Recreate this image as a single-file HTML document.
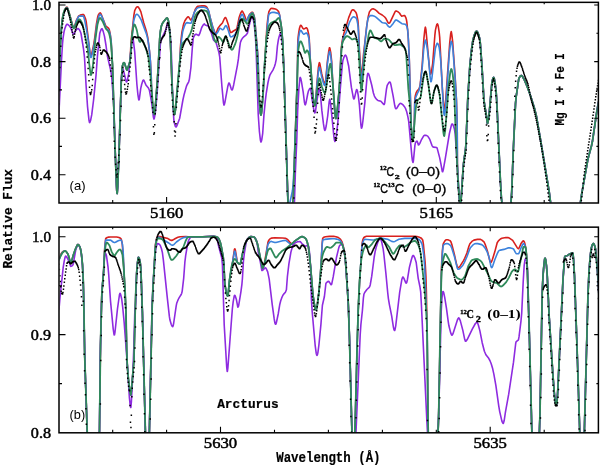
<!DOCTYPE html><html><head><meta charset="utf-8"><style>html,body{margin:0;padding:0;background:#fff}svg{display:block;will-change:transform}</style></head><body><svg width="600" height="465" viewBox="0 0 600 465"><defs><clipPath id="ca"><rect x="59.6" y="2.95" width="538.1999999999999" height="199.45000000000002"/></clipPath><clipPath id="cb"><rect x="59.6" y="227.75" width="538.1999999999999" height="204.45000000000002"/></clipPath></defs><rect width="600" height="465" fill="#fff"/><g clip-path="url(#ca)" fill="none" stroke-width="1.6" stroke-linejoin="round"><path d="M58.7 92.0 60.2 48.7 61.2 30.9 62.0 22.5 62.7 16.9 63.5 13.6 65.5 8.5 66.2 7.4 66.7 7.1 67.2 7.3 67.7 8.2 70.7 18.3 72.5 25.1 73.2 27.1 73.7 27.5 74.0 27.4 74.5 26.5 76.5 20.1 78.7 16.0 79.2 15.6 80.2 15.1 82.7 14.5 83.5 14.6 84.2 15.5 85.7 19.4 86.2 21.7 89.7 50.5 90.2 53.8 90.7 55.4 91.0 55.4 91.2 55.1 91.7 53.7 93.5 45.8 94.7 38.0 96.5 23.6 97.7 16.9 98.2 15.2 99.5 13.2 100.2 12.9 101.0 13.8 105.5 25.4 106.2 26.4 108.5 28.2 109.2 29.4 110.2 33.8 111.2 41.8 112.5 65.6 114.7 137.7 116.2 179.2 116.7 190.3 117.0 193.2 117.2 193.5 117.7 186.6 119.0 153.2 121.2 83.0 122.2 67.6 122.5 65.7 123.0 64.0 123.7 62.7 124.2 62.7 124.7 63.7 126.7 69.7 127.0 70.0 127.2 69.9 129.7 62.5 130.2 58.7 130.9 44.3 131.4 38.4 133.9 15.1 134.7 10.6 135.7 8.5 136.4 7.4 137.4 6.7 137.9 6.8 138.4 7.2 139.4 8.7 140.9 11.9 143.7 22.8 146.4 31.3 147.7 37.2 149.4 50.3 150.4 61.3 151.2 75.0 151.4 86.6 152.4 103.2 153.4 112.4 153.9 114.3 154.2 114.5 154.7 112.9 155.2 108.6 157.4 79.5 159.9 35.3 160.9 28.1 161.9 24.4 163.4 21.8 165.9 18.7 166.9 18.0 167.4 18.2 167.9 19.3 168.4 20.8 168.9 23.4 169.7 30.7 170.4 41.2 171.9 84.0 172.7 97.2 173.7 110.5 174.2 113.9 174.4 114.5 174.7 114.3 174.9 113.4 175.4 109.9 178.9 72.5 179.7 63.0 180.4 47.4 180.9 41.1 181.9 32.4 183.2 25.8 183.9 23.3 184.9 20.7 186.2 18.7 187.4 17.2 187.9 16.9 188.4 16.8 188.9 17.3 190.4 19.7 190.9 20.0 191.4 19.6 193.2 15.8 195.2 9.4 196.9 6.9 197.9 6.2 201.9 5.8 204.2 5.9 205.9 6.3 206.7 7.0 207.7 8.8 208.7 11.2 210.2 17.6 212.7 26.7 214.7 32.1 215.2 33.1 215.7 33.5 215.9 33.4 216.4 32.6 217.7 28.9 218.2 28.0 219.9 25.6 222.4 23.0 224.4 18.5 225.2 17.6 225.7 17.6 226.4 19.0 228.4 25.1 229.9 31.1 230.4 32.3 230.9 32.6 231.7 32.3 233.4 31.0 235.7 29.8 236.7 28.8 236.9 28.3 239.2 17.2 240.7 13.0 241.7 11.3 242.2 11.1 242.9 12.0 244.2 14.6 245.7 18.8 246.4 20.0 246.9 19.8 247.4 19.2 249.2 15.1 250.4 13.5 251.4 12.6 252.2 12.3 252.7 12.4 253.2 13.2 254.2 16.1 254.7 18.6 257.7 53.6 258.2 62.0 258.9 93.9 259.9 108.9 260.4 113.2 260.9 115.0 261.2 114.7 261.7 111.4 262.9 95.7 266.7 29.8 267.2 23.8 268.2 15.3 268.9 11.7 269.9 9.8 270.9 8.6 271.4 8.4 273.4 8.6 275.4 9.0 276.4 9.4 277.7 10.5 278.7 11.8 279.7 15.4 281.4 26.9 282.7 41.8 283.7 65.7 287.9 200.1 289.4 219.8 289.9 223.5 290.4 225.0 290.7 224.8 291.2 222.6 291.9 215.9 292.9 202.7 293.4 192.5 296.4 101.5 297.2 84.2 297.7 46.4 297.9 40.0 298.2 36.5 298.7 32.8 299.4 28.6 300.2 25.9 300.7 25.2 301.2 25.4 302.9 28.3 303.7 29.0 304.4 28.8 305.9 27.8 306.7 27.8 307.2 28.6 307.7 30.0 308.7 34.4 309.2 38.0 310.2 57.7 312.2 88.6 312.7 94.2 313.4 99.7 314.2 104.0 314.7 105.5 314.9 105.7 315.2 104.8 315.4 102.9 317.2 80.0 318.4 67.4 319.2 63.0 319.4 62.7 319.9 63.8 321.7 73.7 323.4 80.7 324.2 83.0 324.7 83.7 324.9 83.8 325.2 83.2 325.7 80.1 327.4 61.4 328.7 51.5 329.4 47.8 329.7 47.7 329.9 48.3 330.7 52.4 331.7 61.7 332.9 85.1 334.4 107.1 335.2 115.5 335.7 118.2 335.9 118.5 336.4 117.1 337.2 111.6 339.4 87.6 340.2 75.0 340.7 57.5 341.2 49.9 341.9 42.7 342.7 38.4 344.2 32.2 346.2 26.4 348.7 17.6 351.4 11.0 352.2 10.0 352.9 9.7 353.9 10.1 355.4 11.7 356.2 13.0 356.7 14.5 357.9 20.3 358.4 26.9 359.4 49.2 360.4 65.6 360.9 72.1 361.4 75.0 361.7 74.6 362.2 70.9 363.4 55.5 366.7 26.2 368.2 16.8 369.4 11.9 370.7 10.1 371.9 9.0 373.2 8.8 374.7 9.4 376.4 10.6 379.2 13.4 382.2 15.0 384.7 17.0 385.7 18.2 387.9 22.4 388.4 23.0 388.9 23.2 389.7 22.8 390.4 21.6 394.9 12.1 395.7 11.1 396.7 11.1 397.7 11.6 399.4 13.0 400.9 15.3 401.7 16.1 402.4 16.0 404.2 15.5 404.7 15.6 404.9 15.8 405.7 17.3 406.4 19.6 406.9 22.5 408.2 36.4 409.2 56.3 411.2 126.2 411.9 136.2 412.7 140.9 412.9 140.8 413.4 137.7 414.2 126.9 414.7 102.9 414.9 98.7 415.4 95.4 416.2 92.7 417.2 90.8 418.7 89.2 419.4 88.0 420.2 84.6 422.2 64.8 423.9 38.5 424.7 30.8 425.2 27.5 425.4 27.1 425.9 29.4 429.2 65.1 429.9 71.4 430.4 73.8 430.7 74.1 430.9 73.8 431.4 72.0 432.7 63.3 434.9 34.8 435.4 30.3 436.2 26.7 436.9 24.3 437.4 23.9 437.7 24.2 438.2 25.9 439.2 32.3 439.7 37.5 442.4 89.3 443.7 106.2 444.2 109.8 444.4 110.2 444.9 108.0 445.7 100.2 449.7 43.0 450.7 33.7 451.2 31.6 451.4 32.1 451.9 35.1 452.7 42.2 455.2 77.8 456.4 98.5 457.2 124.4 457.4 163.3 457.7 176.5 458.2 186.9 459.4 199.3 460.2 210.0 460.4 208.6 461.2 198.3 463.2 167.1 463.9 160.4 465.4 150.7 465.9 144.7 467.9 95.9 469.9 65.0 471.7 48.3 472.9 40.2 474.2 35.6 475.2 32.8 475.9 31.5 476.7 31.2 477.2 31.6 477.7 32.4 478.7 35.0 479.7 38.7 480.2 42.1 481.9 65.2 483.9 99.5 484.7 105.5 486.2 114.3 487.2 122.5 487.4 123.4 487.7 123.2 488.2 120.9 489.4 111.2 491.9 82.3 492.9 78.5 493.4 77.5 493.7 77.4 494.2 78.4 495.2 84.0 496.2 92.7 496.9 103.7 500.4 181.1 501.4 198.3 503.4 214.2 504.4 219.8 505.4 223.6 506.2 224.9 506.7 224.9 507.2 224.4 507.9 222.4 509.4 214.8 510.9 203.3 511.7 192.3 513.2 152.3 515.5 103.7 516.2 96.4 518.7 79.3 519.2 77.8 520.2 76.2 521.0 75.6 521.7 75.6 522.7 76.8 524.7 80.6 527.2 86.6 530.5 95.7 534.2 107.4 536.2 115.2 540.2 138.0 549.2 191.9 550.7 203.4 553.5 230.2 554.7 238.8 557.5 247.8 560.2 254.7 561.5 257.0 562.7 258.7 564.0 259.7 565.0 260.0 566.2 259.7 567.7 258.7 569.0 257.2 570.5 254.7 572.0 251.6 573.5 247.8 576.2 239.2 577.2 232.3 579.7 207.3 581.7 193.9 587.7 160.4 589.0 154.9 591.5 145.7 592.5 141.0 596.7 112.1 598.2 103.7 600.0 95.2" stroke="#d8201e" stroke-width="1.6"/><path d="M58.7 92.0 60.2 48.7 61.5 27.6 62.2 20.9 63.2 15.2 64.2 11.9 65.5 8.9 66.2 7.9 66.7 7.6 67.2 7.8 67.7 8.7 70.7 18.8 72.5 25.6 73.2 27.6 73.7 28.0 74.0 27.9 74.5 27.1 76.2 21.7 78.0 17.7 78.7 16.5 79.2 16.1 83.2 16.1 83.7 16.7 84.7 20.4 86.7 30.7 88.7 43.4 90.2 55.2 90.7 57.3 91.0 57.5 91.5 56.7 92.0 54.9 94.2 44.3 95.0 39.6 96.7 25.6 98.2 18.7 99.0 16.0 99.7 14.5 100.0 14.4 100.5 14.6 101.5 15.9 103.7 21.0 105.7 27.4 106.5 28.6 108.5 30.2 109.5 32.0 110.5 36.2 111.2 41.9 112.5 65.5 114.7 137.7 116.2 179.2 116.7 190.3 117.0 193.2 117.2 193.5 117.7 186.6 119.0 153.2 121.2 83.0 122.2 67.6 122.5 65.7 123.0 64.0 123.7 62.7 124.2 62.7 124.7 63.7 126.7 69.7 127.0 70.0 127.2 69.9 129.7 62.4 130.2 59.5 133.4 23.1 133.9 20.0 134.4 18.3 135.4 15.6 136.2 14.4 136.9 14.2 138.2 15.1 139.4 16.8 141.2 19.9 146.2 33.4 147.2 36.9 148.2 41.7 149.4 50.3 150.4 60.8 151.2 75.3 151.7 91.9 152.4 103.6 153.2 111.0 153.7 113.6 154.2 114.5 154.7 112.9 155.2 108.6 157.2 82.9 158.2 68.0 159.7 38.8 160.4 31.2 161.4 25.9 162.7 22.9 166.4 18.3 167.2 18.0 167.9 19.3 168.4 20.8 168.9 23.4 170.2 37.3 170.9 52.9 172.2 88.6 173.4 107.9 173.9 112.5 174.4 114.5 174.7 114.3 174.9 113.4 175.7 107.6 179.2 69.0 180.7 47.9 181.7 38.5 182.7 31.7 183.2 29.7 184.4 26.2 185.4 24.0 186.2 23.0 186.9 22.6 190.4 23.2 190.9 23.2 191.2 23.0 191.9 21.0 193.9 13.2 196.4 9.0 197.2 8.2 197.9 7.7 200.2 7.2 202.2 7.1 203.9 7.3 205.9 7.8 206.7 8.2 207.7 9.3 208.2 10.0 208.7 11.3 210.2 17.8 212.7 27.1 214.4 32.2 215.4 34.0 215.7 34.2 216.2 34.1 216.9 33.3 218.2 31.5 219.4 28.9 219.9 28.3 220.7 28.5 222.2 29.7 222.9 29.8 223.7 29.0 225.2 26.2 225.9 25.6 226.4 25.9 226.9 26.9 228.4 30.8 229.9 35.7 230.7 36.9 232.2 36.5 234.2 35.3 235.4 33.7 236.7 31.5 237.4 29.1 239.2 21.5 240.9 16.0 241.7 14.5 242.2 14.3 242.7 14.7 244.9 20.1 245.4 20.9 245.9 21.3 246.4 21.0 246.9 20.3 248.4 16.8 249.2 15.5 251.4 13.2 252.2 12.9 252.7 13.0 253.7 15.1 254.4 17.7 254.7 19.3 257.7 53.7 258.2 62.0 258.9 93.9 259.9 108.9 260.4 113.2 260.9 115.0 261.2 114.7 261.4 113.4 262.2 105.8 263.2 92.1 264.9 58.6 265.9 48.1 267.2 28.5 268.4 16.5 268.9 14.3 270.2 13.2 271.4 12.5 272.7 12.3 274.2 12.4 278.2 13.4 279.4 14.5 279.9 16.7 281.7 29.6 282.7 41.8 283.7 65.7 286.4 150.5 287.7 196.1 287.9 199.4 288.4 202.5 288.9 204.3 289.2 204.5 289.7 203.4 292.4 191.0 292.9 186.7 293.4 179.6 294.2 165.0 295.2 130.6 295.4 130.0 295.7 127.8 295.9 120.6 297.2 82.0 297.9 45.6 298.7 37.3 299.4 33.1 300.2 30.7 300.7 30.3 301.2 30.7 302.9 33.5 303.7 34.2 304.4 34.0 306.2 32.9 306.9 33.2 307.9 35.0 308.9 38.5 309.4 43.9 310.2 58.4 312.4 91.6 313.7 101.3 314.2 104.0 314.7 105.5 314.9 105.7 315.2 104.9 315.4 103.3 317.2 82.9 318.4 71.7 319.2 67.5 319.4 67.3 319.9 68.2 321.7 76.9 323.4 83.0 324.2 84.9 324.7 85.5 324.9 85.6 325.2 85.0 325.7 82.0 327.4 63.9 328.7 54.9 329.4 51.7 329.7 51.6 329.9 52.1 330.7 55.8 331.7 64.1 332.9 85.2 334.7 110.2 335.4 117.2 335.7 118.2 335.9 118.5 336.4 117.1 337.2 111.6 339.2 90.1 339.9 79.5 340.9 56.3 341.4 49.9 342.2 43.4 342.7 40.7 343.4 37.9 344.2 36.2 346.4 32.2 349.2 22.9 351.2 19.0 352.2 17.6 353.2 16.8 354.4 17.0 355.7 17.7 356.2 18.1 356.7 19.2 357.7 23.8 358.2 27.9 359.4 54.2 360.4 70.5 360.9 76.9 361.4 79.8 361.7 79.4 362.2 75.9 364.9 43.5 366.4 29.4 367.4 21.5 367.9 19.0 368.4 17.8 369.7 16.1 370.7 15.5 372.2 15.6 374.4 16.2 376.2 17.4 381.9 22.4 382.9 22.7 385.4 23.1 386.2 23.5 388.4 26.4 389.4 27.1 390.2 26.9 390.9 26.2 393.2 23.4 395.2 20.5 395.9 20.0 396.4 20.0 397.4 20.5 401.9 23.7 405.2 24.3 405.9 24.7 406.7 26.0 407.7 29.7 408.4 39.9 409.4 63.0 411.2 126.2 411.9 136.2 412.7 140.9 412.9 140.8 413.4 137.7 414.2 126.9 414.7 104.6 414.9 100.9 415.7 97.4 417.4 93.4 418.9 90.6 419.9 87.0 420.9 79.6 422.2 68.0 423.7 49.5 424.7 42.3 425.2 40.2 425.4 40.0 425.9 41.2 427.2 48.2 428.7 60.9 430.2 77.7 430.7 81.1 430.9 81.8 431.2 81.6 431.4 80.9 431.9 78.1 435.4 48.2 436.7 44.0 437.2 43.3 437.4 43.2 438.2 44.3 439.2 47.6 439.9 52.3 440.9 62.6 443.4 107.8 443.9 113.5 444.2 115.0 444.4 115.4 444.9 113.5 445.7 106.0 449.4 52.4 450.7 42.6 451.2 41.3 451.7 42.1 452.2 44.3 452.9 49.3 455.2 79.6 456.4 99.5 457.2 124.6 457.4 163.3 457.7 176.5 458.2 186.9 459.4 199.3 460.2 210.0 460.4 208.6 461.2 198.3 463.2 167.1 463.9 160.4 465.4 150.7 465.9 144.7 467.9 95.9 469.9 65.0 471.7 48.3 472.9 40.2 474.2 35.6 475.2 32.8 475.9 31.5 476.7 31.2 477.2 31.6 477.7 32.4 478.7 35.0 479.7 38.7 480.2 42.1 481.9 65.2 483.9 99.5 484.7 105.5 486.2 114.3 487.2 122.5 487.4 123.4 487.7 123.2 488.2 120.9 489.4 111.2 491.9 82.3 492.9 78.5 493.4 77.5 493.7 77.4 494.2 78.4 495.2 84.0 496.2 92.7 496.9 103.7 500.4 181.1 501.4 198.3 503.4 214.2 504.4 219.8 505.4 223.6 506.2 224.9 506.7 224.9 507.2 224.4 507.9 222.4 509.4 214.8 510.9 203.3 511.7 192.3 513.2 152.3 515.5 103.7 516.2 96.4 518.7 79.3 519.2 77.8 520.2 76.2 521.0 75.6 521.7 75.6 522.7 76.8 524.7 80.6 527.2 86.6 530.5 95.7 534.2 107.4 536.2 115.2 540.2 138.0 549.2 191.9 550.7 203.4 553.5 230.2 554.7 238.8 557.5 247.8 560.2 254.7 561.5 257.0 562.7 258.7 564.0 259.7 565.0 260.0 566.2 259.7 567.7 258.7 569.0 257.2 570.5 254.7 572.0 251.6 573.5 247.8 576.2 239.2 577.2 232.3 579.7 207.3 581.7 193.9 587.7 160.4 589.0 154.9 591.5 145.7 592.5 141.0 596.7 112.1 598.2 103.7 600.0 95.2" stroke="#3c82dc" stroke-width="1.6"/><path d="M58.7 118.0 61.5 60.0 62.5 44.0 63.0 38.4 64.0 31.9 64.7 29.1 66.0 25.5 66.7 24.4 67.2 24.3 68.2 24.8 69.5 26.0 70.7 27.7 72.7 33.3 73.5 34.2 74.0 33.8 75.2 31.3 76.2 30.0 77.2 28.9 78.0 28.6 78.7 28.9 79.5 29.9 80.5 32.0 81.0 33.4 83.5 48.8 84.5 57.5 86.0 84.2 87.5 106.3 89.0 120.3 89.5 122.5 89.7 122.6 90.5 120.8 91.7 114.9 93.7 99.0 96.0 75.6 97.5 55.3 99.7 33.8 100.0 32.5 101.0 29.7 101.7 28.7 102.2 28.8 103.2 31.4 104.5 36.4 106.0 45.5 107.5 56.6 110.7 70.2 111.7 76.8 113.7 103.9 116.2 179.2 116.7 190.3 117.0 193.2 117.2 193.5 117.7 186.6 119.0 153.2 121.2 82.4 122.0 71.1 122.5 68.0 122.7 68.1 123.5 70.4 126.0 81.1 126.5 82.0 126.7 81.9 127.2 80.9 128.7 73.8 131.4 44.8 132.2 39.5 132.7 37.5 132.9 37.7 133.2 39.0 134.7 51.8 136.9 84.5 137.9 94.6 138.7 99.5 138.9 100.0 139.2 99.7 139.4 98.6 140.7 88.6 141.7 84.3 142.9 80.6 143.4 80.0 143.9 80.2 145.9 84.9 148.4 88.0 149.4 90.3 150.9 98.3 152.2 106.4 153.4 117.1 153.9 119.0 154.2 118.8 154.4 117.9 155.2 113.8 156.4 101.6 157.4 89.0 160.4 43.6 161.4 39.3 165.7 29.8 166.4 27.8 167.4 23.6 167.7 23.2 167.9 23.5 168.9 27.1 169.7 31.1 170.9 42.6 171.4 53.8 172.4 88.7 173.7 117.9 173.9 120.7 174.7 124.3 175.4 126.5 175.9 127.0 176.4 126.7 176.9 125.7 179.7 118.2 182.9 100.0 184.2 94.2 186.4 86.4 187.2 84.5 188.7 81.8 189.4 79.1 190.9 67.5 192.4 46.8 193.2 38.8 193.4 37.5 194.7 35.1 195.4 34.4 195.9 34.2 196.7 34.4 198.2 35.4 198.7 35.5 198.9 35.3 199.7 33.7 201.7 27.5 203.4 24.6 204.4 23.9 205.2 25.1 207.9 26.0 208.4 26.3 208.9 27.0 211.2 32.5 213.4 39.8 213.9 40.5 215.4 41.8 216.2 43.1 218.9 52.4 219.7 56.8 221.9 86.2 223.4 102.3 223.9 105.0 224.2 104.9 224.4 104.3 224.9 102.3 227.9 85.9 228.7 83.3 228.9 83.0 229.2 83.1 229.7 84.0 231.2 88.8 231.7 89.8 231.9 90.0 232.2 89.9 232.7 88.9 233.7 84.7 237.4 65.3 238.4 58.9 239.7 47.4 240.4 42.5 241.4 39.9 242.4 38.3 243.4 37.2 246.2 34.9 247.4 33.2 250.7 19.1 251.7 16.8 252.2 16.2 252.4 16.1 252.9 17.4 254.2 24.3 255.4 35.7 256.2 52.4 258.2 114.0 259.4 131.5 260.4 140.1 260.9 142.0 261.2 141.8 261.7 140.1 262.7 133.3 263.9 115.6 265.2 101.8 266.2 93.6 267.9 83.0 268.9 78.4 269.9 75.1 270.7 73.6 272.9 70.1 274.4 66.7 275.4 63.4 276.2 59.6 277.4 46.1 278.4 39.7 279.2 36.4 279.9 34.3 280.4 33.6 280.7 33.5 280.9 34.0 281.4 36.1 282.7 46.2 283.7 64.4 287.9 200.1 289.4 219.8 289.9 223.5 290.4 225.0 290.7 224.6 291.2 220.6 292.7 202.9 292.9 202.0 293.2 202.2 294.2 204.9 294.4 203.9 295.4 171.3 296.7 142.1 297.7 110.1 298.9 88.5 299.9 78.0 300.2 77.4 300.7 78.1 301.4 81.4 303.2 92.2 304.4 102.0 304.9 104.4 305.2 104.8 305.4 104.6 305.9 103.3 307.7 94.0 308.4 91.1 309.7 88.7 310.2 88.3 310.4 88.4 310.9 90.5 312.2 100.1 313.7 109.1 314.2 111.5 314.7 112.9 314.9 113.0 315.4 111.7 317.2 99.1 318.4 91.6 318.9 89.2 319.2 88.5 319.4 88.3 319.7 88.9 320.2 92.0 321.9 110.9 323.4 123.4 324.2 128.5 324.7 130.2 324.9 130.4 325.4 129.5 326.2 126.0 327.7 116.0 329.2 101.7 329.7 99.4 329.9 99.5 330.7 104.1 333.9 136.6 334.4 140.0 334.9 141.4 335.2 141.2 335.4 140.7 336.2 136.7 337.9 121.6 340.2 89.8 342.4 64.0 342.9 60.5 343.7 57.9 344.7 55.6 345.4 55.0 345.9 55.5 346.7 57.4 348.7 66.3 351.4 87.4 353.4 98.1 353.9 99.0 354.4 98.3 356.4 89.9 356.7 89.5 356.9 89.6 357.4 90.9 358.2 95.2 359.4 104.9 360.9 125.0 361.4 128.2 361.7 128.0 362.2 126.3 362.9 121.0 364.9 102.2 366.9 78.9 367.4 75.0 367.9 73.3 368.2 73.4 368.7 74.1 369.4 76.2 371.7 85.0 373.4 93.0 374.4 96.1 375.7 98.3 376.9 99.7 377.9 100.4 380.9 101.3 383.7 104.4 384.2 104.5 384.7 102.9 386.4 89.5 387.2 85.4 388.7 82.8 389.4 82.1 389.9 82.0 390.4 82.8 390.9 84.6 393.2 96.4 394.7 105.3 395.2 107.5 395.7 108.7 396.2 108.7 396.7 108.3 398.7 105.0 399.7 103.8 400.2 103.4 400.9 103.5 401.7 103.8 402.7 104.6 404.7 107.0 405.7 108.9 406.7 111.8 407.9 116.9 408.7 121.4 411.9 156.6 412.4 160.6 412.9 162.4 413.2 162.0 413.4 160.8 414.9 145.4 415.4 142.9 416.2 141.6 416.9 141.0 417.4 141.8 418.4 144.9 418.9 144.8 419.7 143.6 421.2 140.2 423.7 135.9 424.7 135.2 426.2 135.4 427.7 136.1 428.9 137.9 429.9 139.7 431.9 145.3 432.7 146.7 433.4 147.1 436.7 147.5 437.2 148.4 439.7 157.9 440.9 163.8 442.2 171.0 442.4 171.7 442.7 171.8 443.4 169.2 445.4 157.8 449.4 133.5 451.4 125.1 451.9 124.1 452.2 124.0 452.7 124.3 453.4 125.7 454.4 129.0 455.2 134.1 460.2 210.0 460.4 208.6 461.2 198.3 463.2 167.1 463.9 160.4 465.4 150.7 465.9 144.7 467.9 95.9 469.9 65.0 471.7 48.3 472.9 40.2 474.2 35.6 475.2 32.8 475.9 31.5 476.7 31.2 477.2 31.6 477.7 32.4 478.7 35.0 479.7 38.7 480.2 42.1 481.9 65.2 483.9 99.5 484.7 105.5 486.2 114.3 487.2 122.5 487.4 123.4 487.7 123.2 488.2 120.9 489.4 111.2 491.9 82.3 492.9 78.5 493.4 77.5 493.7 77.4 494.2 78.4 495.2 84.0 496.2 92.7 496.9 103.7 500.4 181.1 501.4 198.3 503.4 214.2 504.4 219.8 505.4 223.6 506.2 224.9 506.7 224.9 507.2 224.4 507.9 222.4 509.4 214.8 510.9 203.3 511.7 192.3 513.2 152.3 515.5 103.7 516.2 96.4 518.7 79.3 519.2 77.8 520.2 76.2 521.0 75.6 521.7 75.6 522.7 76.8 524.7 80.6 527.2 86.6 530.5 95.7 534.2 107.4 536.2 115.2 540.2 138.0 549.2 191.9 550.7 203.4 553.5 230.2 554.7 238.8 557.5 247.8 560.2 254.7 561.5 257.0 562.7 258.7 564.0 259.7 565.2 260.0 566.5 259.6 567.7 258.7 569.0 257.2 570.5 254.7 572.0 251.6 573.5 247.8 576.2 239.2 577.2 232.3 579.7 207.3 581.7 193.9 587.7 160.4 589.0 154.9 591.5 145.7 592.5 141.0 596.7 112.1 598.2 103.7 600.0 95.2" stroke="#8e2be0" stroke-width="1.6"/><path d="M58.7 92.0 60.2 48.7 61.2 30.8 62.0 22.6 62.7 16.9 63.7 12.3 64.7 9.6 65.7 8.5 66.7 8.0 67.2 8.2 67.7 9.1 69.0 12.4 71.7 23.5 73.0 27.3 73.5 28.3 73.7 28.4 74.2 27.9 76.5 23.0 78.2 20.2 79.0 19.5 79.7 19.5 80.5 20.2 82.2 23.3 83.0 26.1 87.2 45.9 88.0 50.9 89.2 63.5 90.2 71.5 90.7 74.4 91.0 75.0 91.2 74.8 91.7 72.9 93.0 64.8 95.5 38.3 97.5 24.4 98.5 20.7 99.2 18.8 99.7 18.1 100.0 18.0 100.5 18.2 101.7 19.9 103.0 22.1 105.5 28.0 106.2 29.1 108.0 31.0 109.0 33.1 109.7 35.8 110.5 39.6 111.2 45.8 112.5 64.9 115.2 152.2 116.5 185.4 117.0 193.2 117.2 193.5 117.7 186.6 119.0 153.2 121.2 83.0 122.2 67.6 122.5 65.7 123.0 64.0 123.7 62.7 124.2 62.7 124.7 63.7 126.7 69.7 127.0 70.0 127.2 69.9 129.4 63.3 129.9 61.3 130.4 57.0 132.2 33.5 133.2 27.8 133.7 25.8 134.2 24.7 134.4 24.5 134.9 24.8 135.9 27.3 136.9 30.6 138.4 38.2 139.4 41.4 139.7 41.9 140.2 41.9 141.4 40.3 141.9 40.0 142.4 40.3 142.9 41.1 146.4 50.0 148.2 56.3 148.9 60.8 150.2 72.0 153.2 108.8 153.7 112.9 154.2 114.5 154.7 112.9 155.2 108.6 157.2 82.9 158.2 68.0 159.7 38.8 160.4 31.2 161.4 25.9 162.7 22.9 166.4 18.3 167.2 18.0 167.7 18.7 168.4 20.8 168.9 23.4 170.2 37.3 170.9 52.9 172.2 88.6 173.4 107.9 173.9 112.5 174.4 114.5 174.7 114.3 174.9 113.4 175.4 109.9 179.4 64.9 180.9 51.1 181.7 46.1 182.2 44.5 183.2 42.7 188.2 37.5 189.9 34.5 190.9 32.2 191.9 29.0 194.9 16.7 195.7 14.9 196.9 13.1 198.4 11.7 200.2 10.8 201.7 10.4 204.2 10.4 206.7 11.2 207.7 13.0 209.2 17.5 213.9 37.8 214.4 39.5 215.4 41.5 215.9 42.1 216.4 42.2 216.9 41.1 217.9 37.5 218.4 36.9 219.2 37.2 220.4 38.3 221.4 39.5 222.7 41.8 223.2 42.3 223.4 42.2 223.9 40.9 224.9 37.0 225.4 36.3 226.2 37.3 229.9 46.9 231.2 49.2 231.9 49.8 232.7 49.2 233.4 48.0 234.9 44.7 235.9 41.8 237.4 36.3 239.7 23.9 241.4 19.2 241.9 18.6 242.2 18.6 243.2 19.1 244.9 20.9 246.7 23.6 247.2 23.9 247.4 23.9 248.2 22.6 249.4 18.8 251.2 14.9 251.9 13.7 252.4 13.5 252.7 13.7 253.7 16.1 254.2 19.1 255.7 35.9 257.2 58.6 258.9 94.3 260.2 110.5 260.7 114.3 260.9 115.0 261.2 114.7 261.4 113.4 262.2 105.8 263.2 92.1 264.7 62.9 265.7 47.6 266.4 38.0 267.2 32.4 268.4 27.1 268.9 25.7 269.7 24.4 270.7 23.3 271.7 22.6 275.9 20.6 277.9 18.3 278.7 18.0 279.2 18.5 279.7 19.4 280.9 23.6 281.7 29.5 282.7 41.8 283.7 65.7 287.9 200.1 289.4 219.8 289.9 223.5 290.4 225.0 290.7 224.8 290.9 224.0 291.7 218.5 293.2 198.5 297.9 58.9 298.4 49.4 299.2 44.7 299.9 42.1 300.4 41.3 300.7 41.3 301.2 41.7 301.7 42.6 303.4 47.3 304.4 51.5 304.9 52.8 305.2 52.9 305.4 52.7 306.7 50.5 307.2 50.4 307.7 50.9 308.2 51.9 309.2 54.9 309.9 59.4 310.7 66.0 312.7 94.0 313.9 102.8 314.7 105.5 314.9 105.7 315.2 105.2 315.7 102.8 317.4 88.3 318.7 80.4 319.2 78.5 319.4 78.3 319.7 78.5 320.2 79.7 321.9 86.7 323.4 90.8 324.2 92.4 324.9 93.0 325.4 91.9 325.9 89.4 329.4 66.5 330.2 63.8 330.4 63.7 330.7 64.2 331.4 69.2 333.2 88.4 335.2 114.9 335.7 118.2 335.9 118.5 336.4 117.1 336.9 113.8 338.9 92.4 341.7 46.7 342.2 43.9 342.9 41.5 343.7 39.9 345.4 37.3 346.2 36.5 346.9 36.1 347.7 36.2 348.7 36.8 351.9 39.4 352.7 39.3 354.4 38.7 355.4 38.9 356.4 39.8 357.4 41.4 357.9 44.1 358.7 51.1 360.9 87.5 361.4 91.6 361.7 91.0 361.9 89.1 364.7 55.7 365.4 51.5 366.9 45.4 368.7 34.7 369.7 31.2 370.2 30.3 370.4 30.3 371.2 31.4 373.9 37.3 374.9 37.9 377.7 38.9 380.4 41.1 381.2 41.3 381.7 41.1 383.7 39.1 384.4 38.7 386.2 38.9 388.2 39.4 389.2 40.0 391.4 42.6 394.4 45.0 395.7 45.2 399.4 44.5 400.4 44.7 401.4 45.2 404.2 47.4 405.4 49.6 405.9 51.7 406.2 54.1 408.4 89.4 409.9 104.4 411.2 126.7 412.2 138.1 412.7 140.9 412.9 140.7 413.2 139.0 415.2 114.3 415.9 107.3 416.9 102.7 417.7 100.5 418.4 99.5 420.2 98.1 420.7 96.8 423.9 74.9 424.4 72.7 424.9 71.9 425.4 71.5 425.7 71.6 426.2 72.8 426.9 76.3 428.4 84.7 430.4 99.8 430.9 102.3 431.4 103.4 431.7 103.2 432.2 101.7 433.9 91.8 435.7 86.5 436.4 85.4 436.9 85.4 437.4 86.2 437.9 87.5 439.7 95.3 443.4 132.6 443.9 135.6 444.2 136.0 444.4 135.6 445.2 130.3 446.7 112.6 448.7 84.4 450.4 71.3 451.2 69.0 451.4 69.1 451.7 69.5 452.7 74.1 453.9 85.0 454.4 95.3 455.4 126.2 456.9 159.7 457.9 177.5 460.2 210.0 460.4 208.6 461.2 198.3 463.2 167.1 463.9 160.4 465.4 150.7 465.9 144.7 467.9 95.9 469.9 65.0 471.7 48.3 472.9 40.2 474.2 35.6 475.2 32.8 475.9 31.5 476.7 31.2 477.2 31.6 477.7 32.4 478.7 35.0 479.7 38.7 480.2 42.1 481.9 65.2 483.9 99.5 484.7 105.5 486.2 114.3 487.2 122.5 487.4 123.4 487.7 123.2 488.2 120.9 489.4 111.2 491.9 82.3 492.9 78.5 493.4 77.5 493.7 77.4 494.2 78.4 495.2 84.0 496.2 92.7 496.9 103.7 500.4 181.1 501.4 198.3 503.4 214.2 504.4 219.8 505.4 223.6 506.2 224.9 506.7 224.9 507.2 224.4 507.9 222.4 509.4 214.8 510.9 203.3 511.7 192.3 513.2 152.3 515.5 103.7 516.2 96.4 518.7 79.3 519.2 77.8 520.2 76.2 521.0 75.6 521.7 75.6 522.7 76.8 524.7 80.6 527.2 86.6 530.5 95.7 534.2 107.4 536.2 115.2 540.2 138.0 549.2 191.9 550.7 203.4 553.5 230.2 554.7 238.8 557.5 247.8 560.2 254.7 561.5 257.0 562.7 258.7 564.0 259.7 565.0 260.0 566.2 259.7 567.7 258.7 569.0 257.2 570.5 254.7 572.0 251.6 573.5 247.8 576.2 239.2 577.2 232.3 579.7 207.3 581.7 193.9 587.7 160.4 589.0 154.9 591.5 145.7 592.5 141.0 596.7 112.1 598.2 103.7 600.0 95.2" stroke="#2f8a5a" stroke-width="1.8"/><path d="M58.1 103.2h1.5v1.5h-1.5zM58.6 88.7h1.5v1.5h-1.5zM59.1 66.8h1.5v1.5h-1.5zM59.5 55.0h1.5v1.5h-1.5zM60.0 45.4h1.5v1.5h-1.5zM60.4 37.7h1.5v1.5h-1.5zM60.9 31.5h1.5v1.5h-1.5zM61.3 26.9h1.5v1.5h-1.5zM61.8 23.3h1.5v1.5h-1.5zM62.2 20.2h1.5v1.5h-1.5zM62.7 17.4h1.5v1.5h-1.5zM63.1 14.5h1.5v1.5h-1.5zM63.6 12.0h1.5v1.5h-1.5zM64.0 10.4h1.5v1.5h-1.5zM64.5 9.4h1.5v1.5h-1.5zM64.9 8.6h1.5v1.5h-1.5zM65.4 8.0h1.5v1.5h-1.5zM65.8 7.7h1.5v1.5h-1.5zM66.3 7.8h1.5v1.5h-1.5zM66.7 8.6h1.5v1.5h-1.5zM67.2 10.1h1.5v1.5h-1.5zM67.6 11.7h1.5v1.5h-1.5zM68.1 13.3h1.5v1.5h-1.5zM68.5 15.1h1.5v1.5h-1.5zM69.0 17.0h1.5v1.5h-1.5zM69.4 19.1h1.5v1.5h-1.5zM69.9 21.4h1.5v1.5h-1.5zM70.3 23.9h1.5v1.5h-1.5zM70.8 26.5h1.5v1.5h-1.5zM71.2 29.0h1.5v1.5h-1.5zM71.7 31.6h1.5v1.5h-1.5zM72.1 34.3h1.5v1.5h-1.5zM72.6 36.5h1.5v1.5h-1.5zM73.0 37.2h1.5v1.5h-1.5zM73.5 35.9h1.5v1.5h-1.5zM73.9 33.3h1.5v1.5h-1.5zM74.4 30.7h1.5v1.5h-1.5zM74.8 28.9h1.5v1.5h-1.5zM75.3 27.2h1.5v1.5h-1.5zM75.7 25.7h1.5v1.5h-1.5zM76.2 24.6h1.5v1.5h-1.5zM76.6 23.5h1.5v1.5h-1.5zM77.1 22.4h1.5v1.5h-1.5zM77.5 21.6h1.5v1.5h-1.5zM78.0 20.9h1.5v1.5h-1.5zM78.4 20.6h1.5v1.5h-1.5zM78.9 20.6h1.5v1.5h-1.5zM79.3 20.9h1.5v1.5h-1.5zM79.8 21.4h1.5v1.5h-1.5zM80.2 22.0h1.5v1.5h-1.5zM80.7 22.8h1.5v1.5h-1.5zM81.1 23.7h1.5v1.5h-1.5zM81.6 24.6h1.5v1.5h-1.5zM82.0 25.7h1.5v1.5h-1.5zM82.5 27.1h1.5v1.5h-1.5zM82.9 28.8h1.5v1.5h-1.5zM83.4 30.9h1.5v1.5h-1.5zM83.8 33.3h1.5v1.5h-1.5zM84.3 36.0h1.5v1.5h-1.5zM84.7 38.9h1.5v1.5h-1.5zM85.2 42.0h1.5v1.5h-1.5zM85.6 46.2h1.5v1.5h-1.5zM86.1 51.0h1.5v1.5h-1.5zM86.5 56.3h1.5v1.5h-1.5zM87.0 61.7h1.5v1.5h-1.5zM87.4 67.8h1.5v1.5h-1.5zM87.9 74.0h1.5v1.5h-1.5zM88.3 79.9h1.5v1.5h-1.5zM88.8 86.4h1.5v1.5h-1.5zM89.2 92.1h1.5v1.5h-1.5zM89.7 93.8h1.5v1.5h-1.5zM90.1 92.9h1.5v1.5h-1.5zM90.6 91.2h1.5v1.5h-1.5zM91.0 89.0h1.5v1.5h-1.5zM91.5 84.8h1.5v1.5h-1.5zM91.9 78.7h1.5v1.5h-1.5zM92.4 72.1h1.5v1.5h-1.5zM92.8 66.7h1.5v1.5h-1.5zM93.3 62.2h1.5v1.5h-1.5zM93.7 57.9h1.5v1.5h-1.5zM94.2 54.1h1.5v1.5h-1.5zM94.6 51.1h1.5v1.5h-1.5zM95.1 48.8h1.5v1.5h-1.5zM95.5 46.6h1.5v1.5h-1.5zM96.0 44.6h1.5v1.5h-1.5zM96.4 43.1h1.5v1.5h-1.5zM96.9 42.3h1.5v1.5h-1.5zM97.3 42.3h1.5v1.5h-1.5zM97.8 42.9h1.5v1.5h-1.5zM98.2 43.9h1.5v1.5h-1.5zM98.7 45.0h1.5v1.5h-1.5zM99.1 46.7h1.5v1.5h-1.5zM99.6 49.6h1.5v1.5h-1.5zM100.0 52.3h1.5v1.5h-1.5zM100.5 53.5h1.5v1.5h-1.5zM100.9 53.0h1.5v1.5h-1.5zM101.4 52.0h1.5v1.5h-1.5zM101.8 50.8h1.5v1.5h-1.5zM102.3 49.8h1.5v1.5h-1.5zM102.7 49.3h1.5v1.5h-1.5zM103.2 49.3h1.5v1.5h-1.5zM103.6 49.6h1.5v1.5h-1.5zM104.1 50.0h1.5v1.5h-1.5zM104.5 50.4h1.5v1.5h-1.5zM105.0 50.8h1.5v1.5h-1.5zM105.4 51.3h1.5v1.5h-1.5zM105.9 51.8h1.5v1.5h-1.5zM106.3 52.4h1.5v1.5h-1.5zM106.8 53.1h1.5v1.5h-1.5zM107.2 53.9h1.5v1.5h-1.5zM107.7 54.8h1.5v1.5h-1.5zM108.1 56.0h1.5v1.5h-1.5zM108.6 57.5h1.5v1.5h-1.5zM109.0 59.5h1.5v1.5h-1.5zM109.5 64.2h1.5v1.5h-1.5zM109.9 70.3h1.5v1.5h-1.5zM110.4 75.4h1.5v1.5h-1.5zM110.8 57.6h1.5v1.5h-1.5zM111.3 67.5h1.5v1.5h-1.5zM111.7 82.6h1.5v1.5h-1.5zM112.2 98.3h1.5v1.5h-1.5zM112.6 112.4h1.5v1.5h-1.5zM113.1 126.7h1.5v1.5h-1.5zM113.5 140.6h1.5v1.5h-1.5zM114.0 147.6h1.5v1.5h-1.5zM114.4 156.6h1.5v1.5h-1.5zM114.9 163.5h1.5v1.5h-1.5zM115.3 169.1h1.5v1.5h-1.5zM115.8 174.2h1.5v1.5h-1.5zM116.2 176.2h1.5v1.5h-1.5zM116.7 173.2h1.5v1.5h-1.5zM117.1 167.8h1.5v1.5h-1.5zM117.6 162.0h1.5v1.5h-1.5zM118.0 154.5h1.5v1.5h-1.5zM118.5 161.1h1.5v1.5h-1.5zM118.9 148.5h1.5v1.5h-1.5zM119.4 134.0h1.5v1.5h-1.5zM119.8 119.8h1.5v1.5h-1.5zM120.3 105.6h1.5v1.5h-1.5zM120.7 91.2h1.5v1.5h-1.5zM121.2 79.4h1.5v1.5h-1.5zM121.6 72.1h1.5v1.5h-1.5zM122.1 66.7h1.5v1.5h-1.5zM122.5 70.7h1.5v1.5h-1.5zM123.0 75.5h1.5v1.5h-1.5zM123.4 79.5h1.5v1.5h-1.5zM123.9 83.8h1.5v1.5h-1.5zM124.3 88.2h1.5v1.5h-1.5zM124.8 91.6h1.5v1.5h-1.5zM125.2 93.2h1.5v1.5h-1.5zM125.7 92.7h1.5v1.5h-1.5zM126.1 91.0h1.5v1.5h-1.5zM126.6 88.6h1.5v1.5h-1.5zM127.0 85.8h1.5v1.5h-1.5zM127.5 82.9h1.5v1.5h-1.5zM127.9 79.4h1.5v1.5h-1.5zM128.4 75.2h1.5v1.5h-1.5zM128.8 70.7h1.5v1.5h-1.5zM129.3 66.2h1.5v1.5h-1.5zM129.7 61.9h1.5v1.5h-1.5zM130.2 57.3h1.5v1.5h-1.5zM130.6 52.6h1.5v1.5h-1.5zM131.1 46.9h1.5v1.5h-1.5zM131.5 41.7h1.5v1.5h-1.5zM132.0 38.8h1.5v1.5h-1.5zM132.4 37.3h1.5v1.5h-1.5zM132.9 36.7h1.5v1.5h-1.5zM133.3 36.3h1.5v1.5h-1.5zM133.8 36.1h1.5v1.5h-1.5zM134.2 36.1h1.5v1.5h-1.5zM134.7 36.2h1.5v1.5h-1.5zM135.1 36.6h1.5v1.5h-1.5zM135.6 37.0h1.5v1.5h-1.5zM136.0 37.0h1.5v1.5h-1.5zM136.5 36.8h1.5v1.5h-1.5zM136.9 36.5h1.5v1.5h-1.5zM137.4 36.5h1.5v1.5h-1.5zM137.8 36.5h1.5v1.5h-1.5zM138.3 36.6h1.5v1.5h-1.5zM138.7 36.7h1.5v1.5h-1.5zM139.2 36.9h1.5v1.5h-1.5zM139.6 37.3h1.5v1.5h-1.5zM140.1 38.0h1.5v1.5h-1.5zM140.5 38.6h1.5v1.5h-1.5zM141.0 39.2h1.5v1.5h-1.5zM141.4 39.8h1.5v1.5h-1.5zM141.9 40.6h1.5v1.5h-1.5zM142.3 41.3h1.5v1.5h-1.5zM142.8 42.1h1.5v1.5h-1.5zM143.2 43.0h1.5v1.5h-1.5zM143.7 43.9h1.5v1.5h-1.5zM144.1 44.9h1.5v1.5h-1.5zM144.6 46.0h1.5v1.5h-1.5zM145.0 47.1h1.5v1.5h-1.5zM145.5 48.2h1.5v1.5h-1.5zM145.9 49.5h1.5v1.5h-1.5zM146.4 51.0h1.5v1.5h-1.5zM146.8 52.8h1.5v1.5h-1.5zM147.3 55.6h1.5v1.5h-1.5zM147.7 60.6h1.5v1.5h-1.5zM148.2 65.8h1.5v1.5h-1.5zM148.6 69.0h1.5v1.5h-1.5zM149.1 73.6h1.5v1.5h-1.5zM149.5 79.2h1.5v1.5h-1.5zM150.0 85.0h1.5v1.5h-1.5zM150.4 90.1h1.5v1.5h-1.5zM150.9 95.8h1.5v1.5h-1.5zM151.3 101.7h1.5v1.5h-1.5zM151.8 107.1h1.5v1.5h-1.5zM152.2 111.4h1.5v1.5h-1.5zM152.7 125.9h1.5v1.5h-1.5zM153.1 133.6h1.5v1.5h-1.5zM153.6 132.0h1.5v1.5h-1.5zM154.0 123.9h1.5v1.5h-1.5zM154.5 113.0h1.5v1.5h-1.5zM154.9 109.5h1.5v1.5h-1.5zM155.4 104.4h1.5v1.5h-1.5zM155.8 98.5h1.5v1.5h-1.5zM156.3 92.3h1.5v1.5h-1.5zM156.7 86.6h1.5v1.5h-1.5zM157.2 80.7h1.5v1.5h-1.5zM157.6 74.2h1.5v1.5h-1.5zM158.1 67.0h1.5v1.5h-1.5zM158.5 58.6h1.5v1.5h-1.5zM159.0 56.9h1.5v1.5h-1.5zM159.4 49.1h1.5v1.5h-1.5zM159.9 41.8h1.5v1.5h-1.5zM160.3 40.0h1.5v1.5h-1.5zM160.8 38.7h1.5v1.5h-1.5zM161.2 37.8h1.5v1.5h-1.5zM161.7 37.0h1.5v1.5h-1.5zM162.1 36.2h1.5v1.5h-1.5zM162.6 35.7h1.5v1.5h-1.5zM163.0 35.2h1.5v1.5h-1.5zM163.5 34.6h1.5v1.5h-1.5zM163.9 33.7h1.5v1.5h-1.5zM164.4 32.3h1.5v1.5h-1.5zM164.8 30.4h1.5v1.5h-1.5zM165.3 28.4h1.5v1.5h-1.5zM165.7 26.5h1.5v1.5h-1.5zM166.2 24.5h1.5v1.5h-1.5zM166.6 22.5h1.5v1.5h-1.5zM167.1 21.9h1.5v1.5h-1.5zM167.5 23.0h1.5v1.5h-1.5zM168.0 24.8h1.5v1.5h-1.5zM168.4 26.8h1.5v1.5h-1.5zM168.9 29.0h1.5v1.5h-1.5zM169.3 31.9h1.5v1.5h-1.5zM169.8 35.8h1.5v1.5h-1.5zM170.2 41.2h1.5v1.5h-1.5zM170.7 83.9h1.5v1.5h-1.5zM171.1 92.0h1.5v1.5h-1.5zM171.6 99.4h1.5v1.5h-1.5zM172.0 105.9h1.5v1.5h-1.5zM172.5 110.8h1.5v1.5h-1.5zM172.9 113.7h1.5v1.5h-1.5zM173.4 121.0h1.5v1.5h-1.5zM173.8 130.3h1.5v1.5h-1.5zM174.3 135.2h1.5v1.5h-1.5zM174.7 131.2h1.5v1.5h-1.5zM175.2 123.1h1.5v1.5h-1.5zM175.6 106.4h1.5v1.5h-1.5zM176.1 101.2h1.5v1.5h-1.5zM176.5 95.8h1.5v1.5h-1.5zM177.0 90.5h1.5v1.5h-1.5zM177.4 85.8h1.5v1.5h-1.5zM177.9 80.7h1.5v1.5h-1.5zM178.3 75.4h1.5v1.5h-1.5zM178.8 70.2h1.5v1.5h-1.5zM179.2 65.2h1.5v1.5h-1.5zM179.7 60.9h1.5v1.5h-1.5zM180.1 57.6h1.5v1.5h-1.5zM180.6 54.8h1.5v1.5h-1.5zM181.0 51.6h1.5v1.5h-1.5zM181.5 48.7h1.5v1.5h-1.5zM181.9 46.7h1.5v1.5h-1.5zM182.4 45.2h1.5v1.5h-1.5zM182.8 44.0h1.5v1.5h-1.5zM183.3 42.9h1.5v1.5h-1.5zM183.7 42.0h1.5v1.5h-1.5zM184.2 41.0h1.5v1.5h-1.5zM184.6 40.1h1.5v1.5h-1.5zM185.1 39.2h1.5v1.5h-1.5zM185.5 38.5h1.5v1.5h-1.5zM186.0 38.0h1.5v1.5h-1.5zM186.4 38.0h1.5v1.5h-1.5zM186.9 38.3h1.5v1.5h-1.5zM187.3 39.0h1.5v1.5h-1.5zM187.8 39.8h1.5v1.5h-1.5zM188.2 40.5h1.5v1.5h-1.5zM188.7 41.5h1.5v1.5h-1.5zM189.1 42.6h1.5v1.5h-1.5zM189.6 43.6h1.5v1.5h-1.5zM190.0 44.2h1.5v1.5h-1.5zM190.5 43.8h1.5v1.5h-1.5zM190.9 41.7h1.5v1.5h-1.5zM191.4 38.7h1.5v1.5h-1.5zM191.8 35.6h1.5v1.5h-1.5zM192.3 32.9h1.5v1.5h-1.5zM192.7 30.3h1.5v1.5h-1.5zM193.2 27.5h1.5v1.5h-1.5zM193.6 24.8h1.5v1.5h-1.5zM194.1 22.4h1.5v1.5h-1.5zM194.5 20.4h1.5v1.5h-1.5zM195.0 18.9h1.5v1.5h-1.5zM195.4 17.5h1.5v1.5h-1.5zM195.9 16.2h1.5v1.5h-1.5zM196.3 15.1h1.5v1.5h-1.5zM196.8 14.1h1.5v1.5h-1.5zM197.2 13.2h1.5v1.5h-1.5zM197.7 12.4h1.5v1.5h-1.5zM198.1 11.8h1.5v1.5h-1.5zM198.6 11.2h1.5v1.5h-1.5zM199.0 10.6h1.5v1.5h-1.5zM199.5 10.1h1.5v1.5h-1.5zM199.9 9.7h1.5v1.5h-1.5zM200.4 9.6h1.5v1.5h-1.5zM200.8 9.6h1.5v1.5h-1.5zM201.3 9.9h1.5v1.5h-1.5zM201.7 10.3h1.5v1.5h-1.5zM202.2 10.9h1.5v1.5h-1.5zM202.6 11.5h1.5v1.5h-1.5zM203.1 12.2h1.5v1.5h-1.5zM203.5 12.9h1.5v1.5h-1.5zM204.0 13.9h1.5v1.5h-1.5zM204.4 15.0h1.5v1.5h-1.5zM204.9 16.3h1.5v1.5h-1.5zM205.3 17.7h1.5v1.5h-1.5zM205.8 19.0h1.5v1.5h-1.5zM206.2 20.3h1.5v1.5h-1.5zM206.7 21.6h1.5v1.5h-1.5zM207.1 23.0h1.5v1.5h-1.5zM207.6 24.5h1.5v1.5h-1.5zM208.0 26.0h1.5v1.5h-1.5zM208.5 27.3h1.5v1.5h-1.5zM208.9 28.4h1.5v1.5h-1.5zM209.4 29.1h1.5v1.5h-1.5zM209.8 29.8h1.5v1.5h-1.5zM210.3 30.3h1.5v1.5h-1.5zM210.7 30.8h1.5v1.5h-1.5zM211.2 31.3h1.5v1.5h-1.5zM211.6 31.7h1.5v1.5h-1.5zM212.1 32.1h1.5v1.5h-1.5zM212.5 32.4h1.5v1.5h-1.5zM213.0 32.7h1.5v1.5h-1.5zM213.4 33.0h1.5v1.5h-1.5zM213.9 33.4h1.5v1.5h-1.5zM214.3 33.8h1.5v1.5h-1.5zM214.8 34.3h1.5v1.5h-1.5zM215.2 35.0h1.5v1.5h-1.5zM215.7 35.9h1.5v1.5h-1.5zM216.1 36.9h1.5v1.5h-1.5zM216.6 38.0h1.5v1.5h-1.5zM217.0 39.4h1.5v1.5h-1.5zM217.5 41.2h1.5v1.5h-1.5zM217.9 43.2h1.5v1.5h-1.5zM218.4 45.2h1.5v1.5h-1.5zM218.8 47.8h1.5v1.5h-1.5zM219.3 50.5h1.5v1.5h-1.5zM219.7 52.1h1.5v1.5h-1.5zM220.2 51.7h1.5v1.5h-1.5zM220.6 49.5h1.5v1.5h-1.5zM221.1 46.7h1.5v1.5h-1.5zM221.5 44.6h1.5v1.5h-1.5zM222.0 43.0h1.5v1.5h-1.5zM222.4 41.5h1.5v1.5h-1.5zM222.9 40.2h1.5v1.5h-1.5zM223.3 39.0h1.5v1.5h-1.5zM223.8 38.0h1.5v1.5h-1.5zM224.2 37.0h1.5v1.5h-1.5zM224.7 36.1h1.5v1.5h-1.5zM225.1 35.6h1.5v1.5h-1.5zM225.6 35.8h1.5v1.5h-1.5zM226.0 37.1h1.5v1.5h-1.5zM226.5 38.9h1.5v1.5h-1.5zM226.9 40.6h1.5v1.5h-1.5zM227.4 42.8h1.5v1.5h-1.5zM227.8 45.1h1.5v1.5h-1.5zM228.3 46.7h1.5v1.5h-1.5zM228.7 46.8h1.5v1.5h-1.5zM229.2 46.8h1.5v1.5h-1.5zM229.6 46.8h1.5v1.5h-1.5zM230.1 46.5h1.5v1.5h-1.5zM230.5 45.4h1.5v1.5h-1.5zM231.0 43.8h1.5v1.5h-1.5zM231.4 42.3h1.5v1.5h-1.5zM231.9 41.0h1.5v1.5h-1.5zM232.3 39.9h1.5v1.5h-1.5zM232.8 38.9h1.5v1.5h-1.5zM233.2 37.8h1.5v1.5h-1.5zM233.7 36.8h1.5v1.5h-1.5zM234.1 35.7h1.5v1.5h-1.5zM234.6 34.5h1.5v1.5h-1.5zM235.0 33.4h1.5v1.5h-1.5zM235.5 32.1h1.5v1.5h-1.5zM235.9 30.9h1.5v1.5h-1.5zM236.4 29.6h1.5v1.5h-1.5zM236.8 28.3h1.5v1.5h-1.5zM237.3 26.9h1.5v1.5h-1.5zM237.7 25.1h1.5v1.5h-1.5zM238.2 23.3h1.5v1.5h-1.5zM238.6 21.6h1.5v1.5h-1.5zM239.1 20.4h1.5v1.5h-1.5zM239.5 19.8h1.5v1.5h-1.5zM240.0 19.3h1.5v1.5h-1.5zM240.4 19.0h1.5v1.5h-1.5zM240.9 18.8h1.5v1.5h-1.5zM241.3 18.9h1.5v1.5h-1.5zM241.8 19.9h1.5v1.5h-1.5zM242.2 21.4h1.5v1.5h-1.5zM242.7 23.1h1.5v1.5h-1.5zM243.1 24.7h1.5v1.5h-1.5zM243.6 25.8h1.5v1.5h-1.5zM244.0 27.0h1.5v1.5h-1.5zM244.5 28.2h1.5v1.5h-1.5zM244.9 29.2h1.5v1.5h-1.5zM245.4 29.9h1.5v1.5h-1.5zM245.8 30.2h1.5v1.5h-1.5zM246.3 29.9h1.5v1.5h-1.5zM246.7 28.6h1.5v1.5h-1.5zM247.2 26.9h1.5v1.5h-1.5zM247.6 25.0h1.5v1.5h-1.5zM248.1 23.1h1.5v1.5h-1.5zM248.5 21.7h1.5v1.5h-1.5zM249.0 20.4h1.5v1.5h-1.5zM249.4 19.1h1.5v1.5h-1.5zM249.9 17.8h1.5v1.5h-1.5zM250.3 16.8h1.5v1.5h-1.5zM250.8 16.2h1.5v1.5h-1.5zM251.2 16.1h1.5v1.5h-1.5zM251.7 16.4h1.5v1.5h-1.5zM252.1 16.9h1.5v1.5h-1.5zM252.6 17.8h1.5v1.5h-1.5zM253.0 18.8h1.5v1.5h-1.5zM253.5 21.2h1.5v1.5h-1.5zM253.9 25.2h1.5v1.5h-1.5zM254.4 30.0h1.5v1.5h-1.5zM254.8 34.8h1.5v1.5h-1.5zM255.3 39.5h1.5v1.5h-1.5zM255.7 44.3h1.5v1.5h-1.5zM256.2 49.6h1.5v1.5h-1.5zM256.6 55.6h1.5v1.5h-1.5zM257.1 62.7h1.5v1.5h-1.5zM257.5 72.5h1.5v1.5h-1.5zM258.0 82.3h1.5v1.5h-1.5zM258.4 89.2h1.5v1.5h-1.5zM258.9 95.2h1.5v1.5h-1.5zM259.3 100.6h1.5v1.5h-1.5zM259.8 104.5h1.5v1.5h-1.5zM260.2 106.2h1.5v1.5h-1.5zM260.7 105.0h1.5v1.5h-1.5zM261.1 101.2h1.5v1.5h-1.5zM261.6 95.9h1.5v1.5h-1.5zM262.0 90.2h1.5v1.5h-1.5zM262.5 84.8h1.5v1.5h-1.5zM262.9 78.4h1.5v1.5h-1.5zM263.4 71.9h1.5v1.5h-1.5zM263.8 66.8h1.5v1.5h-1.5zM264.3 63.5h1.5v1.5h-1.5zM264.7 60.6h1.5v1.5h-1.5zM265.2 56.7h1.5v1.5h-1.5zM265.6 51.1h1.5v1.5h-1.5zM266.1 45.4h1.5v1.5h-1.5zM266.5 40.8h1.5v1.5h-1.5zM267.0 37.4h1.5v1.5h-1.5zM267.4 34.4h1.5v1.5h-1.5zM267.9 31.9h1.5v1.5h-1.5zM268.3 30.1h1.5v1.5h-1.5zM268.8 28.7h1.5v1.5h-1.5zM269.2 27.4h1.5v1.5h-1.5zM269.7 26.4h1.5v1.5h-1.5zM270.1 25.5h1.5v1.5h-1.5zM270.6 24.7h1.5v1.5h-1.5zM271.0 24.1h1.5v1.5h-1.5zM271.5 23.5h1.5v1.5h-1.5zM271.9 22.9h1.5v1.5h-1.5zM272.4 22.3h1.5v1.5h-1.5zM272.8 21.9h1.5v1.5h-1.5zM273.3 21.5h1.5v1.5h-1.5zM273.7 21.3h1.5v1.5h-1.5zM274.2 21.3h1.5v1.5h-1.5zM274.6 21.3h1.5v1.5h-1.5zM275.1 21.5h1.5v1.5h-1.5zM275.5 21.7h1.5v1.5h-1.5zM276.0 21.9h1.5v1.5h-1.5zM276.4 22.3h1.5v1.5h-1.5zM276.9 22.7h1.5v1.5h-1.5zM277.3 23.4h1.5v1.5h-1.5zM277.8 24.5h1.5v1.5h-1.5zM278.2 26.0h1.5v1.5h-1.5zM278.7 27.7h1.5v1.5h-1.5zM279.1 29.6h1.5v1.5h-1.5zM279.6 31.8h1.5v1.5h-1.5zM280.0 34.9h1.5v1.5h-1.5zM280.5 38.7h1.5v1.5h-1.5zM280.9 43.3h1.5v1.5h-1.5zM281.4 48.4h1.5v1.5h-1.5zM281.8 54.1h1.5v1.5h-1.5zM282.3 61.8h1.5v1.5h-1.5zM282.7 71.1h1.5v1.5h-1.5zM283.2 91.6h1.5v1.5h-1.5zM283.6 105.9h1.5v1.5h-1.5zM284.1 119.0h1.5v1.5h-1.5zM284.5 131.6h1.5v1.5h-1.5zM285.0 144.4h1.5v1.5h-1.5zM285.4 158.3h1.5v1.5h-1.5zM285.9 174.8h1.5v1.5h-1.5zM286.3 190.6h1.5v1.5h-1.5zM286.8 201.9h1.5v1.5h-1.5zM287.2 208.4h1.5v1.5h-1.5zM287.7 214.3h1.5v1.5h-1.5zM288.1 219.2h1.5v1.5h-1.5zM288.6 222.8h1.5v1.5h-1.5zM289.0 224.6h1.5v1.5h-1.5zM289.5 224.5h1.5v1.5h-1.5zM289.9 224.0h1.5v1.5h-1.5zM290.4 224.8h1.5v1.5h-1.5zM290.8 223.6h1.5v1.5h-1.5zM291.3 220.6h1.5v1.5h-1.5zM291.7 216.3h1.5v1.5h-1.5zM292.2 210.9h1.5v1.5h-1.5zM292.6 204.7h1.5v1.5h-1.5zM293.1 197.2h1.5v1.5h-1.5zM293.5 185.1h1.5v1.5h-1.5zM294.0 170.7h1.5v1.5h-1.5zM294.4 156.9h1.5v1.5h-1.5zM294.9 143.5h1.5v1.5h-1.5zM295.3 129.8h1.5v1.5h-1.5zM295.8 116.3h1.5v1.5h-1.5zM296.2 102.8h1.5v1.5h-1.5zM296.7 88.9h1.5v1.5h-1.5zM297.1 55.1h1.5v1.5h-1.5zM297.6 51.4h1.5v1.5h-1.5zM298.0 50.9h1.5v1.5h-1.5zM298.5 51.2h1.5v1.5h-1.5zM298.9 51.7h1.5v1.5h-1.5zM299.4 52.3h1.5v1.5h-1.5zM299.8 53.2h1.5v1.5h-1.5zM300.3 54.3h1.5v1.5h-1.5zM300.7 55.7h1.5v1.5h-1.5zM301.2 57.0h1.5v1.5h-1.5zM301.6 58.3h1.5v1.5h-1.5zM302.1 59.9h1.5v1.5h-1.5zM302.5 61.4h1.5v1.5h-1.5zM303.0 62.6h1.5v1.5h-1.5zM303.4 63.3h1.5v1.5h-1.5zM303.9 63.8h1.5v1.5h-1.5zM304.3 64.2h1.5v1.5h-1.5zM304.8 64.6h1.5v1.5h-1.5zM305.2 64.9h1.5v1.5h-1.5zM305.7 65.2h1.5v1.5h-1.5zM306.1 65.4h1.5v1.5h-1.5zM306.6 65.6h1.5v1.5h-1.5zM307.0 65.9h1.5v1.5h-1.5zM307.5 66.2h1.5v1.5h-1.5zM307.9 66.8h1.5v1.5h-1.5zM308.4 68.7h1.5v1.5h-1.5zM308.8 71.7h1.5v1.5h-1.5zM309.3 75.2h1.5v1.5h-1.5zM309.7 78.8h1.5v1.5h-1.5zM310.2 83.0h1.5v1.5h-1.5zM310.6 87.8h1.5v1.5h-1.5zM311.1 92.7h1.5v1.5h-1.5zM311.5 97.3h1.5v1.5h-1.5zM312.0 101.5h1.5v1.5h-1.5zM312.4 105.6h1.5v1.5h-1.5zM312.9 110.3h1.5v1.5h-1.5zM313.3 116.6h1.5v1.5h-1.5zM313.8 127.1h1.5v1.5h-1.5zM314.2 132.2h1.5v1.5h-1.5zM314.7 130.8h1.5v1.5h-1.5zM315.1 127.6h1.5v1.5h-1.5zM315.6 123.3h1.5v1.5h-1.5zM316.0 118.7h1.5v1.5h-1.5zM316.5 111.7h1.5v1.5h-1.5zM316.9 102.5h1.5v1.5h-1.5zM317.4 93.8h1.5v1.5h-1.5zM317.8 88.1h1.5v1.5h-1.5zM318.3 84.5h1.5v1.5h-1.5zM318.7 83.1h1.5v1.5h-1.5zM319.2 84.2h1.5v1.5h-1.5zM319.6 86.6h1.5v1.5h-1.5zM320.1 89.5h1.5v1.5h-1.5zM320.5 92.0h1.5v1.5h-1.5zM321.0 94.2h1.5v1.5h-1.5zM321.4 96.6h1.5v1.5h-1.5zM321.9 98.5h1.5v1.5h-1.5zM322.3 99.4h1.5v1.5h-1.5zM322.8 99.0h1.5v1.5h-1.5zM323.2 97.7h1.5v1.5h-1.5zM323.7 95.8h1.5v1.5h-1.5zM324.1 93.5h1.5v1.5h-1.5zM324.6 91.0h1.5v1.5h-1.5zM325.0 88.8h1.5v1.5h-1.5zM325.5 86.4h1.5v1.5h-1.5zM325.9 83.4h1.5v1.5h-1.5zM326.4 80.3h1.5v1.5h-1.5zM326.8 77.4h1.5v1.5h-1.5zM327.3 75.1h1.5v1.5h-1.5zM327.7 73.9h1.5v1.5h-1.5zM328.2 74.5h1.5v1.5h-1.5zM328.6 77.2h1.5v1.5h-1.5zM329.1 81.1h1.5v1.5h-1.5zM329.5 85.4h1.5v1.5h-1.5zM330.0 89.3h1.5v1.5h-1.5zM330.4 93.6h1.5v1.5h-1.5zM330.9 98.3h1.5v1.5h-1.5zM331.3 103.1h1.5v1.5h-1.5zM331.8 108.0h1.5v1.5h-1.5zM332.2 112.6h1.5v1.5h-1.5zM332.7 117.2h1.5v1.5h-1.5zM333.1 122.4h1.5v1.5h-1.5zM333.6 127.9h1.5v1.5h-1.5zM334.0 132.9h1.5v1.5h-1.5zM334.5 136.9h1.5v1.5h-1.5zM334.9 139.3h1.5v1.5h-1.5zM335.4 139.4h1.5v1.5h-1.5zM335.8 137.5h1.5v1.5h-1.5zM336.3 133.9h1.5v1.5h-1.5zM336.7 129.0h1.5v1.5h-1.5zM337.2 123.4h1.5v1.5h-1.5zM337.6 117.4h1.5v1.5h-1.5zM338.1 111.0h1.5v1.5h-1.5zM338.5 102.1h1.5v1.5h-1.5zM339.0 91.8h1.5v1.5h-1.5zM339.4 82.0h1.5v1.5h-1.5zM339.9 74.6h1.5v1.5h-1.5zM340.3 68.8h1.5v1.5h-1.5zM340.8 62.8h1.5v1.5h-1.5zM341.2 55.1h1.5v1.5h-1.5zM341.7 46.2h1.5v1.5h-1.5zM342.1 36.1h1.5v1.5h-1.5zM342.6 29.6h1.5v1.5h-1.5zM343.0 27.1h1.5v1.5h-1.5zM343.5 25.3h1.5v1.5h-1.5zM343.9 24.1h1.5v1.5h-1.5zM344.4 23.8h1.5v1.5h-1.5zM344.8 24.1h1.5v1.5h-1.5zM345.3 24.8h1.5v1.5h-1.5zM345.7 25.8h1.5v1.5h-1.5zM346.2 26.8h1.5v1.5h-1.5zM346.6 27.6h1.5v1.5h-1.5zM347.1 28.5h1.5v1.5h-1.5zM347.5 29.5h1.5v1.5h-1.5zM348.0 30.3h1.5v1.5h-1.5zM348.4 31.1h1.5v1.5h-1.5zM348.9 31.9h1.5v1.5h-1.5zM349.3 32.7h1.5v1.5h-1.5zM349.8 33.3h1.5v1.5h-1.5zM350.2 33.4h1.5v1.5h-1.5zM350.7 33.1h1.5v1.5h-1.5zM351.1 32.5h1.5v1.5h-1.5zM351.6 31.7h1.5v1.5h-1.5zM352.0 30.9h1.5v1.5h-1.5zM352.5 30.4h1.5v1.5h-1.5zM352.9 30.3h1.5v1.5h-1.5zM353.4 30.8h1.5v1.5h-1.5zM353.8 31.8h1.5v1.5h-1.5zM354.3 33.0h1.5v1.5h-1.5zM354.7 34.2h1.5v1.5h-1.5zM355.2 35.4h1.5v1.5h-1.5zM355.6 36.9h1.5v1.5h-1.5zM356.1 38.7h1.5v1.5h-1.5zM356.5 41.0h1.5v1.5h-1.5zM357.0 44.5h1.5v1.5h-1.5zM357.4 50.6h1.5v1.5h-1.5zM357.9 58.4h1.5v1.5h-1.5zM358.3 66.7h1.5v1.5h-1.5zM358.8 74.3h1.5v1.5h-1.5zM359.2 82.1h1.5v1.5h-1.5zM359.7 90.9h1.5v1.5h-1.5zM360.1 98.6h1.5v1.5h-1.5zM360.6 103.2h1.5v1.5h-1.5zM361.0 102.8h1.5v1.5h-1.5zM361.5 97.2h1.5v1.5h-1.5zM361.9 88.9h1.5v1.5h-1.5zM362.4 80.2h1.5v1.5h-1.5zM362.8 73.7h1.5v1.5h-1.5zM363.3 68.8h1.5v1.5h-1.5zM363.7 64.4h1.5v1.5h-1.5zM364.2 60.3h1.5v1.5h-1.5zM364.6 56.7h1.5v1.5h-1.5zM365.1 53.6h1.5v1.5h-1.5zM365.5 50.6h1.5v1.5h-1.5zM366.0 47.8h1.5v1.5h-1.5zM366.4 45.3h1.5v1.5h-1.5zM366.9 43.1h1.5v1.5h-1.5zM367.3 41.3h1.5v1.5h-1.5zM367.8 40.0h1.5v1.5h-1.5zM368.2 38.8h1.5v1.5h-1.5zM368.7 37.7h1.5v1.5h-1.5zM369.1 36.9h1.5v1.5h-1.5zM369.6 36.6h1.5v1.5h-1.5zM370.0 36.6h1.5v1.5h-1.5zM370.5 36.6h1.5v1.5h-1.5zM370.9 36.6h1.5v1.5h-1.5zM371.4 36.6h1.5v1.5h-1.5zM371.8 36.6h1.5v1.5h-1.5zM372.3 36.6h1.5v1.5h-1.5zM372.7 36.6h1.5v1.5h-1.5zM373.2 36.7h1.5v1.5h-1.5zM373.6 36.7h1.5v1.5h-1.5zM374.1 36.8h1.5v1.5h-1.5zM374.5 36.9h1.5v1.5h-1.5zM375.0 37.0h1.5v1.5h-1.5zM375.4 37.1h1.5v1.5h-1.5zM375.9 37.2h1.5v1.5h-1.5zM376.3 37.3h1.5v1.5h-1.5zM376.8 37.4h1.5v1.5h-1.5zM377.2 37.6h1.5v1.5h-1.5zM377.7 37.7h1.5v1.5h-1.5zM378.1 37.8h1.5v1.5h-1.5zM378.6 37.9h1.5v1.5h-1.5zM379.0 37.9h1.5v1.5h-1.5zM379.5 37.9h1.5v1.5h-1.5zM379.9 37.7h1.5v1.5h-1.5zM380.4 37.4h1.5v1.5h-1.5zM380.8 37.0h1.5v1.5h-1.5zM381.3 36.5h1.5v1.5h-1.5zM381.7 36.1h1.5v1.5h-1.5zM382.2 35.6h1.5v1.5h-1.5zM382.6 35.0h1.5v1.5h-1.5zM383.1 34.5h1.5v1.5h-1.5zM383.5 34.1h1.5v1.5h-1.5zM384.0 34.2h1.5v1.5h-1.5zM384.4 35.4h1.5v1.5h-1.5zM384.9 37.4h1.5v1.5h-1.5zM385.3 39.4h1.5v1.5h-1.5zM385.8 40.8h1.5v1.5h-1.5zM386.2 42.0h1.5v1.5h-1.5zM386.7 43.3h1.5v1.5h-1.5zM387.1 44.4h1.5v1.5h-1.5zM387.6 45.4h1.5v1.5h-1.5zM388.0 46.3h1.5v1.5h-1.5zM388.5 46.8h1.5v1.5h-1.5zM388.9 46.9h1.5v1.5h-1.5zM389.4 46.7h1.5v1.5h-1.5zM389.8 46.3h1.5v1.5h-1.5zM390.3 45.6h1.5v1.5h-1.5zM390.7 44.9h1.5v1.5h-1.5zM391.2 44.2h1.5v1.5h-1.5zM391.6 43.6h1.5v1.5h-1.5zM392.1 43.1h1.5v1.5h-1.5zM392.5 42.9h1.5v1.5h-1.5zM393.0 42.7h1.5v1.5h-1.5zM393.4 42.6h1.5v1.5h-1.5zM393.9 42.5h1.5v1.5h-1.5zM394.3 42.3h1.5v1.5h-1.5zM394.8 42.1h1.5v1.5h-1.5zM395.2 41.9h1.5v1.5h-1.5zM395.7 41.6h1.5v1.5h-1.5zM396.1 41.1h1.5v1.5h-1.5zM396.6 40.4h1.5v1.5h-1.5zM397.0 39.7h1.5v1.5h-1.5zM397.5 39.2h1.5v1.5h-1.5zM397.9 38.8h1.5v1.5h-1.5zM398.4 38.7h1.5v1.5h-1.5zM398.8 38.9h1.5v1.5h-1.5zM399.3 39.5h1.5v1.5h-1.5zM399.7 40.4h1.5v1.5h-1.5zM400.2 41.3h1.5v1.5h-1.5zM400.6 42.2h1.5v1.5h-1.5zM401.1 43.0h1.5v1.5h-1.5zM401.5 43.6h1.5v1.5h-1.5zM402.0 44.2h1.5v1.5h-1.5zM402.4 44.8h1.5v1.5h-1.5zM402.9 45.4h1.5v1.5h-1.5zM403.3 46.1h1.5v1.5h-1.5zM403.8 47.0h1.5v1.5h-1.5zM404.2 48.1h1.5v1.5h-1.5zM404.7 49.6h1.5v1.5h-1.5zM405.1 51.3h1.5v1.5h-1.5zM405.6 53.1h1.5v1.5h-1.5zM406.0 54.7h1.5v1.5h-1.5zM406.5 56.4h1.5v1.5h-1.5zM406.9 58.9h1.5v1.5h-1.5zM407.4 64.6h1.5v1.5h-1.5zM407.8 74.3h1.5v1.5h-1.5zM408.3 100.0h1.5v1.5h-1.5zM408.7 104.9h1.5v1.5h-1.5zM409.2 112.5h1.5v1.5h-1.5zM409.6 121.5h1.5v1.5h-1.5zM410.1 128.4h1.5v1.5h-1.5zM410.5 133.8h1.5v1.5h-1.5zM411.0 138.4h1.5v1.5h-1.5zM411.4 140.8h1.5v1.5h-1.5zM411.9 139.3h1.5v1.5h-1.5zM412.3 140.1h1.5v1.5h-1.5zM412.8 140.5h1.5v1.5h-1.5zM413.2 136.7h1.5v1.5h-1.5zM413.7 130.6h1.5v1.5h-1.5zM414.1 101.7h1.5v1.5h-1.5zM414.6 100.7h1.5v1.5h-1.5zM415.0 100.0h1.5v1.5h-1.5zM415.5 99.5h1.5v1.5h-1.5zM415.9 99.3h1.5v1.5h-1.5zM416.4 99.6h1.5v1.5h-1.5zM416.8 102.6h1.5v1.5h-1.5zM417.3 106.5h1.5v1.5h-1.5zM417.7 109.2h1.5v1.5h-1.5zM418.2 108.8h1.5v1.5h-1.5zM418.6 105.8h1.5v1.5h-1.5zM419.1 101.7h1.5v1.5h-1.5zM419.5 97.8h1.5v1.5h-1.5zM420.0 94.4h1.5v1.5h-1.5zM420.4 90.7h1.5v1.5h-1.5zM420.9 87.1h1.5v1.5h-1.5zM421.3 83.6h1.5v1.5h-1.5zM421.8 80.6h1.5v1.5h-1.5zM422.2 78.3h1.5v1.5h-1.5zM422.7 76.4h1.5v1.5h-1.5zM423.1 74.6h1.5v1.5h-1.5zM423.6 72.9h1.5v1.5h-1.5zM424.0 71.7h1.5v1.5h-1.5zM424.5 70.9h1.5v1.5h-1.5zM424.9 70.8h1.5v1.5h-1.5zM425.4 71.7h1.5v1.5h-1.5zM425.8 73.5h1.5v1.5h-1.5zM426.3 75.8h1.5v1.5h-1.5zM426.7 78.4h1.5v1.5h-1.5zM427.2 80.9h1.5v1.5h-1.5zM427.6 83.3h1.5v1.5h-1.5zM428.1 86.4h1.5v1.5h-1.5zM428.5 90.0h1.5v1.5h-1.5zM429.0 93.6h1.5v1.5h-1.5zM429.4 97.1h1.5v1.5h-1.5zM429.9 99.9h1.5v1.5h-1.5zM430.3 101.9h1.5v1.5h-1.5zM430.8 102.7h1.5v1.5h-1.5zM431.2 101.9h1.5v1.5h-1.5zM431.7 99.9h1.5v1.5h-1.5zM432.1 97.3h1.5v1.5h-1.5zM432.6 94.5h1.5v1.5h-1.5zM433.0 92.0h1.5v1.5h-1.5zM433.5 90.2h1.5v1.5h-1.5zM433.9 88.8h1.5v1.5h-1.5zM434.4 87.4h1.5v1.5h-1.5zM434.8 86.2h1.5v1.5h-1.5zM435.3 85.2h1.5v1.5h-1.5zM435.7 84.6h1.5v1.5h-1.5zM436.2 84.6h1.5v1.5h-1.5zM436.6 85.2h1.5v1.5h-1.5zM437.1 86.3h1.5v1.5h-1.5zM437.5 87.8h1.5v1.5h-1.5zM438.0 89.6h1.5v1.5h-1.5zM438.4 91.6h1.5v1.5h-1.5zM438.9 93.9h1.5v1.5h-1.5zM439.3 97.6h1.5v1.5h-1.5zM439.8 102.0h1.5v1.5h-1.5zM440.2 106.8h1.5v1.5h-1.5zM440.7 111.3h1.5v1.5h-1.5zM441.1 115.0h1.5v1.5h-1.5zM441.6 118.6h1.5v1.5h-1.5zM442.0 122.4h1.5v1.5h-1.5zM442.5 125.8h1.5v1.5h-1.5zM442.9 128.6h1.5v1.5h-1.5zM443.4 130.1h1.5v1.5h-1.5zM443.8 129.9h1.5v1.5h-1.5zM444.3 128.1h1.5v1.5h-1.5zM444.7 124.8h1.5v1.5h-1.5zM445.2 120.7h1.5v1.5h-1.5zM445.6 116.1h1.5v1.5h-1.5zM446.1 111.4h1.5v1.5h-1.5zM446.5 106.7h1.5v1.5h-1.5zM447.0 100.4h1.5v1.5h-1.5zM447.4 94.1h1.5v1.5h-1.5zM447.9 89.5h1.5v1.5h-1.5zM448.3 87.0h1.5v1.5h-1.5zM448.8 84.8h1.5v1.5h-1.5zM449.2 83.0h1.5v1.5h-1.5zM449.7 81.5h1.5v1.5h-1.5zM450.1 80.6h1.5v1.5h-1.5zM450.6 80.2h1.5v1.5h-1.5zM451.0 81.0h1.5v1.5h-1.5zM451.5 82.9h1.5v1.5h-1.5zM451.9 85.9h1.5v1.5h-1.5zM452.4 89.7h1.5v1.5h-1.5zM452.8 93.9h1.5v1.5h-1.5zM453.3 98.6h1.5v1.5h-1.5zM453.7 105.4h1.5v1.5h-1.5zM454.2 114.4h1.5v1.5h-1.5zM454.6 124.1h1.5v1.5h-1.5zM455.1 147.0h1.5v1.5h-1.5zM455.5 156.5h1.5v1.5h-1.5zM456.0 165.3h1.5v1.5h-1.5zM456.4 173.3h1.5v1.5h-1.5zM456.9 180.4h1.5v1.5h-1.5zM457.3 187.0h1.5v1.5h-1.5zM457.8 193.4h1.5v1.5h-1.5zM458.2 199.9h1.5v1.5h-1.5zM458.7 207.8h1.5v1.5h-1.5zM459.1 208.9h1.5v1.5h-1.5zM459.6 204.3h1.5v1.5h-1.5zM460.0 209.8h1.5v1.5h-1.5zM460.5 205.9h1.5v1.5h-1.5zM460.9 199.5h1.5v1.5h-1.5zM461.4 192.8h1.5v1.5h-1.5zM461.8 185.2h1.5v1.5h-1.5zM462.3 177.6h1.5v1.5h-1.5zM462.7 170.7h1.5v1.5h-1.5zM463.2 165.4h1.5v1.5h-1.5zM463.6 161.4h1.5v1.5h-1.5zM464.1 158.1h1.5v1.5h-1.5zM464.5 155.1h1.5v1.5h-1.5zM465.0 152.5h1.5v1.5h-1.5zM465.4 149.2h1.5v1.5h-1.5zM465.9 142.7h1.5v1.5h-1.5zM466.3 132.6h1.5v1.5h-1.5zM466.8 120.6h1.5v1.5h-1.5zM467.2 108.4h1.5v1.5h-1.5zM467.7 97.8h1.5v1.5h-1.5zM468.1 89.5h1.5v1.5h-1.5zM468.6 81.8h1.5v1.5h-1.5zM469.0 74.7h1.5v1.5h-1.5zM469.5 68.4h1.5v1.5h-1.5zM469.9 63.3h1.5v1.5h-1.5zM470.4 58.7h1.5v1.5h-1.5zM470.8 54.3h1.5v1.5h-1.5zM471.3 50.2h1.5v1.5h-1.5zM471.7 46.6h1.5v1.5h-1.5zM472.2 43.4h1.5v1.5h-1.5zM472.6 40.8h1.5v1.5h-1.5zM473.1 38.7h1.5v1.5h-1.5zM473.5 37.1h1.5v1.5h-1.5zM474.0 35.6h1.5v1.5h-1.5zM474.4 34.2h1.5v1.5h-1.5zM474.9 33.0h1.5v1.5h-1.5zM475.3 32.0h1.5v1.5h-1.5zM475.8 31.4h1.5v1.5h-1.5zM476.2 31.9h1.5v1.5h-1.5zM476.7 32.8h1.5v1.5h-1.5zM477.1 34.0h1.5v1.5h-1.5zM477.6 35.4h1.5v1.5h-1.5zM478.0 37.0h1.5v1.5h-1.5zM478.5 38.8h1.5v1.5h-1.5zM478.9 41.9h1.5v1.5h-1.5zM479.4 46.8h1.5v1.5h-1.5zM479.8 52.9h1.5v1.5h-1.5zM480.3 59.4h1.5v1.5h-1.5zM480.7 65.8h1.5v1.5h-1.5zM481.2 73.5h1.5v1.5h-1.5zM481.6 82.3h1.5v1.5h-1.5zM482.1 90.7h1.5v1.5h-1.5zM482.5 97.6h1.5v1.5h-1.5zM483.0 102.1h1.5v1.5h-1.5zM483.4 105.4h1.5v1.5h-1.5zM483.9 108.1h1.5v1.5h-1.5zM484.3 110.6h1.5v1.5h-1.5zM484.8 113.2h1.5v1.5h-1.5zM485.2 116.4h1.5v1.5h-1.5zM485.7 124.3h1.5v1.5h-1.5zM486.1 135.1h1.5v1.5h-1.5zM486.6 139.8h1.5v1.5h-1.5zM487.0 139.3h1.5v1.5h-1.5zM487.5 133.8h1.5v1.5h-1.5zM487.9 125.3h1.5v1.5h-1.5zM488.4 118.2h1.5v1.5h-1.5zM488.8 114.8h1.5v1.5h-1.5zM489.3 111.1h1.5v1.5h-1.5zM489.7 106.5h1.5v1.5h-1.5zM490.2 101.5h1.5v1.5h-1.5zM490.6 96.1h1.5v1.5h-1.5zM491.1 89.6h1.5v1.5h-1.5zM491.5 84.1h1.5v1.5h-1.5zM492.0 81.2h1.5v1.5h-1.5zM492.4 79.4h1.5v1.5h-1.5zM492.9 78.1h1.5v1.5h-1.5zM493.3 80.2h1.5v1.5h-1.5zM493.8 82.9h1.5v1.5h-1.5zM494.2 85.9h1.5v1.5h-1.5zM494.7 89.9h1.5v1.5h-1.5zM495.1 94.9h1.5v1.5h-1.5zM495.6 101.7h1.5v1.5h-1.5zM496.0 110.7h1.5v1.5h-1.5zM496.5 121.1h1.5v1.5h-1.5zM496.9 131.9h1.5v1.5h-1.5zM497.4 142.4h1.5v1.5h-1.5zM497.8 151.9h1.5v1.5h-1.5zM498.3 161.4h1.5v1.5h-1.5zM498.7 171.3h1.5v1.5h-1.5zM499.2 181.0h1.5v1.5h-1.5zM499.6 189.7h1.5v1.5h-1.5zM500.1 196.9h1.5v1.5h-1.5zM500.5 201.9h1.5v1.5h-1.5zM501.0 205.4h1.5v1.5h-1.5zM501.4 208.9h1.5v1.5h-1.5zM501.9 212.0h1.5v1.5h-1.5zM502.3 215.0h1.5v1.5h-1.5zM502.8 217.6h1.5v1.5h-1.5zM503.2 219.9h1.5v1.5h-1.5zM503.7 221.8h1.5v1.5h-1.5zM504.1 223.3h1.5v1.5h-1.5zM504.6 224.3h1.5v1.5h-1.5zM505.0 224.8h1.5v1.5h-1.5zM505.5 224.8h1.5v1.5h-1.5zM505.9 224.6h1.5v1.5h-1.5zM506.4 224.8h1.5v1.5h-1.5zM506.8 224.5h1.5v1.5h-1.5zM507.3 223.7h1.5v1.5h-1.5zM507.7 222.4h1.5v1.5h-1.5zM508.2 220.7h1.5v1.5h-1.5zM508.6 218.5h1.5v1.5h-1.5zM509.1 215.9h1.5v1.5h-1.5zM509.5 213.0h1.5v1.5h-1.5zM510.0 209.7h1.5v1.5h-1.5zM510.4 206.2h1.5v1.5h-1.5zM510.9 202.3h1.5v1.5h-1.5zM511.3 196.2h1.5v1.5h-1.5zM511.8 186.1h1.5v1.5h-1.5zM512.2 173.8h1.5v1.5h-1.5zM512.7 161.1h1.5v1.5h-1.5zM513.1 149.8h1.5v1.5h-1.5zM513.6 108.9h1.5v1.5h-1.5zM514.0 95.5h1.5v1.5h-1.5zM514.5 87.0h1.5v1.5h-1.5zM514.9 80.4h1.5v1.5h-1.5zM515.4 74.9h1.5v1.5h-1.5zM515.8 70.5h1.5v1.5h-1.5zM516.3 67.5h1.5v1.5h-1.5zM516.7 65.6h1.5v1.5h-1.5zM517.2 64.0h1.5v1.5h-1.5zM517.6 62.7h1.5v1.5h-1.5zM518.1 61.7h1.5v1.5h-1.5zM518.5 61.3h1.5v1.5h-1.5zM519.0 61.4h1.5v1.5h-1.5zM519.4 62.1h1.5v1.5h-1.5zM519.9 63.1h1.5v1.5h-1.5zM520.3 64.3h1.5v1.5h-1.5zM520.8 65.5h1.5v1.5h-1.5zM521.2 66.6h1.5v1.5h-1.5zM521.7 67.9h1.5v1.5h-1.5zM522.1 69.4h1.5v1.5h-1.5zM522.6 70.8h1.5v1.5h-1.5zM523.0 72.3h1.5v1.5h-1.5zM523.5 73.8h1.5v1.5h-1.5zM523.9 75.1h1.5v1.5h-1.5zM524.4 76.3h1.5v1.5h-1.5zM524.8 77.4h1.5v1.5h-1.5zM525.3 78.4h1.5v1.5h-1.5zM525.7 79.5h1.5v1.5h-1.5zM526.2 80.6h1.5v1.5h-1.5zM526.6 81.7h1.5v1.5h-1.5zM527.1 83.1h1.5v1.5h-1.5zM527.5 84.7h1.5v1.5h-1.5zM528.0 86.8h1.5v1.5h-1.5zM528.4 89.1h1.5v1.5h-1.5zM528.9 91.6h1.5v1.5h-1.5zM529.3 94.0h1.5v1.5h-1.5zM529.8 96.2h1.5v1.5h-1.5zM530.2 98.1h1.5v1.5h-1.5zM530.7 99.8h1.5v1.5h-1.5zM531.1 101.4h1.5v1.5h-1.5zM531.6 102.9h1.5v1.5h-1.5zM532.0 104.5h1.5v1.5h-1.5zM532.5 106.1h1.5v1.5h-1.5zM532.9 107.8h1.5v1.5h-1.5zM533.4 109.7h1.5v1.5h-1.5zM533.8 111.5h1.5v1.5h-1.5zM534.3 113.5h1.5v1.5h-1.5zM534.7 115.4h1.5v1.5h-1.5zM535.2 117.4h1.5v1.5h-1.5zM535.6 119.5h1.5v1.5h-1.5zM536.1 121.7h1.5v1.5h-1.5zM536.5 123.9h1.5v1.5h-1.5zM537.0 126.2h1.5v1.5h-1.5zM537.4 128.7h1.5v1.5h-1.5zM537.9 131.1h1.5v1.5h-1.5zM538.3 133.5h1.5v1.5h-1.5zM538.8 135.9h1.5v1.5h-1.5zM539.2 138.2h1.5v1.5h-1.5zM539.7 140.5h1.5v1.5h-1.5zM540.1 142.9h1.5v1.5h-1.5zM540.6 145.4h1.5v1.5h-1.5zM541.0 148.0h1.5v1.5h-1.5zM541.5 150.7h1.5v1.5h-1.5zM541.9 153.5h1.5v1.5h-1.5zM542.4 156.4h1.5v1.5h-1.5zM542.8 159.3h1.5v1.5h-1.5zM543.3 162.3h1.5v1.5h-1.5zM543.7 165.4h1.5v1.5h-1.5zM544.2 168.5h1.5v1.5h-1.5zM544.6 171.7h1.5v1.5h-1.5zM545.1 174.9h1.5v1.5h-1.5zM545.5 178.1h1.5v1.5h-1.5zM546.0 181.5h1.5v1.5h-1.5zM546.4 185.0h1.5v1.5h-1.5zM546.9 188.6h1.5v1.5h-1.5zM547.3 192.2h1.5v1.5h-1.5zM547.8 195.9h1.5v1.5h-1.5zM548.2 199.5h1.5v1.5h-1.5zM548.7 203.0h1.5v1.5h-1.5zM549.1 206.6h1.5v1.5h-1.5zM549.6 210.3h1.5v1.5h-1.5zM550.0 213.8h1.5v1.5h-1.5zM550.5 217.2h1.5v1.5h-1.5zM550.9 218.2h1.5v1.5h-1.5zM551.4 222.7h1.5v1.5h-1.5zM551.8 227.0h1.5v1.5h-1.5zM552.3 230.9h1.5v1.5h-1.5zM552.7 234.4h1.5v1.5h-1.5zM553.2 237.3h1.5v1.5h-1.5zM553.6 239.5h1.5v1.5h-1.5zM554.1 241.0h1.5v1.5h-1.5zM554.5 242.6h1.5v1.5h-1.5zM555.0 244.0h1.5v1.5h-1.5zM555.4 245.4h1.5v1.5h-1.5zM555.9 246.8h1.5v1.5h-1.5zM556.3 248.1h1.5v1.5h-1.5zM556.8 249.4h1.5v1.5h-1.5zM557.2 250.6h1.5v1.5h-1.5zM557.7 251.7h1.5v1.5h-1.5zM558.1 252.8h1.5v1.5h-1.5zM558.6 253.9h1.5v1.5h-1.5zM559.0 254.8h1.5v1.5h-1.5zM559.5 255.7h1.5v1.5h-1.5zM559.9 256.5h1.5v1.5h-1.5zM560.4 257.2h1.5v1.5h-1.5zM560.8 257.8h1.5v1.5h-1.5zM561.3 258.4h1.5v1.5h-1.5zM561.7 258.9h1.5v1.5h-1.5zM562.2 259.3h1.5v1.5h-1.5zM562.6 259.5h1.5v1.5h-1.5zM563.1 259.7h1.5v1.5h-1.5zM563.5 259.8h1.5v1.5h-1.5zM564.0 259.8h1.5v1.5h-1.5zM564.4 259.8h1.5v1.5h-1.5zM564.9 259.8h1.5v1.5h-1.5zM565.3 259.8h1.5v1.5h-1.5zM565.8 259.7h1.5v1.5h-1.5zM566.2 259.5h1.5v1.5h-1.5zM566.7 259.2h1.5v1.5h-1.5zM567.1 258.9h1.5v1.5h-1.5zM567.6 258.5h1.5v1.5h-1.5zM568.0 258.0h1.5v1.5h-1.5zM568.5 257.4h1.5v1.5h-1.5zM568.9 256.8h1.5v1.5h-1.5zM569.4 256.1h1.5v1.5h-1.5zM569.8 255.4h1.5v1.5h-1.5zM570.3 254.6h1.5v1.5h-1.5zM570.7 253.7h1.5v1.5h-1.5zM571.2 252.7h1.5v1.5h-1.5zM571.6 251.8h1.5v1.5h-1.5zM572.1 250.7h1.5v1.5h-1.5zM572.5 249.6h1.5v1.5h-1.5zM573.0 248.4h1.5v1.5h-1.5zM573.4 247.2h1.5v1.5h-1.5zM573.9 245.9h1.5v1.5h-1.5zM574.3 244.6h1.5v1.5h-1.5zM574.8 243.2h1.5v1.5h-1.5zM575.2 241.8h1.5v1.5h-1.5zM575.7 240.4h1.5v1.5h-1.5zM576.1 238.6h1.5v1.5h-1.5zM576.6 235.8h1.5v1.5h-1.5zM577.0 232.1h1.5v1.5h-1.5zM577.5 227.9h1.5v1.5h-1.5zM577.9 223.2h1.5v1.5h-1.5zM578.4 218.4h1.5v1.5h-1.5zM578.8 213.7h1.5v1.5h-1.5zM579.3 209.4h1.5v1.5h-1.5zM579.7 204.0h1.5v1.5h-1.5zM580.2 202.5h1.5v1.5h-1.5zM580.6 199.7h1.5v1.5h-1.5zM581.1 196.1h1.5v1.5h-1.5zM581.5 191.8h1.5v1.5h-1.5zM582.0 187.3h1.5v1.5h-1.5zM582.4 182.6h1.5v1.5h-1.5zM582.9 178.2h1.5v1.5h-1.5zM583.3 174.4h1.5v1.5h-1.5zM583.8 171.1h1.5v1.5h-1.5zM584.2 168.0h1.5v1.5h-1.5zM584.7 164.9h1.5v1.5h-1.5zM585.1 161.9h1.5v1.5h-1.5zM585.6 158.9h1.5v1.5h-1.5zM586.0 156.0h1.5v1.5h-1.5zM586.5 153.0h1.5v1.5h-1.5zM586.9 150.1h1.5v1.5h-1.5zM587.4 147.1h1.5v1.5h-1.5zM587.8 144.1h1.5v1.5h-1.5zM588.3 141.2h1.5v1.5h-1.5zM588.7 138.2h1.5v1.5h-1.5zM589.2 135.3h1.5v1.5h-1.5zM589.6 132.4h1.5v1.5h-1.5zM590.1 129.4h1.5v1.5h-1.5zM590.5 126.5h1.5v1.5h-1.5zM591.0 123.5h1.5v1.5h-1.5zM591.4 120.5h1.5v1.5h-1.5zM591.9 117.5h1.5v1.5h-1.5zM592.3 114.5h1.5v1.5h-1.5zM592.8 111.4h1.5v1.5h-1.5zM593.2 108.3h1.5v1.5h-1.5zM593.7 105.2h1.5v1.5h-1.5zM594.1 102.1h1.5v1.5h-1.5zM594.6 99.1h1.5v1.5h-1.5zM595.0 96.1h1.5v1.5h-1.5zM595.5 93.3h1.5v1.5h-1.5zM595.9 90.5h1.5v1.5h-1.5zM596.4 87.8h1.5v1.5h-1.5zM596.8 85.1h1.5v1.5h-1.5zM597.3 82.4h1.5v1.5h-1.5zM597.7 79.8h1.5v1.5h-1.5zM598.2 77.3h1.5v1.5h-1.5zM598.6 74.8h1.5v1.5h-1.5zM599.1 72.3h1.5v1.5h-1.5z" fill="#000" stroke="none"/></g><g clip-path="url(#cb)" fill="none" stroke-width="1.6" stroke-linejoin="round"><path d="M58.7 258.5 59.5 257.5 61.0 253.9 62.2 252.1 63.2 251.3 65.2 250.9 66.2 251.6 67.7 253.7 68.5 255.7 70.0 261.2 70.5 262.3 71.0 262.4 71.7 260.9 73.2 255.4 75.5 249.0 77.2 245.1 78.0 244.5 78.5 244.7 79.0 245.3 80.2 247.8 81.0 251.3 81.7 256.6 82.5 264.8 83.2 279.2 83.7 298.0 84.7 355.9 87.2 432.0 90.2 498.0 91.5 514.9 92.0 518.6 92.5 520.0 93.0 519.6 93.7 517.0 95.0 508.2 96.5 491.8 98.2 466.7 99.0 448.9 99.5 429.5 100.5 345.2 101.7 297.1 102.5 284.7 103.7 270.3 104.5 250.8 105.0 244.2 105.7 238.5 107.2 237.5 108.7 237.1 110.2 237.0 116.7 237.0 119.0 237.5 120.5 238.3 121.2 239.0 122.2 243.5 123.2 256.3 125.7 305.3 126.7 350.1 127.2 363.7 128.4 379.0 129.9 391.7 130.7 394.9 130.9 394.7 131.4 390.8 133.9 360.9 135.2 311.4 135.9 288.7 136.7 272.4 137.4 263.5 138.2 257.9 138.4 257.3 138.9 257.7 139.4 259.1 140.2 262.4 140.7 267.9 141.2 278.0 142.4 312.4 146.7 484.1 147.2 497.5 147.4 499.9 147.7 498.6 148.2 484.8 152.2 305.2 155.2 247.1 155.4 244.3 156.4 239.1 157.2 236.8 157.7 236.3 159.9 236.6 166.9 238.2 167.9 238.6 170.2 240.0 171.4 240.4 172.7 240.1 175.4 238.5 177.9 237.3 180.2 236.8 185.9 236.6 188.2 236.9 202.2 236.8 213.4 236.3 215.9 236.7 217.9 237.5 219.2 239.5 220.4 242.7 221.4 247.2 223.2 256.9 223.9 264.5 224.7 282.0 224.9 284.3 226.4 293.4 227.2 295.6 227.7 296.0 228.2 293.9 229.7 278.9 232.7 261.4 234.4 249.3 234.7 248.8 234.9 248.8 235.4 250.3 237.4 262.5 238.2 263.3 238.9 263.9 239.7 264.1 240.2 264.0 240.9 261.6 242.4 254.0 245.4 243.2 246.7 240.6 248.2 238.5 249.4 237.2 250.2 236.7 250.9 236.6 252.7 236.8 254.2 237.2 255.2 238.4 256.2 240.4 257.2 243.0 257.9 245.7 262.2 267.3 262.4 268.1 262.7 268.3 263.4 267.0 264.4 263.6 267.9 242.6 268.4 241.0 269.4 239.5 270.2 238.7 271.4 238.1 274.9 237.7 282.4 238.0 285.4 238.2 286.7 238.9 288.4 240.4 290.4 243.0 291.4 243.7 292.2 244.0 292.7 243.7 293.7 242.1 294.9 240.9 300.2 237.3 301.7 236.6 303.4 236.9 305.4 238.3 306.2 239.3 307.4 242.7 308.4 247.0 309.2 252.8 310.7 268.0 312.9 294.6 314.7 306.3 315.4 309.3 315.9 310.0 316.4 309.4 317.2 306.0 319.4 287.7 320.2 278.2 322.2 242.9 322.7 238.3 323.9 237.2 325.4 236.7 329.4 236.4 333.7 236.3 335.9 236.7 338.4 237.6 339.4 238.3 340.7 239.6 341.9 241.6 342.9 244.7 343.9 249.2 344.9 256.0 345.9 267.2 348.2 301.8 349.4 335.7 352.7 461.6 353.2 476.9 353.4 479.9 353.7 478.4 353.9 472.5 357.2 343.4 358.2 310.6 359.7 279.6 360.9 262.7 361.9 245.4 362.2 242.6 362.7 240.3 363.2 238.8 363.9 237.5 365.2 236.7 366.4 236.3 415.2 236.3 416.9 236.5 418.7 237.0 420.4 237.7 421.4 238.3 422.7 240.0 423.4 244.2 425.2 263.1 425.9 276.1 426.4 292.2 427.2 337.5 428.2 432.0 429.4 465.7 430.4 484.4 431.4 495.9 431.9 498.9 432.4 500.0 432.9 499.5 433.7 496.2 434.4 490.4 435.2 482.1 436.7 459.3 438.2 430.0 438.9 403.2 441.4 270.0 441.7 262.4 442.4 250.6 442.9 245.7 443.4 243.4 444.9 240.9 445.7 240.1 446.4 239.8 447.4 239.7 448.7 240.1 450.2 240.8 450.7 241.4 451.7 244.0 454.2 253.6 456.7 264.8 457.4 266.9 457.9 267.6 458.2 267.6 459.2 267.1 460.2 265.9 463.2 261.1 464.7 258.3 466.9 253.1 468.9 246.3 469.9 243.7 471.9 241.4 473.9 240.1 477.4 239.4 480.2 239.3 481.9 240.1 484.2 242.2 485.4 244.9 487.4 250.9 489.7 260.3 490.2 261.7 490.7 262.4 490.9 262.4 491.4 261.9 492.4 259.5 494.7 252.1 497.2 242.8 498.4 240.9 500.4 239.0 501.9 238.3 505.9 237.5 507.9 237.6 509.7 238.3 512.7 240.4 517.2 247.7 518.0 248.5 518.5 248.7 519.2 247.8 521.0 243.6 522.7 241.3 523.2 241.0 523.7 240.9 524.2 241.6 524.7 243.0 525.7 247.4 526.5 254.5 527.2 265.9 529.2 330.3 533.2 483.8 534.2 511.6 534.7 518.7 535.0 520.0 535.2 519.7 535.7 516.9 536.5 507.5 538.0 474.7 540.0 413.3 542.2 293.3 543.0 275.7 544.0 264.1 544.7 258.9 545.0 258.2 545.2 258.2 545.7 259.9 546.5 266.2 547.2 275.0 549.2 317.0 553.0 376.4 554.7 397.7 555.5 403.0 556.0 404.9 556.2 405.3 556.5 405.1 557.0 402.1 557.7 391.7 563.0 279.2 564.5 258.5 564.7 256.9 565.2 256.2 567.5 255.5 569.7 254.0 571.7 253.2 572.7 253.0 573.0 253.7 573.5 258.8 574.5 276.1 576.7 337.4 579.7 430.0 581.2 486.1 581.7 497.8 582.0 499.9 582.2 499.1 582.5 495.8 583.2 474.8 588.0 294.3 589.0 271.7 590.2 256.4 591.0 250.1 591.5 247.4 592.2 245.1 593.0 243.7 593.5 243.5 594.2 244.6 595.0 246.7 595.5 249.2 596.7 261.3 597.7 274.6 599.0 296.9 600.0 319.8" stroke="#d8201e" stroke-width="1.6"/><path d="M58.7 260.0 59.5 258.9 61.0 254.8 62.0 253.2 62.7 252.2 63.7 251.4 64.5 251.0 65.2 250.9 66.2 251.6 67.7 253.7 68.5 255.7 70.0 261.2 70.5 262.3 71.0 262.4 71.7 260.9 73.2 255.4 75.2 249.6 77.0 245.6 77.7 244.6 78.2 244.6 78.7 245.0 80.0 247.1 80.7 249.9 81.5 254.7 82.5 264.8 83.2 279.2 83.7 298.0 84.7 355.9 87.2 432.0 90.2 498.0 91.5 514.9 92.0 518.6 92.5 520.0 93.0 519.6 93.7 517.0 94.5 512.3 95.2 505.9 97.0 485.2 98.5 461.9 99.5 429.5 100.2 360.0 101.5 304.0 102.5 284.2 103.7 271.7 104.5 252.8 105.2 243.3 105.7 240.1 106.0 240.0 110.5 240.1 111.2 240.5 113.5 242.3 114.5 242.6 115.5 242.3 117.7 241.0 119.7 240.2 121.0 240.0 121.2 240.1 121.7 241.2 122.5 244.7 123.2 251.7 124.0 272.1 125.7 305.3 126.7 350.1 127.2 363.7 128.4 379.0 129.9 391.7 130.7 394.9 130.9 394.7 131.4 390.8 133.9 360.9 135.2 311.4 135.9 288.7 136.7 272.4 137.4 263.5 138.2 257.9 138.4 257.3 138.9 257.7 139.4 259.1 140.2 262.4 140.7 267.9 141.2 278.0 142.4 312.4 146.7 484.1 147.2 497.5 147.4 499.9 147.7 498.6 148.2 484.8 152.2 305.2 152.9 288.7 155.2 248.7 155.7 243.9 156.4 240.0 157.2 237.5 157.7 237.0 158.9 237.2 160.2 237.8 168.2 242.7 170.9 244.7 172.4 245.2 173.7 244.7 176.4 242.0 180.4 239.1 183.2 237.7 185.9 237.1 187.9 236.9 202.9 236.8 213.4 236.3 215.9 236.7 217.9 237.5 219.2 239.5 220.4 242.7 221.4 247.2 223.2 256.9 223.9 264.5 224.7 282.0 224.9 284.3 226.4 293.4 227.2 295.6 227.7 296.0 228.2 293.9 229.4 280.8 230.2 275.5 234.4 251.8 234.7 251.2 234.9 251.3 235.2 251.8 236.7 259.6 237.4 262.5 238.9 263.8 239.7 264.1 240.2 264.0 240.9 261.6 242.4 254.0 245.4 243.2 246.7 240.6 248.2 238.5 249.4 237.2 250.2 236.7 250.9 236.6 252.7 236.8 254.2 237.2 255.2 238.4 256.2 240.4 257.2 243.0 257.9 245.7 262.2 267.3 262.4 268.1 262.7 268.3 263.4 266.9 265.2 261.7 265.7 259.7 266.2 256.7 266.9 249.6 267.7 245.6 268.4 243.6 269.9 241.9 270.7 241.5 271.4 241.4 274.7 242.4 275.9 242.5 282.7 240.7 285.4 240.4 286.4 240.9 290.2 244.0 292.2 244.5 292.7 244.1 293.7 242.1 294.7 241.1 299.9 237.4 301.7 236.6 303.4 236.9 305.4 238.3 306.2 239.3 307.4 242.7 308.4 247.0 309.2 252.8 310.7 268.0 312.9 294.6 314.7 306.3 315.4 309.3 315.9 310.0 316.4 309.4 317.2 306.0 319.4 287.6 320.2 278.2 322.2 244.3 322.7 240.0 324.7 239.4 329.4 238.9 332.2 238.7 334.4 238.8 336.7 239.1 338.7 239.7 339.7 240.3 340.9 241.6 342.2 243.7 343.4 247.8 344.4 252.7 345.2 258.2 346.2 270.6 348.2 301.8 349.4 335.7 352.7 461.6 353.2 476.9 353.4 479.9 353.7 478.4 353.9 472.5 357.2 343.4 358.2 310.6 359.7 279.6 361.9 246.9 362.4 243.5 363.7 240.3 364.4 239.4 364.9 239.2 372.2 240.0 374.2 239.7 379.2 238.4 382.4 238.4 387.7 239.3 391.7 241.4 393.4 241.8 394.9 241.4 398.9 239.3 404.7 238.4 414.7 238.4 418.2 239.1 419.4 239.8 420.4 241.0 421.4 242.8 421.9 243.9 422.4 245.8 423.7 254.9 424.7 267.3 426.9 324.0 427.2 335.6 427.9 415.8 428.4 439.6 429.4 465.7 430.4 484.4 431.4 495.9 431.9 498.9 432.4 500.0 432.9 499.5 433.7 496.2 434.4 490.4 435.2 482.1 436.7 459.3 438.2 430.0 438.9 402.9 441.4 273.3 442.2 256.8 442.7 249.8 443.2 245.7 443.4 245.1 444.7 244.1 445.7 243.7 446.9 243.5 448.7 244.1 450.7 245.7 451.9 248.5 454.7 257.6 457.2 267.9 457.7 269.0 458.2 269.3 459.2 269.0 460.2 268.3 462.9 265.2 464.4 262.4 466.9 256.7 469.4 249.9 470.4 247.7 472.7 245.2 474.9 243.7 475.9 243.5 477.7 243.6 481.7 244.6 483.4 245.9 485.4 248.5 486.9 251.3 488.7 256.1 489.4 258.7 490.9 266.3 491.4 267.5 491.7 267.6 492.2 267.1 492.7 266.1 494.7 260.0 497.4 253.3 498.4 251.3 499.2 250.5 500.4 250.1 503.9 249.4 507.9 247.9 510.4 247.9 512.5 248.5 513.5 248.9 515.5 252.6 516.2 253.6 516.7 253.8 518.5 253.8 519.2 252.8 520.7 248.7 522.7 244.3 523.5 243.5 524.0 243.7 525.0 245.8 525.7 248.8 526.5 255.1 527.2 265.7 529.2 330.3 533.2 483.8 534.2 511.6 534.7 518.7 535.0 520.0 535.2 519.7 535.7 516.9 536.5 507.5 538.0 474.7 540.0 413.3 542.2 293.3 543.0 275.7 544.0 264.1 544.7 258.9 545.0 258.2 545.2 258.2 545.7 259.9 546.5 266.2 547.2 275.0 549.2 317.0 553.0 376.4 554.7 397.7 555.5 403.0 556.0 404.9 556.2 405.3 556.5 405.1 557.0 402.1 557.7 391.7 563.0 279.2 564.5 258.5 564.7 256.9 565.2 256.2 567.5 255.5 569.7 254.0 571.7 253.2 572.7 253.0 573.0 253.7 573.5 258.8 574.5 276.1 576.7 337.4 579.7 430.0 581.2 486.1 581.7 497.8 582.0 499.9 582.2 499.1 582.5 495.8 583.2 474.8 588.0 294.3 589.0 271.7 590.2 256.4 591.0 250.1 591.5 247.4 592.2 245.1 593.0 243.7 593.5 243.5 594.2 244.6 595.0 246.7 595.5 249.2 596.7 261.3 597.7 274.6 599.0 296.9 600.0 319.8" stroke="#3c82dc" stroke-width="1.6"/><path d="M58.7 310.0 59.0 309.1 60.0 297.5 63.2 267.3 64.2 261.1 65.2 256.8 65.5 256.3 65.7 256.1 66.0 256.2 67.2 257.8 69.0 261.3 70.5 266.1 70.7 266.4 71.2 266.3 72.0 265.9 72.7 265.2 73.2 264.1 75.7 250.2 76.2 248.5 77.7 244.6 78.2 244.6 78.7 245.0 80.0 247.1 81.0 251.3 82.2 261.5 83.2 279.2 85.0 365.4 87.2 432.0 88.5 461.6 89.7 488.7 90.7 506.0 91.7 517.0 92.2 519.6 92.5 520.0 93.0 519.6 93.7 517.0 94.5 512.3 95.2 505.9 97.0 485.2 98.5 461.9 99.5 429.5 100.2 360.0 101.5 304.0 102.2 288.3 103.5 272.9 104.5 256.8 105.0 253.0 105.5 253.3 106.0 254.1 106.5 255.9 108.0 266.8 108.7 274.5 110.5 300.8 113.2 329.0 114.0 334.3 114.2 334.9 114.5 334.8 115.0 332.0 117.5 308.6 119.5 294.5 120.0 293.3 120.5 293.9 121.7 299.0 122.7 307.1 124.2 323.0 127.2 362.6 129.4 397.7 130.2 405.4 130.7 407.5 130.9 407.2 131.4 401.5 132.9 371.5 133.9 345.3 134.7 315.2 134.9 309.1 135.4 307.1 135.7 302.5 136.7 272.5 137.4 263.5 138.2 257.9 138.4 257.3 138.9 257.7 139.4 259.1 140.2 262.4 140.7 267.9 141.2 278.0 142.4 312.4 146.7 484.1 147.2 497.5 147.4 499.9 147.7 498.6 148.2 484.8 151.9 313.0 152.4 298.8 153.4 279.4 155.2 254.1 155.7 250.0 156.4 246.4 157.2 244.0 157.7 243.5 158.4 243.7 159.2 244.2 160.2 245.3 161.4 248.5 162.4 252.6 163.4 260.4 167.2 296.8 169.4 316.7 169.9 319.8 171.2 324.2 171.9 326.0 172.7 326.7 173.2 325.6 173.7 323.0 176.2 305.8 176.7 303.3 178.2 299.5 179.2 297.6 181.2 294.5 181.7 293.3 182.2 291.1 183.7 278.1 184.9 261.8 185.7 255.3 187.7 243.4 188.2 241.6 188.9 239.8 189.7 238.5 190.4 237.6 191.4 237.1 192.4 236.9 202.9 236.8 213.4 236.3 215.4 236.6 217.2 237.6 218.4 245.4 221.7 257.8 222.4 264.4 224.2 324.7 226.7 367.0 227.2 371.5 227.4 371.4 227.9 367.6 231.2 323.7 232.4 308.3 233.2 301.7 234.2 296.2 234.4 295.6 234.7 295.3 234.9 295.4 235.4 296.4 236.4 299.6 237.7 306.6 237.9 307.1 238.2 306.9 238.7 305.4 240.9 291.8 241.9 284.3 242.4 278.8 243.4 261.5 244.4 252.9 246.4 241.0 247.4 239.2 248.4 237.9 249.9 236.8 251.7 236.6 254.2 237.2 254.9 237.8 255.4 238.5 256.4 240.7 257.2 243.0 258.2 251.8 260.4 262.3 261.7 269.9 261.9 270.5 262.4 270.4 263.7 269.3 264.9 267.9 265.4 267.8 265.9 268.2 266.4 269.0 267.7 271.8 269.2 279.2 272.2 304.3 274.2 318.9 274.9 323.0 275.4 324.2 275.7 324.3 276.2 323.4 276.9 320.3 278.2 314.0 279.7 304.8 280.7 300.8 281.7 297.9 282.9 295.2 283.7 294.1 285.4 292.2 286.4 289.8 287.4 276.5 288.9 263.9 290.9 252.1 291.7 249.2 292.9 245.6 293.7 244.2 295.7 242.5 297.7 241.8 299.9 241.5 300.4 241.7 301.9 243.5 304.7 245.9 305.7 246.1 307.9 245.2 308.2 245.2 308.4 245.7 308.9 247.9 309.4 251.8 310.7 268.0 311.4 298.7 312.2 311.9 315.2 345.7 316.2 353.2 316.7 355.1 316.9 355.4 317.2 355.3 317.4 354.7 317.9 352.6 318.9 345.0 320.9 324.6 322.4 305.3 324.4 296.5 325.9 283.5 326.2 283.0 327.2 282.0 327.9 281.5 328.7 281.4 329.4 282.1 330.9 284.6 331.4 284.7 331.7 284.2 333.2 276.9 336.4 257.8 338.7 248.1 339.4 245.9 339.9 245.2 341.4 244.4 342.2 244.8 342.9 246.1 343.7 248.9 344.7 254.6 345.4 260.5 347.4 289.2 348.4 306.9 349.7 344.8 352.9 470.4 353.4 479.9 353.7 479.4 353.9 477.3 354.4 469.1 360.2 334.8 360.9 324.5 362.4 310.5 363.4 297.9 363.9 294.3 364.7 292.5 366.9 289.5 369.2 287.3 369.7 286.5 370.2 285.0 371.7 276.4 374.2 257.0 375.2 251.4 376.2 247.2 378.2 241.1 378.9 239.9 379.9 239.3 380.7 239.3 381.2 240.2 381.9 242.9 383.2 249.2 383.9 254.5 385.9 273.5 387.7 292.5 388.4 298.6 389.4 304.6 391.7 316.1 393.4 327.1 393.9 329.3 394.4 330.4 394.7 330.5 394.9 330.0 395.7 326.1 399.7 292.2 401.9 279.2 402.7 277.1 403.2 277.1 403.9 278.4 405.7 282.6 406.2 283.1 406.4 283.0 406.7 282.6 407.4 279.7 409.4 267.4 411.2 260.2 412.4 256.3 412.9 255.6 413.2 255.5 413.7 255.8 414.9 258.2 416.2 262.5 418.2 278.3 419.9 286.5 420.7 292.0 421.4 304.7 426.9 421.6 429.4 467.3 431.2 492.9 431.9 498.6 432.4 500.0 432.9 499.4 433.7 496.1 434.9 484.6 436.2 467.1 437.7 440.1 438.7 415.2 441.2 311.7 441.9 298.9 442.4 293.8 442.9 291.5 443.2 291.6 443.7 292.7 444.7 297.3 446.4 307.8 448.2 321.3 448.9 325.8 450.7 332.9 451.7 335.1 452.2 335.1 452.9 333.9 457.4 319.9 458.2 318.3 458.7 317.9 458.9 317.9 459.4 318.5 460.4 321.1 462.9 330.6 464.7 339.3 465.4 341.1 466.2 340.9 467.2 339.6 472.4 328.8 475.4 323.5 476.2 322.7 476.7 322.4 477.2 322.5 477.7 323.3 478.4 325.3 479.9 330.9 482.2 342.7 484.4 351.3 485.9 354.7 488.7 358.3 489.9 360.5 491.2 363.7 492.7 368.8 493.9 374.4 495.9 385.6 498.7 405.6 499.7 411.6 501.9 421.1 502.7 423.0 503.2 423.5 503.4 423.4 504.2 420.5 505.4 412.3 508.7 394.2 513.5 362.2 515.7 343.5 516.0 342.1 516.2 341.7 518.2 340.2 518.5 339.6 519.0 336.9 521.0 320.8 521.7 313.3 523.2 281.8 524.2 265.3 525.0 259.8 525.2 259.1 525.7 259.2 526.5 260.4 527.0 261.8 527.5 271.0 529.5 339.4 533.2 483.8 534.2 511.6 534.7 518.7 535.0 520.0 535.2 519.7 535.7 516.9 536.5 507.5 538.0 474.7 540.0 413.3 542.2 293.3 543.0 275.7 544.0 264.1 544.7 258.9 545.0 258.2 545.2 258.2 545.7 259.9 546.5 266.2 547.2 275.0 549.2 317.0 553.0 376.4 554.7 397.7 555.5 403.0 556.0 404.9 556.2 405.3 556.5 405.1 557.0 402.1 557.7 391.7 563.0 279.2 564.5 258.5 564.7 256.9 565.2 256.2 567.5 255.5 569.7 254.0 571.7 253.2 572.7 253.0 573.0 253.7 573.5 258.8 574.5 276.1 576.7 337.4 579.7 430.0 581.2 486.1 581.7 497.8 582.0 499.9 582.2 499.1 582.5 495.8 583.2 474.8 588.0 294.3 589.0 271.7 590.2 256.4 591.0 250.1 591.5 247.4 592.2 245.1 593.0 243.7 593.5 243.5 594.2 244.6 595.0 246.7 595.5 249.2 596.7 261.3 597.7 274.6 599.0 296.9 600.0 319.8" stroke="#8e2be0" stroke-width="1.6"/><path d="M58.7 260.3 60.5 256.2 62.2 253.2 64.0 251.4 64.7 250.9 65.2 250.9 66.2 251.6 67.7 253.7 68.5 255.7 70.0 261.2 70.5 262.3 71.0 262.4 71.7 260.9 73.2 255.4 75.2 249.6 77.0 245.6 77.7 244.6 78.2 244.6 78.7 245.0 80.0 247.1 80.7 249.9 81.5 254.7 82.5 264.8 83.2 279.2 83.7 298.0 84.7 355.9 87.2 432.0 90.2 498.0 91.5 514.9 92.0 518.6 92.5 520.0 93.0 519.6 93.7 517.0 94.5 512.3 95.2 505.9 97.0 485.2 98.5 461.9 99.5 429.5 100.5 345.2 101.7 297.1 102.2 288.4 103.5 272.7 104.7 251.8 105.7 245.2 106.2 243.3 106.7 242.6 107.2 242.7 108.0 243.4 109.5 245.5 111.7 251.9 113.2 254.5 114.0 255.3 114.5 255.5 115.0 255.2 116.7 252.5 118.2 250.7 119.2 249.7 120.0 249.5 120.5 249.8 121.2 251.0 122.5 255.0 124.0 271.7 125.2 293.2 126.0 313.1 126.7 350.1 127.2 363.7 128.4 379.0 129.9 391.7 130.7 394.9 130.9 394.7 131.4 390.8 133.9 360.9 135.2 311.4 135.9 288.7 136.7 272.4 137.4 263.5 138.2 257.9 138.4 257.3 138.9 257.7 139.4 259.1 140.2 262.4 140.7 267.9 141.2 278.0 142.4 312.4 146.7 484.1 147.2 497.5 147.4 499.9 147.7 498.6 148.2 484.8 152.2 305.2 152.9 288.6 155.2 250.2 155.7 245.2 156.2 242.5 156.9 239.5 157.4 238.4 157.7 238.3 159.7 238.5 161.9 239.2 162.4 239.5 163.2 240.4 164.4 242.7 166.9 248.2 170.2 257.9 171.2 259.7 171.9 260.0 172.9 259.6 173.9 258.6 176.2 256.0 178.7 252.3 181.2 250.3 182.2 249.1 183.7 246.3 185.7 240.7 187.2 237.9 187.9 237.0 191.2 236.8 202.9 236.8 213.4 236.3 215.9 236.7 217.9 237.5 219.2 239.5 220.4 242.7 221.4 247.2 223.2 256.9 223.9 264.5 224.7 282.0 224.9 284.3 226.4 293.4 227.2 295.6 227.7 296.0 228.2 293.9 229.4 280.8 230.9 270.2 231.9 265.0 232.9 262.0 233.9 259.7 234.4 259.1 234.9 259.0 235.7 259.8 237.4 262.4 239.2 263.9 239.9 264.1 240.2 264.0 240.9 261.6 242.4 254.0 245.4 243.2 246.7 240.6 248.2 238.5 249.4 237.2 250.2 236.7 250.9 236.6 252.7 236.8 254.2 237.2 255.2 238.4 256.2 240.4 257.2 243.0 257.9 245.7 262.2 267.3 262.4 268.1 262.7 268.3 263.2 267.5 264.4 263.8 265.9 257.3 267.7 251.1 268.2 249.9 268.9 249.1 270.2 248.4 270.9 248.6 274.9 256.6 275.7 257.5 276.2 257.6 277.2 256.7 279.2 253.8 281.7 251.3 286.9 247.7 296.4 239.9 300.9 236.8 302.2 236.6 303.4 236.9 305.4 238.3 306.2 239.3 307.4 242.7 308.4 247.0 309.2 252.8 310.7 268.0 312.9 294.6 314.7 306.3 315.4 309.3 315.9 310.0 316.4 309.4 317.2 306.0 318.9 292.4 321.7 259.6 322.4 255.9 323.4 252.5 325.4 248.4 326.2 247.4 326.7 247.0 327.7 247.0 329.9 247.8 330.9 247.7 332.2 246.8 334.2 244.9 335.7 243.0 336.4 242.6 340.2 242.6 341.4 243.7 342.7 245.6 343.4 247.9 344.2 251.6 345.2 258.1 345.9 266.8 348.2 301.8 349.4 335.7 352.7 461.6 353.2 476.9 353.4 479.9 353.7 478.4 353.9 472.5 357.2 343.4 358.4 304.3 359.4 283.6 360.7 265.5 361.4 258.7 362.7 252.5 363.9 248.8 365.2 246.5 365.9 245.5 366.7 245.2 367.9 247.5 368.7 247.3 371.4 244.7 373.9 241.3 374.9 240.2 377.2 239.1 379.2 238.4 380.7 238.3 381.7 238.7 385.7 242.7 389.2 247.0 392.2 252.8 392.9 253.6 393.4 253.8 393.9 253.5 394.4 252.9 396.7 248.8 398.7 246.2 399.7 245.4 400.7 245.3 402.9 246.7 403.4 246.9 404.2 246.8 405.2 246.5 407.4 245.0 410.2 242.6 411.4 241.8 414.4 240.9 415.2 241.0 415.9 241.5 417.7 243.8 418.7 245.9 419.9 249.8 420.7 253.6 424.2 284.8 426.2 309.6 426.7 319.0 427.2 334.8 427.9 415.3 428.4 439.6 429.4 465.7 430.4 484.4 431.4 495.9 431.9 498.9 432.4 500.0 432.9 499.5 433.7 496.2 434.9 485.1 436.2 467.7 437.7 440.4 438.7 413.8 440.4 319.3 441.4 276.6 441.7 271.0 442.4 263.9 443.2 259.8 444.4 255.0 444.9 253.9 445.2 253.8 445.7 254.0 446.4 255.0 448.9 259.5 450.4 262.8 452.9 270.7 453.9 273.1 456.2 276.9 456.9 277.7 458.4 278.7 459.9 279.3 461.4 279.6 462.2 279.4 463.2 278.6 464.7 276.6 465.4 275.3 468.2 266.3 470.9 261.4 471.9 260.2 472.7 259.8 475.2 259.2 477.4 259.0 478.4 259.4 479.7 260.2 481.4 261.7 482.2 262.8 488.2 274.5 490.2 279.2 491.2 281.0 492.7 281.9 496.9 283.2 499.9 286.0 500.7 286.4 501.2 286.5 501.9 286.3 502.9 285.6 506.2 282.1 508.9 277.6 511.7 271.8 513.2 270.2 514.2 269.5 515.0 269.3 515.5 269.6 517.2 271.9 517.7 271.9 518.0 271.6 518.5 270.4 519.2 267.5 523.2 247.5 523.5 247.0 523.7 246.9 525.2 246.9 525.5 247.1 526.0 249.7 526.7 257.9 527.5 272.4 529.5 339.4 533.2 483.8 534.2 511.6 534.7 518.7 535.0 520.0 535.2 519.7 535.7 516.9 536.5 507.5 538.0 474.7 540.0 413.3 542.2 293.3 543.0 275.7 544.0 264.1 544.7 258.9 545.0 258.2 545.2 258.2 545.7 259.9 546.5 266.2 547.2 275.0 549.2 317.0 553.0 376.4 554.7 397.7 555.5 403.0 556.0 404.9 556.2 405.3 556.5 405.1 557.0 402.1 557.7 391.7 563.0 279.2 564.5 258.5 564.7 256.9 565.2 256.2 567.5 255.5 569.7 254.0 571.7 253.2 572.7 253.0 573.0 253.7 573.5 258.8 574.5 276.1 576.7 337.4 579.7 430.0 581.2 486.1 581.7 497.8 582.0 499.9 582.2 499.1 582.5 495.8 583.2 474.8 588.0 294.3 589.0 271.7 590.2 256.4 591.0 250.1 591.5 247.4 592.2 245.1 593.0 243.7 593.5 243.5 594.2 244.6 595.0 246.7 595.5 249.2 596.7 261.3 597.7 274.6 599.0 296.9 600.0 319.8" stroke="#2f8a5a" stroke-width="1.8"/><path d="M58.1 263.6h1.5v1.5h-1.5zM58.6 268.8h1.5v1.5h-1.5zM59.1 275.0h1.5v1.5h-1.5zM59.5 280.7h1.5v1.5h-1.5zM60.0 285.9h1.5v1.5h-1.5zM60.4 290.5h1.5v1.5h-1.5zM60.9 292.4h1.5v1.5h-1.5zM61.3 293.0h1.5v1.5h-1.5zM61.8 293.2h1.5v1.5h-1.5zM62.2 291.7h1.5v1.5h-1.5zM62.7 288.5h1.5v1.5h-1.5zM63.1 285.2h1.5v1.5h-1.5zM63.6 281.6h1.5v1.5h-1.5zM64.0 277.9h1.5v1.5h-1.5zM64.5 274.5h1.5v1.5h-1.5zM64.9 271.3h1.5v1.5h-1.5zM65.4 268.3h1.5v1.5h-1.5zM65.8 265.0h1.5v1.5h-1.5zM66.3 262.4h1.5v1.5h-1.5zM66.7 261.9h1.5v1.5h-1.5zM67.2 261.5h1.5v1.5h-1.5zM67.6 261.3h1.5v1.5h-1.5zM68.1 261.2h1.5v1.5h-1.5zM68.5 261.3h1.5v1.5h-1.5zM69.0 261.9h1.5v1.5h-1.5zM69.4 262.5h1.5v1.5h-1.5zM69.9 263.0h1.5v1.5h-1.5zM70.3 263.0h1.5v1.5h-1.5zM70.8 262.6h1.5v1.5h-1.5zM71.2 262.0h1.5v1.5h-1.5zM71.7 261.5h1.5v1.5h-1.5zM72.1 261.1h1.5v1.5h-1.5zM72.6 260.9h1.5v1.5h-1.5zM73.0 260.7h1.5v1.5h-1.5zM73.5 260.5h1.5v1.5h-1.5zM73.9 260.5h1.5v1.5h-1.5zM74.4 260.6h1.5v1.5h-1.5zM74.8 261.2h1.5v1.5h-1.5zM75.3 261.9h1.5v1.5h-1.5zM75.7 262.8h1.5v1.5h-1.5zM76.2 263.6h1.5v1.5h-1.5zM76.6 264.5h1.5v1.5h-1.5zM77.1 265.6h1.5v1.5h-1.5zM77.5 267.0h1.5v1.5h-1.5zM78.0 268.7h1.5v1.5h-1.5zM78.4 271.6h1.5v1.5h-1.5zM78.9 275.5h1.5v1.5h-1.5zM79.3 279.6h1.5v1.5h-1.5zM79.8 284.3h1.5v1.5h-1.5zM80.2 289.6h1.5v1.5h-1.5zM80.7 295.9h1.5v1.5h-1.5zM81.1 304.6h1.5v1.5h-1.5zM81.6 271.4h1.5v1.5h-1.5zM82.0 282.0h1.5v1.5h-1.5zM82.5 300.4h1.5v1.5h-1.5zM82.9 329.9h1.5v1.5h-1.5zM83.4 353.6h1.5v1.5h-1.5zM83.8 370.0h1.5v1.5h-1.5zM84.3 382.4h1.5v1.5h-1.5zM84.7 394.1h1.5v1.5h-1.5zM85.2 408.0h1.5v1.5h-1.5zM85.6 423.4h1.5v1.5h-1.5zM86.1 435.4h1.5v1.5h-1.5zM86.5 446.1h1.5v1.5h-1.5zM87.0 456.8h1.5v1.5h-1.5zM87.4 467.2h1.5v1.5h-1.5zM87.9 477.2h1.5v1.5h-1.5zM88.3 486.6h1.5v1.5h-1.5zM88.8 495.2h1.5v1.5h-1.5zM89.2 502.8h1.5v1.5h-1.5zM89.7 509.2h1.5v1.5h-1.5zM90.1 514.3h1.5v1.5h-1.5zM90.6 517.9h1.5v1.5h-1.5zM91.0 519.7h1.5v1.5h-1.5zM91.5 519.7h1.5v1.5h-1.5zM91.9 519.1h1.5v1.5h-1.5zM92.4 519.8h1.5v1.5h-1.5zM92.8 519.3h1.5v1.5h-1.5zM93.3 517.9h1.5v1.5h-1.5zM93.7 515.8h1.5v1.5h-1.5zM94.2 512.9h1.5v1.5h-1.5zM94.6 509.4h1.5v1.5h-1.5zM95.1 505.2h1.5v1.5h-1.5zM95.5 500.5h1.5v1.5h-1.5zM96.0 495.3h1.5v1.5h-1.5zM96.4 489.7h1.5v1.5h-1.5zM96.9 483.6h1.5v1.5h-1.5zM97.3 477.3h1.5v1.5h-1.5zM97.8 470.6h1.5v1.5h-1.5zM98.2 462.8h1.5v1.5h-1.5zM98.7 451.7h1.5v1.5h-1.5zM99.1 436.1h1.5v1.5h-1.5zM99.6 403.2h1.5v1.5h-1.5zM100.0 359.8h1.5v1.5h-1.5zM100.5 334.8h1.5v1.5h-1.5zM100.9 316.0h1.5v1.5h-1.5zM101.4 300.9h1.5v1.5h-1.5zM101.8 291.3h1.5v1.5h-1.5zM102.3 285.0h1.5v1.5h-1.5zM102.7 279.9h1.5v1.5h-1.5zM103.2 274.1h1.5v1.5h-1.5zM103.6 266.5h1.5v1.5h-1.5zM104.1 250.7h1.5v1.5h-1.5zM104.5 250.1h1.5v1.5h-1.5zM105.0 249.7h1.5v1.5h-1.5zM105.4 249.4h1.5v1.5h-1.5zM105.9 249.1h1.5v1.5h-1.5zM106.3 248.8h1.5v1.5h-1.5zM106.8 248.8h1.5v1.5h-1.5zM107.2 249.1h1.5v1.5h-1.5zM107.7 250.0h1.5v1.5h-1.5zM108.1 251.2h1.5v1.5h-1.5zM108.6 252.4h1.5v1.5h-1.5zM109.0 253.4h1.5v1.5h-1.5zM109.5 254.0h1.5v1.5h-1.5zM109.9 254.4h1.5v1.5h-1.5zM110.4 254.8h1.5v1.5h-1.5zM110.8 255.1h1.5v1.5h-1.5zM111.3 255.3h1.5v1.5h-1.5zM111.7 255.5h1.5v1.5h-1.5zM112.2 255.7h1.5v1.5h-1.5zM112.6 255.9h1.5v1.5h-1.5zM113.1 256.0h1.5v1.5h-1.5zM113.5 256.1h1.5v1.5h-1.5zM114.0 256.3h1.5v1.5h-1.5zM114.4 256.5h1.5v1.5h-1.5zM114.9 256.9h1.5v1.5h-1.5zM115.3 257.7h1.5v1.5h-1.5zM115.8 258.9h1.5v1.5h-1.5zM116.2 260.3h1.5v1.5h-1.5zM116.7 261.8h1.5v1.5h-1.5zM117.1 263.2h1.5v1.5h-1.5zM117.6 264.5h1.5v1.5h-1.5zM118.0 265.7h1.5v1.5h-1.5zM118.5 266.9h1.5v1.5h-1.5zM118.9 268.2h1.5v1.5h-1.5zM119.4 269.6h1.5v1.5h-1.5zM119.8 271.0h1.5v1.5h-1.5zM120.3 272.6h1.5v1.5h-1.5zM120.7 274.3h1.5v1.5h-1.5zM121.2 276.2h1.5v1.5h-1.5zM121.6 278.2h1.5v1.5h-1.5zM122.1 280.5h1.5v1.5h-1.5zM122.5 283.1h1.5v1.5h-1.5zM123.0 286.0h1.5v1.5h-1.5zM123.4 290.0h1.5v1.5h-1.5zM123.9 296.6h1.5v1.5h-1.5zM124.3 303.3h1.5v1.5h-1.5zM124.8 307.1h1.5v1.5h-1.5zM125.2 340.3h1.5v1.5h-1.5zM125.7 358.7h1.5v1.5h-1.5zM126.1 366.8h1.5v1.5h-1.5zM126.6 372.8h1.5v1.5h-1.5zM127.0 377.5h1.5v1.5h-1.5zM127.5 381.4h1.5v1.5h-1.5zM127.9 385.4h1.5v1.5h-1.5zM128.4 389.3h1.5v1.5h-1.5zM128.8 390.1h1.5v1.5h-1.5zM129.3 404.8h1.5v1.5h-1.5zM129.7 421.6h1.5v1.5h-1.5zM130.2 426.7h1.5v1.5h-1.5zM130.6 414.5h1.5v1.5h-1.5zM131.1 396.0h1.5v1.5h-1.5zM131.5 387.5h1.5v1.5h-1.5zM132.0 381.2h1.5v1.5h-1.5zM132.4 375.8h1.5v1.5h-1.5zM132.9 371.5h1.5v1.5h-1.5zM133.3 367.0h1.5v1.5h-1.5zM133.8 360.7h1.5v1.5h-1.5zM134.2 347.3h1.5v1.5h-1.5zM134.7 326.3h1.5v1.5h-1.5zM135.1 307.8h1.5v1.5h-1.5zM135.6 294.3h1.5v1.5h-1.5zM136.0 282.1h1.5v1.5h-1.5zM136.5 273.0h1.5v1.5h-1.5zM136.9 267.2h1.5v1.5h-1.5zM137.4 262.3h1.5v1.5h-1.5zM137.8 258.7h1.5v1.5h-1.5zM138.3 259.3h1.5v1.5h-1.5zM138.7 261.3h1.5v1.5h-1.5zM139.2 264.3h1.5v1.5h-1.5zM139.6 271.3h1.5v1.5h-1.5zM140.1 281.6h1.5v1.5h-1.5zM140.5 293.7h1.5v1.5h-1.5zM141.0 306.5h1.5v1.5h-1.5zM141.4 320.7h1.5v1.5h-1.5zM141.9 337.8h1.5v1.5h-1.5zM142.3 355.9h1.5v1.5h-1.5zM142.8 374.1h1.5v1.5h-1.5zM143.2 393.6h1.5v1.5h-1.5zM143.7 413.0h1.5v1.5h-1.5zM144.1 431.1h1.5v1.5h-1.5zM144.6 448.8h1.5v1.5h-1.5zM145.0 468.3h1.5v1.5h-1.5zM145.5 485.7h1.5v1.5h-1.5zM145.9 497.3h1.5v1.5h-1.5zM146.4 499.0h1.5v1.5h-1.5zM146.8 493.1h1.5v1.5h-1.5zM147.3 499.8h1.5v1.5h-1.5zM147.7 494.4h1.5v1.5h-1.5zM148.2 478.5h1.5v1.5h-1.5zM148.6 457.5h1.5v1.5h-1.5zM149.1 436.9h1.5v1.5h-1.5zM149.5 418.3h1.5v1.5h-1.5zM150.0 398.6h1.5v1.5h-1.5zM150.4 378.2h1.5v1.5h-1.5zM150.9 357.5h1.5v1.5h-1.5zM151.3 334.1h1.5v1.5h-1.5zM151.8 312.9h1.5v1.5h-1.5zM152.2 300.0h1.5v1.5h-1.5zM152.7 290.3h1.5v1.5h-1.5zM153.1 282.3h1.5v1.5h-1.5zM153.6 275.0h1.5v1.5h-1.5zM154.0 267.3h1.5v1.5h-1.5zM154.5 259.1h1.5v1.5h-1.5zM154.9 251.5h1.5v1.5h-1.5zM155.4 246.1h1.5v1.5h-1.5zM155.8 239.0h1.5v1.5h-1.5zM156.3 237.1h1.5v1.5h-1.5zM156.7 235.4h1.5v1.5h-1.5zM157.2 234.1h1.5v1.5h-1.5zM157.6 233.2h1.5v1.5h-1.5zM158.1 232.4h1.5v1.5h-1.5zM158.5 231.8h1.5v1.5h-1.5zM159.0 231.2h1.5v1.5h-1.5zM159.4 230.8h1.5v1.5h-1.5zM159.9 230.7h1.5v1.5h-1.5zM160.3 230.9h1.5v1.5h-1.5zM160.8 231.7h1.5v1.5h-1.5zM161.2 232.8h1.5v1.5h-1.5zM161.7 234.0h1.5v1.5h-1.5zM162.1 235.2h1.5v1.5h-1.5zM162.6 236.7h1.5v1.5h-1.5zM163.0 238.2h1.5v1.5h-1.5zM163.5 239.8h1.5v1.5h-1.5zM163.9 241.2h1.5v1.5h-1.5zM164.4 242.6h1.5v1.5h-1.5zM164.8 244.0h1.5v1.5h-1.5zM165.3 245.4h1.5v1.5h-1.5zM165.7 246.6h1.5v1.5h-1.5zM166.2 247.5h1.5v1.5h-1.5zM166.6 248.1h1.5v1.5h-1.5zM167.1 248.6h1.5v1.5h-1.5zM167.5 248.9h1.5v1.5h-1.5zM168.0 249.3h1.5v1.5h-1.5zM168.4 249.5h1.5v1.5h-1.5zM168.9 249.6h1.5v1.5h-1.5zM169.3 249.6h1.5v1.5h-1.5zM169.8 249.3h1.5v1.5h-1.5zM170.2 248.9h1.5v1.5h-1.5zM170.7 248.5h1.5v1.5h-1.5zM171.1 248.1h1.5v1.5h-1.5zM171.6 248.0h1.5v1.5h-1.5zM172.0 248.0h1.5v1.5h-1.5zM172.5 248.0h1.5v1.5h-1.5zM172.9 248.1h1.5v1.5h-1.5zM173.4 248.2h1.5v1.5h-1.5zM173.8 248.3h1.5v1.5h-1.5zM174.3 248.5h1.5v1.5h-1.5zM174.7 248.6h1.5v1.5h-1.5zM175.2 248.8h1.5v1.5h-1.5zM175.6 249.1h1.5v1.5h-1.5zM176.1 249.6h1.5v1.5h-1.5zM176.5 250.1h1.5v1.5h-1.5zM177.0 250.6h1.5v1.5h-1.5zM177.4 250.8h1.5v1.5h-1.5zM177.9 251.0h1.5v1.5h-1.5zM178.3 251.2h1.5v1.5h-1.5zM178.8 251.4h1.5v1.5h-1.5zM179.2 251.4h1.5v1.5h-1.5zM179.7 251.2h1.5v1.5h-1.5zM180.1 250.6h1.5v1.5h-1.5zM180.6 249.8h1.5v1.5h-1.5zM181.0 249.0h1.5v1.5h-1.5zM181.5 248.3h1.5v1.5h-1.5zM181.9 248.0h1.5v1.5h-1.5zM182.4 247.8h1.5v1.5h-1.5zM182.8 247.7h1.5v1.5h-1.5zM183.3 247.6h1.5v1.5h-1.5zM183.7 247.5h1.5v1.5h-1.5zM184.2 247.3h1.5v1.5h-1.5zM184.6 247.0h1.5v1.5h-1.5zM185.1 246.7h1.5v1.5h-1.5zM185.5 246.2h1.5v1.5h-1.5zM186.0 245.7h1.5v1.5h-1.5zM186.4 245.2h1.5v1.5h-1.5zM186.9 244.6h1.5v1.5h-1.5zM187.3 244.0h1.5v1.5h-1.5zM187.8 243.3h1.5v1.5h-1.5zM188.2 242.6h1.5v1.5h-1.5zM188.7 242.0h1.5v1.5h-1.5zM189.1 241.5h1.5v1.5h-1.5zM189.6 241.3h1.5v1.5h-1.5zM190.0 241.0h1.5v1.5h-1.5zM190.5 240.8h1.5v1.5h-1.5zM190.9 240.7h1.5v1.5h-1.5zM191.4 240.6h1.5v1.5h-1.5zM191.8 240.6h1.5v1.5h-1.5zM192.3 240.8h1.5v1.5h-1.5zM192.7 241.5h1.5v1.5h-1.5zM193.2 242.4h1.5v1.5h-1.5zM193.6 243.4h1.5v1.5h-1.5zM194.1 244.4h1.5v1.5h-1.5zM194.5 245.6h1.5v1.5h-1.5zM195.0 247.0h1.5v1.5h-1.5zM195.4 248.3h1.5v1.5h-1.5zM195.9 249.5h1.5v1.5h-1.5zM196.3 250.5h1.5v1.5h-1.5zM196.8 251.5h1.5v1.5h-1.5zM197.2 252.3h1.5v1.5h-1.5zM197.7 252.9h1.5v1.5h-1.5zM198.1 253.0h1.5v1.5h-1.5zM198.6 252.9h1.5v1.5h-1.5zM199.0 252.5h1.5v1.5h-1.5zM199.5 252.1h1.5v1.5h-1.5zM199.9 251.6h1.5v1.5h-1.5zM200.4 251.1h1.5v1.5h-1.5zM200.8 250.6h1.5v1.5h-1.5zM201.3 250.1h1.5v1.5h-1.5zM201.7 249.5h1.5v1.5h-1.5zM202.2 248.9h1.5v1.5h-1.5zM202.6 248.4h1.5v1.5h-1.5zM203.1 247.9h1.5v1.5h-1.5zM203.5 247.4h1.5v1.5h-1.5zM204.0 246.8h1.5v1.5h-1.5zM204.4 246.3h1.5v1.5h-1.5zM204.9 245.7h1.5v1.5h-1.5zM205.3 245.1h1.5v1.5h-1.5zM205.8 244.5h1.5v1.5h-1.5zM206.2 243.8h1.5v1.5h-1.5zM206.7 243.2h1.5v1.5h-1.5zM207.1 242.5h1.5v1.5h-1.5zM207.6 241.8h1.5v1.5h-1.5zM208.0 241.1h1.5v1.5h-1.5zM208.5 240.4h1.5v1.5h-1.5zM208.9 239.7h1.5v1.5h-1.5zM209.4 238.9h1.5v1.5h-1.5zM209.8 238.1h1.5v1.5h-1.5zM210.3 237.5h1.5v1.5h-1.5zM210.7 237.1h1.5v1.5h-1.5zM211.2 236.9h1.5v1.5h-1.5zM211.6 236.7h1.5v1.5h-1.5zM212.1 236.5h1.5v1.5h-1.5zM212.5 236.5h1.5v1.5h-1.5zM213.0 236.5h1.5v1.5h-1.5zM213.4 236.6h1.5v1.5h-1.5zM213.9 236.7h1.5v1.5h-1.5zM214.3 236.9h1.5v1.5h-1.5zM214.8 237.2h1.5v1.5h-1.5zM215.2 237.8h1.5v1.5h-1.5zM215.7 238.5h1.5v1.5h-1.5zM216.1 239.2h1.5v1.5h-1.5zM216.6 240.0h1.5v1.5h-1.5zM217.0 240.9h1.5v1.5h-1.5zM217.5 242.0h1.5v1.5h-1.5zM217.9 243.3h1.5v1.5h-1.5zM218.4 244.8h1.5v1.5h-1.5zM218.8 246.4h1.5v1.5h-1.5zM219.3 248.1h1.5v1.5h-1.5zM219.7 249.6h1.5v1.5h-1.5zM220.2 251.1h1.5v1.5h-1.5zM220.6 252.7h1.5v1.5h-1.5zM221.1 254.3h1.5v1.5h-1.5zM221.5 255.8h1.5v1.5h-1.5zM222.0 257.4h1.5v1.5h-1.5zM222.4 259.6h1.5v1.5h-1.5zM222.9 263.7h1.5v1.5h-1.5zM223.3 271.2h1.5v1.5h-1.5zM223.8 278.9h1.5v1.5h-1.5zM224.2 285.6h1.5v1.5h-1.5zM224.7 292.2h1.5v1.5h-1.5zM225.1 297.8h1.5v1.5h-1.5zM225.6 302.0h1.5v1.5h-1.5zM226.0 305.9h1.5v1.5h-1.5zM226.5 308.9h1.5v1.5h-1.5zM226.9 310.2h1.5v1.5h-1.5zM227.4 308.9h1.5v1.5h-1.5zM227.8 304.9h1.5v1.5h-1.5zM228.3 299.7h1.5v1.5h-1.5zM228.7 294.7h1.5v1.5h-1.5zM229.2 290.2h1.5v1.5h-1.5zM229.6 285.4h1.5v1.5h-1.5zM230.1 280.6h1.5v1.5h-1.5zM230.5 276.3h1.5v1.5h-1.5zM231.0 272.8h1.5v1.5h-1.5zM231.4 269.5h1.5v1.5h-1.5zM231.9 266.8h1.5v1.5h-1.5zM232.3 265.1h1.5v1.5h-1.5zM232.8 264.1h1.5v1.5h-1.5zM233.2 263.3h1.5v1.5h-1.5zM233.7 262.7h1.5v1.5h-1.5zM234.1 262.6h1.5v1.5h-1.5zM234.6 263.0h1.5v1.5h-1.5zM235.0 264.0h1.5v1.5h-1.5zM235.5 265.2h1.5v1.5h-1.5zM235.9 266.4h1.5v1.5h-1.5zM236.4 267.5h1.5v1.5h-1.5zM236.8 268.5h1.5v1.5h-1.5zM237.3 269.6h1.5v1.5h-1.5zM237.7 270.7h1.5v1.5h-1.5zM238.2 271.7h1.5v1.5h-1.5zM238.6 272.4h1.5v1.5h-1.5zM239.1 272.8h1.5v1.5h-1.5zM239.5 272.6h1.5v1.5h-1.5zM240.0 271.3h1.5v1.5h-1.5zM240.4 268.9h1.5v1.5h-1.5zM240.9 265.8h1.5v1.5h-1.5zM241.3 262.2h1.5v1.5h-1.5zM241.8 258.2h1.5v1.5h-1.5zM242.2 251.6h1.5v1.5h-1.5zM242.7 247.7h1.5v1.5h-1.5zM243.1 245.9h1.5v1.5h-1.5zM243.6 244.6h1.5v1.5h-1.5zM244.0 243.5h1.5v1.5h-1.5zM244.5 242.7h1.5v1.5h-1.5zM244.9 241.7h1.5v1.5h-1.5zM245.4 240.8h1.5v1.5h-1.5zM245.8 240.0h1.5v1.5h-1.5zM246.3 239.2h1.5v1.5h-1.5zM246.7 238.6h1.5v1.5h-1.5zM247.2 238.2h1.5v1.5h-1.5zM247.6 237.9h1.5v1.5h-1.5zM248.1 237.7h1.5v1.5h-1.5zM248.5 237.6h1.5v1.5h-1.5zM249.0 237.5h1.5v1.5h-1.5zM249.4 237.5h1.5v1.5h-1.5zM249.9 237.8h1.5v1.5h-1.5zM250.3 239.0h1.5v1.5h-1.5zM250.8 240.4h1.5v1.5h-1.5zM251.2 241.7h1.5v1.5h-1.5zM251.7 243.0h1.5v1.5h-1.5zM252.1 244.4h1.5v1.5h-1.5zM252.6 245.8h1.5v1.5h-1.5zM253.0 247.1h1.5v1.5h-1.5zM253.5 248.4h1.5v1.5h-1.5zM253.9 249.7h1.5v1.5h-1.5zM254.4 250.9h1.5v1.5h-1.5zM254.8 251.9h1.5v1.5h-1.5zM255.3 252.6h1.5v1.5h-1.5zM255.7 253.3h1.5v1.5h-1.5zM256.2 253.9h1.5v1.5h-1.5zM256.6 254.4h1.5v1.5h-1.5zM257.1 255.0h1.5v1.5h-1.5zM257.5 255.5h1.5v1.5h-1.5zM258.0 256.1h1.5v1.5h-1.5zM258.4 256.8h1.5v1.5h-1.5zM258.9 257.5h1.5v1.5h-1.5zM259.3 258.2h1.5v1.5h-1.5zM259.8 258.9h1.5v1.5h-1.5zM260.2 259.7h1.5v1.5h-1.5zM260.7 260.4h1.5v1.5h-1.5zM261.1 261.2h1.5v1.5h-1.5zM261.6 262.0h1.5v1.5h-1.5zM262.0 262.9h1.5v1.5h-1.5zM262.5 263.6h1.5v1.5h-1.5zM262.9 263.8h1.5v1.5h-1.5zM263.4 263.8h1.5v1.5h-1.5zM263.8 263.5h1.5v1.5h-1.5zM264.3 263.2h1.5v1.5h-1.5zM264.7 262.7h1.5v1.5h-1.5zM265.2 262.3h1.5v1.5h-1.5zM265.6 261.9h1.5v1.5h-1.5zM266.1 261.3h1.5v1.5h-1.5zM266.5 260.6h1.5v1.5h-1.5zM267.0 260.1h1.5v1.5h-1.5zM267.4 259.7h1.5v1.5h-1.5zM267.9 259.6h1.5v1.5h-1.5zM268.3 259.9h1.5v1.5h-1.5zM268.8 260.6h1.5v1.5h-1.5zM269.2 261.5h1.5v1.5h-1.5zM269.7 262.5h1.5v1.5h-1.5zM270.1 263.3h1.5v1.5h-1.5zM270.6 264.0h1.5v1.5h-1.5zM271.0 264.6h1.5v1.5h-1.5zM271.5 265.2h1.5v1.5h-1.5zM271.9 265.8h1.5v1.5h-1.5zM272.4 266.3h1.5v1.5h-1.5zM272.8 266.7h1.5v1.5h-1.5zM273.3 267.0h1.5v1.5h-1.5zM273.7 267.0h1.5v1.5h-1.5zM274.2 266.9h1.5v1.5h-1.5zM274.6 266.5h1.5v1.5h-1.5zM275.1 266.0h1.5v1.5h-1.5zM275.5 265.4h1.5v1.5h-1.5zM276.0 264.8h1.5v1.5h-1.5zM276.4 264.3h1.5v1.5h-1.5zM276.9 263.8h1.5v1.5h-1.5zM277.3 263.3h1.5v1.5h-1.5zM277.8 262.8h1.5v1.5h-1.5zM278.2 262.3h1.5v1.5h-1.5zM278.7 261.8h1.5v1.5h-1.5zM279.1 261.2h1.5v1.5h-1.5zM279.6 260.5h1.5v1.5h-1.5zM280.0 259.8h1.5v1.5h-1.5zM280.5 259.0h1.5v1.5h-1.5zM280.9 258.1h1.5v1.5h-1.5zM281.4 257.1h1.5v1.5h-1.5zM281.8 256.2h1.5v1.5h-1.5zM282.3 255.2h1.5v1.5h-1.5zM282.7 254.3h1.5v1.5h-1.5zM283.2 253.3h1.5v1.5h-1.5zM283.6 252.3h1.5v1.5h-1.5zM284.1 251.2h1.5v1.5h-1.5zM284.5 250.2h1.5v1.5h-1.5zM285.0 249.4h1.5v1.5h-1.5zM285.4 248.8h1.5v1.5h-1.5zM285.9 248.4h1.5v1.5h-1.5zM286.3 248.0h1.5v1.5h-1.5zM286.8 247.6h1.5v1.5h-1.5zM287.2 247.4h1.5v1.5h-1.5zM287.7 247.1h1.5v1.5h-1.5zM288.1 246.9h1.5v1.5h-1.5zM288.6 246.7h1.5v1.5h-1.5zM289.0 246.6h1.5v1.5h-1.5zM289.5 246.5h1.5v1.5h-1.5zM289.9 246.4h1.5v1.5h-1.5zM290.4 246.3h1.5v1.5h-1.5zM290.8 246.3h1.5v1.5h-1.5zM291.3 246.2h1.5v1.5h-1.5zM291.7 246.1h1.5v1.5h-1.5zM292.2 246.0h1.5v1.5h-1.5zM292.6 245.8h1.5v1.5h-1.5zM293.1 245.5h1.5v1.5h-1.5zM293.5 245.2h1.5v1.5h-1.5zM294.0 244.9h1.5v1.5h-1.5zM294.4 244.6h1.5v1.5h-1.5zM294.9 244.5h1.5v1.5h-1.5zM295.3 244.5h1.5v1.5h-1.5zM295.8 244.7h1.5v1.5h-1.5zM296.2 245.1h1.5v1.5h-1.5zM296.7 245.7h1.5v1.5h-1.5zM297.1 246.3h1.5v1.5h-1.5zM297.6 246.8h1.5v1.5h-1.5zM298.0 247.3h1.5v1.5h-1.5zM298.5 247.8h1.5v1.5h-1.5zM298.9 247.9h1.5v1.5h-1.5zM299.4 247.4h1.5v1.5h-1.5zM299.8 246.6h1.5v1.5h-1.5zM300.3 245.7h1.5v1.5h-1.5zM300.7 244.9h1.5v1.5h-1.5zM301.2 244.5h1.5v1.5h-1.5zM301.6 244.5h1.5v1.5h-1.5zM302.1 244.6h1.5v1.5h-1.5zM302.5 244.9h1.5v1.5h-1.5zM303.0 245.3h1.5v1.5h-1.5zM303.4 245.7h1.5v1.5h-1.5zM303.9 246.2h1.5v1.5h-1.5zM304.3 246.9h1.5v1.5h-1.5zM304.8 248.1h1.5v1.5h-1.5zM305.2 249.6h1.5v1.5h-1.5zM305.7 251.4h1.5v1.5h-1.5zM306.1 253.5h1.5v1.5h-1.5zM306.6 256.2h1.5v1.5h-1.5zM307.0 259.2h1.5v1.5h-1.5zM307.5 262.4h1.5v1.5h-1.5zM307.9 265.9h1.5v1.5h-1.5zM308.4 269.9h1.5v1.5h-1.5zM308.8 274.0h1.5v1.5h-1.5zM309.3 278.2h1.5v1.5h-1.5zM309.7 282.2h1.5v1.5h-1.5zM310.2 285.8h1.5v1.5h-1.5zM310.6 289.4h1.5v1.5h-1.5zM311.1 292.8h1.5v1.5h-1.5zM311.5 296.1h1.5v1.5h-1.5zM312.0 299.3h1.5v1.5h-1.5zM312.4 302.3h1.5v1.5h-1.5zM312.9 305.6h1.5v1.5h-1.5zM313.3 309.1h1.5v1.5h-1.5zM313.8 312.2h1.5v1.5h-1.5zM314.2 314.6h1.5v1.5h-1.5zM314.7 315.7h1.5v1.5h-1.5zM315.1 315.2h1.5v1.5h-1.5zM315.6 313.1h1.5v1.5h-1.5zM316.0 309.9h1.5v1.5h-1.5zM316.5 306.0h1.5v1.5h-1.5zM316.9 302.1h1.5v1.5h-1.5zM317.4 298.5h1.5v1.5h-1.5zM317.8 294.6h1.5v1.5h-1.5zM318.3 290.4h1.5v1.5h-1.5zM318.7 286.1h1.5v1.5h-1.5zM319.2 282.0h1.5v1.5h-1.5zM319.6 278.3h1.5v1.5h-1.5zM320.1 275.1h1.5v1.5h-1.5zM320.5 271.9h1.5v1.5h-1.5zM321.0 268.7h1.5v1.5h-1.5zM321.4 265.8h1.5v1.5h-1.5zM321.9 263.2h1.5v1.5h-1.5zM322.3 261.3h1.5v1.5h-1.5zM322.8 260.1h1.5v1.5h-1.5zM323.2 259.6h1.5v1.5h-1.5zM323.7 259.1h1.5v1.5h-1.5zM324.1 258.7h1.5v1.5h-1.5zM324.6 258.5h1.5v1.5h-1.5zM325.0 258.3h1.5v1.5h-1.5zM325.5 258.3h1.5v1.5h-1.5zM325.9 258.4h1.5v1.5h-1.5zM326.4 258.8h1.5v1.5h-1.5zM326.8 259.2h1.5v1.5h-1.5zM327.3 259.6h1.5v1.5h-1.5zM327.7 259.9h1.5v1.5h-1.5zM328.2 259.9h1.5v1.5h-1.5zM328.6 259.5h1.5v1.5h-1.5zM329.1 258.9h1.5v1.5h-1.5zM329.5 258.3h1.5v1.5h-1.5zM330.0 257.7h1.5v1.5h-1.5zM330.4 257.4h1.5v1.5h-1.5zM330.9 257.4h1.5v1.5h-1.5zM331.3 257.9h1.5v1.5h-1.5zM331.8 258.5h1.5v1.5h-1.5zM332.2 259.3h1.5v1.5h-1.5zM332.7 260.1h1.5v1.5h-1.5zM333.1 260.8h1.5v1.5h-1.5zM333.6 261.4h1.5v1.5h-1.5zM334.0 262.2h1.5v1.5h-1.5zM334.5 263.0h1.5v1.5h-1.5zM334.9 263.6h1.5v1.5h-1.5zM335.4 264.1h1.5v1.5h-1.5zM335.8 264.2h1.5v1.5h-1.5zM336.3 264.1h1.5v1.5h-1.5zM336.7 263.8h1.5v1.5h-1.5zM337.2 263.4h1.5v1.5h-1.5zM337.6 262.8h1.5v1.5h-1.5zM338.1 262.1h1.5v1.5h-1.5zM338.5 261.3h1.5v1.5h-1.5zM339.0 259.7h1.5v1.5h-1.5zM339.4 257.4h1.5v1.5h-1.5zM339.9 255.0h1.5v1.5h-1.5zM340.3 252.9h1.5v1.5h-1.5zM340.8 251.5h1.5v1.5h-1.5zM341.2 251.0h1.5v1.5h-1.5zM341.7 250.5h1.5v1.5h-1.5zM342.1 250.2h1.5v1.5h-1.5zM342.6 249.9h1.5v1.5h-1.5zM343.0 249.7h1.5v1.5h-1.5zM343.5 249.7h1.5v1.5h-1.5zM343.9 250.7h1.5v1.5h-1.5zM344.4 253.6h1.5v1.5h-1.5zM344.8 257.4h1.5v1.5h-1.5zM345.3 261.7h1.5v1.5h-1.5zM345.7 266.7h1.5v1.5h-1.5zM346.2 273.3h1.5v1.5h-1.5zM346.6 281.0h1.5v1.5h-1.5zM347.1 289.4h1.5v1.5h-1.5zM347.5 299.3h1.5v1.5h-1.5zM348.0 310.8h1.5v1.5h-1.5zM348.4 344.6h1.5v1.5h-1.5zM348.9 362.1h1.5v1.5h-1.5zM349.3 380.3h1.5v1.5h-1.5zM349.8 398.4h1.5v1.5h-1.5zM350.2 415.8h1.5v1.5h-1.5zM350.7 431.5h1.5v1.5h-1.5zM351.1 449.3h1.5v1.5h-1.5zM351.6 467.0h1.5v1.5h-1.5zM352.0 478.4h1.5v1.5h-1.5zM352.5 477.4h1.5v1.5h-1.5zM352.9 474.5h1.5v1.5h-1.5zM353.4 479.7h1.5v1.5h-1.5zM353.8 470.8h1.5v1.5h-1.5zM354.3 452.8h1.5v1.5h-1.5zM354.7 433.5h1.5v1.5h-1.5zM355.2 417.1h1.5v1.5h-1.5zM355.6 399.5h1.5v1.5h-1.5zM356.1 381.2h1.5v1.5h-1.5zM356.5 362.9h1.5v1.5h-1.5zM357.0 345.2h1.5v1.5h-1.5zM357.4 328.9h1.5v1.5h-1.5zM357.9 314.6h1.5v1.5h-1.5zM358.3 302.9h1.5v1.5h-1.5zM358.8 292.9h1.5v1.5h-1.5zM359.2 277.1h1.5v1.5h-1.5zM359.7 270.0h1.5v1.5h-1.5zM360.1 263.4h1.5v1.5h-1.5zM360.6 256.6h1.5v1.5h-1.5zM361.0 249.4h1.5v1.5h-1.5zM361.5 244.8h1.5v1.5h-1.5zM361.9 243.8h1.5v1.5h-1.5zM362.4 243.2h1.5v1.5h-1.5zM362.8 242.9h1.5v1.5h-1.5zM363.3 242.8h1.5v1.5h-1.5zM363.7 242.9h1.5v1.5h-1.5zM364.2 243.3h1.5v1.5h-1.5zM364.6 244.0h1.5v1.5h-1.5zM365.1 244.7h1.5v1.5h-1.5zM365.5 245.5h1.5v1.5h-1.5zM366.0 246.3h1.5v1.5h-1.5zM366.4 247.4h1.5v1.5h-1.5zM366.9 248.8h1.5v1.5h-1.5zM367.3 250.2h1.5v1.5h-1.5zM367.8 251.6h1.5v1.5h-1.5zM368.2 252.7h1.5v1.5h-1.5zM368.7 253.3h1.5v1.5h-1.5zM369.1 253.8h1.5v1.5h-1.5zM369.6 253.9h1.5v1.5h-1.5zM370.0 253.7h1.5v1.5h-1.5zM370.5 253.1h1.5v1.5h-1.5zM370.9 252.3h1.5v1.5h-1.5zM371.4 251.3h1.5v1.5h-1.5zM371.8 250.3h1.5v1.5h-1.5zM372.3 249.2h1.5v1.5h-1.5zM372.7 248.2h1.5v1.5h-1.5zM373.2 247.4h1.5v1.5h-1.5zM373.6 246.4h1.5v1.5h-1.5zM374.1 245.4h1.5v1.5h-1.5zM374.5 244.4h1.5v1.5h-1.5zM375.0 243.4h1.5v1.5h-1.5zM375.4 242.5h1.5v1.5h-1.5zM375.9 241.7h1.5v1.5h-1.5zM376.3 241.0h1.5v1.5h-1.5zM376.8 240.4h1.5v1.5h-1.5zM377.2 239.7h1.5v1.5h-1.5zM377.7 239.1h1.5v1.5h-1.5zM378.1 238.6h1.5v1.5h-1.5zM378.6 238.1h1.5v1.5h-1.5zM379.0 237.8h1.5v1.5h-1.5zM379.5 237.6h1.5v1.5h-1.5zM379.9 237.6h1.5v1.5h-1.5zM380.4 237.7h1.5v1.5h-1.5zM380.8 238.0h1.5v1.5h-1.5zM381.3 238.5h1.5v1.5h-1.5zM381.7 239.0h1.5v1.5h-1.5zM382.2 239.6h1.5v1.5h-1.5zM382.6 240.3h1.5v1.5h-1.5zM383.1 240.9h1.5v1.5h-1.5zM383.5 241.6h1.5v1.5h-1.5zM384.0 242.3h1.5v1.5h-1.5zM384.4 243.2h1.5v1.5h-1.5zM384.9 244.1h1.5v1.5h-1.5zM385.3 245.1h1.5v1.5h-1.5zM385.8 246.1h1.5v1.5h-1.5zM386.2 247.0h1.5v1.5h-1.5zM386.7 248.0h1.5v1.5h-1.5zM387.1 248.9h1.5v1.5h-1.5zM387.6 249.8h1.5v1.5h-1.5zM388.0 250.8h1.5v1.5h-1.5zM388.5 251.8h1.5v1.5h-1.5zM388.9 252.7h1.5v1.5h-1.5zM389.4 253.6h1.5v1.5h-1.5zM389.8 254.4h1.5v1.5h-1.5zM390.3 255.1h1.5v1.5h-1.5zM390.7 255.8h1.5v1.5h-1.5zM391.2 256.5h1.5v1.5h-1.5zM391.6 257.3h1.5v1.5h-1.5zM392.1 257.9h1.5v1.5h-1.5zM392.5 258.5h1.5v1.5h-1.5zM393.0 258.8h1.5v1.5h-1.5zM393.4 259.0h1.5v1.5h-1.5zM393.9 258.9h1.5v1.5h-1.5zM394.3 258.4h1.5v1.5h-1.5zM394.8 257.6h1.5v1.5h-1.5zM395.2 256.6h1.5v1.5h-1.5zM395.7 255.6h1.5v1.5h-1.5zM396.1 254.6h1.5v1.5h-1.5zM396.6 253.6h1.5v1.5h-1.5zM397.0 252.4h1.5v1.5h-1.5zM397.5 251.1h1.5v1.5h-1.5zM397.9 249.7h1.5v1.5h-1.5zM398.4 248.5h1.5v1.5h-1.5zM398.8 247.4h1.5v1.5h-1.5zM399.3 246.5h1.5v1.5h-1.5zM399.7 246.0h1.5v1.5h-1.5zM400.2 245.6h1.5v1.5h-1.5zM400.6 245.2h1.5v1.5h-1.5zM401.1 244.8h1.5v1.5h-1.5zM401.5 244.6h1.5v1.5h-1.5zM402.0 244.5h1.5v1.5h-1.5zM402.4 244.6h1.5v1.5h-1.5zM402.9 245.6h1.5v1.5h-1.5zM403.3 247.1h1.5v1.5h-1.5zM403.8 248.7h1.5v1.5h-1.5zM404.2 249.9h1.5v1.5h-1.5zM404.7 250.4h1.5v1.5h-1.5zM405.1 250.3h1.5v1.5h-1.5zM405.6 249.8h1.5v1.5h-1.5zM406.0 249.0h1.5v1.5h-1.5zM406.5 248.1h1.5v1.5h-1.5zM406.9 247.1h1.5v1.5h-1.5zM407.4 246.1h1.5v1.5h-1.5zM407.8 245.1h1.5v1.5h-1.5zM408.3 244.3h1.5v1.5h-1.5zM408.7 243.5h1.5v1.5h-1.5zM409.2 242.6h1.5v1.5h-1.5zM409.6 241.7h1.5v1.5h-1.5zM410.1 240.9h1.5v1.5h-1.5zM410.5 240.1h1.5v1.5h-1.5zM411.0 239.3h1.5v1.5h-1.5zM411.4 238.6h1.5v1.5h-1.5zM411.9 238.1h1.5v1.5h-1.5zM412.3 237.4h1.5v1.5h-1.5zM412.8 236.9h1.5v1.5h-1.5zM413.2 236.4h1.5v1.5h-1.5zM413.7 236.0h1.5v1.5h-1.5zM414.1 235.9h1.5v1.5h-1.5zM414.6 236.0h1.5v1.5h-1.5zM415.0 236.3h1.5v1.5h-1.5zM415.5 236.9h1.5v1.5h-1.5zM415.9 237.6h1.5v1.5h-1.5zM416.4 238.5h1.5v1.5h-1.5zM416.8 239.4h1.5v1.5h-1.5zM417.3 240.5h1.5v1.5h-1.5zM417.7 242.0h1.5v1.5h-1.5zM418.2 243.8h1.5v1.5h-1.5zM418.6 245.8h1.5v1.5h-1.5zM419.1 248.1h1.5v1.5h-1.5zM419.5 250.5h1.5v1.5h-1.5zM420.0 253.4h1.5v1.5h-1.5zM420.4 256.7h1.5v1.5h-1.5zM420.9 260.5h1.5v1.5h-1.5zM421.3 264.4h1.5v1.5h-1.5zM421.8 268.5h1.5v1.5h-1.5zM422.2 278.0h1.5v1.5h-1.5zM422.7 282.2h1.5v1.5h-1.5zM423.1 286.7h1.5v1.5h-1.5zM423.6 291.7h1.5v1.5h-1.5zM424.0 297.2h1.5v1.5h-1.5zM424.5 303.2h1.5v1.5h-1.5zM424.9 309.5h1.5v1.5h-1.5zM425.4 317.8h1.5v1.5h-1.5zM425.8 329.9h1.5v1.5h-1.5zM426.3 368.8h1.5v1.5h-1.5zM426.7 419.7h1.5v1.5h-1.5zM427.2 439.5h1.5v1.5h-1.5zM427.6 452.1h1.5v1.5h-1.5zM428.1 463.2h1.5v1.5h-1.5zM428.5 472.9h1.5v1.5h-1.5zM429.0 481.1h1.5v1.5h-1.5zM429.4 487.8h1.5v1.5h-1.5zM429.9 493.1h1.5v1.5h-1.5zM430.3 496.8h1.5v1.5h-1.5zM430.8 499.1h1.5v1.5h-1.5zM431.2 499.9h1.5v1.5h-1.5zM431.7 499.3h1.5v1.5h-1.5zM432.1 499.7h1.5v1.5h-1.5zM432.6 499.7h1.5v1.5h-1.5zM433.0 498.5h1.5v1.5h-1.5zM433.5 496.4h1.5v1.5h-1.5zM433.9 493.3h1.5v1.5h-1.5zM434.4 489.2h1.5v1.5h-1.5zM434.8 484.4h1.5v1.5h-1.5zM435.3 478.7h1.5v1.5h-1.5zM435.7 472.3h1.5v1.5h-1.5zM436.2 465.1h1.5v1.5h-1.5zM436.6 457.4h1.5v1.5h-1.5zM437.1 449.1h1.5v1.5h-1.5zM437.5 440.2h1.5v1.5h-1.5zM438.0 430.9h1.5v1.5h-1.5zM438.4 417.7h1.5v1.5h-1.5zM438.9 397.1h1.5v1.5h-1.5zM439.3 372.2h1.5v1.5h-1.5zM439.8 346.0h1.5v1.5h-1.5zM440.2 321.6h1.5v1.5h-1.5zM440.7 301.4h1.5v1.5h-1.5zM441.1 269.1h1.5v1.5h-1.5zM441.6 266.5h1.5v1.5h-1.5zM442.0 264.8h1.5v1.5h-1.5zM442.5 263.7h1.5v1.5h-1.5zM442.9 263.0h1.5v1.5h-1.5zM443.4 262.3h1.5v1.5h-1.5zM443.8 261.7h1.5v1.5h-1.5zM444.3 261.3h1.5v1.5h-1.5zM444.7 261.0h1.5v1.5h-1.5zM445.2 260.9h1.5v1.5h-1.5zM445.6 260.9h1.5v1.5h-1.5zM446.1 261.2h1.5v1.5h-1.5zM446.5 261.7h1.5v1.5h-1.5zM447.0 262.3h1.5v1.5h-1.5zM447.4 262.8h1.5v1.5h-1.5zM447.9 263.4h1.5v1.5h-1.5zM448.3 263.8h1.5v1.5h-1.5zM448.8 264.1h1.5v1.5h-1.5zM449.2 264.5h1.5v1.5h-1.5zM449.7 265.0h1.5v1.5h-1.5zM450.1 265.5h1.5v1.5h-1.5zM450.6 266.1h1.5v1.5h-1.5zM451.0 267.0h1.5v1.5h-1.5zM451.5 268.3h1.5v1.5h-1.5zM451.9 269.7h1.5v1.5h-1.5zM452.4 271.3h1.5v1.5h-1.5zM452.8 272.9h1.5v1.5h-1.5zM453.3 274.5h1.5v1.5h-1.5zM453.7 276.6h1.5v1.5h-1.5zM454.2 278.7h1.5v1.5h-1.5zM454.6 280.3h1.5v1.5h-1.5zM455.1 281.1h1.5v1.5h-1.5zM455.5 281.8h1.5v1.5h-1.5zM456.0 282.4h1.5v1.5h-1.5zM456.4 282.8h1.5v1.5h-1.5zM456.9 283.1h1.5v1.5h-1.5zM457.3 283.2h1.5v1.5h-1.5zM457.8 283.1h1.5v1.5h-1.5zM458.2 282.6h1.5v1.5h-1.5zM458.7 281.9h1.5v1.5h-1.5zM459.1 281.3h1.5v1.5h-1.5zM459.6 280.8h1.5v1.5h-1.5zM460.0 280.7h1.5v1.5h-1.5zM460.5 280.8h1.5v1.5h-1.5zM460.9 281.2h1.5v1.5h-1.5zM461.4 281.7h1.5v1.5h-1.5zM461.8 282.1h1.5v1.5h-1.5zM462.3 282.3h1.5v1.5h-1.5zM462.7 282.2h1.5v1.5h-1.5zM463.2 281.5h1.5v1.5h-1.5zM463.6 280.2h1.5v1.5h-1.5zM464.1 278.7h1.5v1.5h-1.5zM464.5 277.1h1.5v1.5h-1.5zM465.0 275.7h1.5v1.5h-1.5zM465.4 274.5h1.5v1.5h-1.5zM465.9 273.3h1.5v1.5h-1.5zM466.3 272.0h1.5v1.5h-1.5zM466.8 270.8h1.5v1.5h-1.5zM467.2 269.6h1.5v1.5h-1.5zM467.7 268.5h1.5v1.5h-1.5zM468.1 267.6h1.5v1.5h-1.5zM468.6 266.8h1.5v1.5h-1.5zM469.0 266.2h1.5v1.5h-1.5zM469.5 265.7h1.5v1.5h-1.5zM469.9 265.2h1.5v1.5h-1.5zM470.4 264.8h1.5v1.5h-1.5zM470.8 264.4h1.5v1.5h-1.5zM471.3 264.0h1.5v1.5h-1.5zM471.7 263.6h1.5v1.5h-1.5zM472.2 263.1h1.5v1.5h-1.5zM472.6 262.6h1.5v1.5h-1.5zM473.1 262.0h1.5v1.5h-1.5zM473.5 261.4h1.5v1.5h-1.5zM474.0 260.9h1.5v1.5h-1.5zM474.4 260.4h1.5v1.5h-1.5zM474.9 260.1h1.5v1.5h-1.5zM475.3 260.0h1.5v1.5h-1.5zM475.8 260.1h1.5v1.5h-1.5zM476.2 260.5h1.5v1.5h-1.5zM476.7 261.2h1.5v1.5h-1.5zM477.1 262.0h1.5v1.5h-1.5zM477.6 262.7h1.5v1.5h-1.5zM478.0 263.4h1.5v1.5h-1.5zM478.5 264.1h1.5v1.5h-1.5zM478.9 265.0h1.5v1.5h-1.5zM479.4 265.9h1.5v1.5h-1.5zM479.8 266.7h1.5v1.5h-1.5zM480.3 267.5h1.5v1.5h-1.5zM480.7 268.1h1.5v1.5h-1.5zM481.2 268.5h1.5v1.5h-1.5zM481.6 268.5h1.5v1.5h-1.5zM482.1 268.4h1.5v1.5h-1.5zM482.5 268.2h1.5v1.5h-1.5zM483.0 267.8h1.5v1.5h-1.5zM483.4 267.5h1.5v1.5h-1.5zM483.9 267.2h1.5v1.5h-1.5zM484.3 267.0h1.5v1.5h-1.5zM484.8 266.9h1.5v1.5h-1.5zM485.2 267.1h1.5v1.5h-1.5zM485.7 267.9h1.5v1.5h-1.5zM486.1 269.1h1.5v1.5h-1.5zM486.6 270.6h1.5v1.5h-1.5zM487.0 272.2h1.5v1.5h-1.5zM487.5 273.8h1.5v1.5h-1.5zM487.9 275.5h1.5v1.5h-1.5zM488.4 277.7h1.5v1.5h-1.5zM488.8 280.1h1.5v1.5h-1.5zM489.3 282.5h1.5v1.5h-1.5zM489.7 284.6h1.5v1.5h-1.5zM490.2 286.3h1.5v1.5h-1.5zM490.6 287.3h1.5v1.5h-1.5zM491.1 287.4h1.5v1.5h-1.5zM491.5 286.7h1.5v1.5h-1.5zM492.0 285.4h1.5v1.5h-1.5zM492.4 283.9h1.5v1.5h-1.5zM492.9 282.2h1.5v1.5h-1.5zM493.3 280.7h1.5v1.5h-1.5zM493.8 279.5h1.5v1.5h-1.5zM494.2 278.9h1.5v1.5h-1.5zM494.7 278.9h1.5v1.5h-1.5zM495.1 279.3h1.5v1.5h-1.5zM495.6 279.9h1.5v1.5h-1.5zM496.0 280.5h1.5v1.5h-1.5zM496.5 281.2h1.5v1.5h-1.5zM496.9 281.8h1.5v1.5h-1.5zM497.4 282.2h1.5v1.5h-1.5zM497.8 282.3h1.5v1.5h-1.5zM498.3 282.2h1.5v1.5h-1.5zM498.7 281.8h1.5v1.5h-1.5zM499.2 281.3h1.5v1.5h-1.5zM499.6 280.8h1.5v1.5h-1.5zM500.1 280.1h1.5v1.5h-1.5zM500.5 279.6h1.5v1.5h-1.5zM501.0 279.1h1.5v1.5h-1.5zM501.4 278.8h1.5v1.5h-1.5zM501.9 278.5h1.5v1.5h-1.5zM502.3 278.3h1.5v1.5h-1.5zM502.8 278.1h1.5v1.5h-1.5zM503.2 278.0h1.5v1.5h-1.5zM503.7 277.8h1.5v1.5h-1.5zM504.1 277.5h1.5v1.5h-1.5zM504.6 277.2h1.5v1.5h-1.5zM505.0 276.8h1.5v1.5h-1.5zM505.5 276.0h1.5v1.5h-1.5zM505.9 275.0h1.5v1.5h-1.5zM506.4 273.8h1.5v1.5h-1.5zM506.8 272.4h1.5v1.5h-1.5zM507.3 271.0h1.5v1.5h-1.5zM507.7 269.6h1.5v1.5h-1.5zM508.2 268.2h1.5v1.5h-1.5zM508.6 266.4h1.5v1.5h-1.5zM509.1 264.3h1.5v1.5h-1.5zM509.5 262.1h1.5v1.5h-1.5zM510.0 260.3h1.5v1.5h-1.5zM510.4 259.2h1.5v1.5h-1.5zM510.9 259.1h1.5v1.5h-1.5zM511.3 259.2h1.5v1.5h-1.5zM511.8 259.6h1.5v1.5h-1.5zM512.2 260.1h1.5v1.5h-1.5zM512.7 260.7h1.5v1.5h-1.5zM513.1 261.4h1.5v1.5h-1.5zM513.6 262.7h1.5v1.5h-1.5zM514.0 265.8h1.5v1.5h-1.5zM514.5 269.9h1.5v1.5h-1.5zM514.9 274.0h1.5v1.5h-1.5zM515.4 277.3h1.5v1.5h-1.5zM515.8 278.8h1.5v1.5h-1.5zM516.3 277.7h1.5v1.5h-1.5zM516.7 274.4h1.5v1.5h-1.5zM517.2 270.4h1.5v1.5h-1.5zM517.6 267.1h1.5v1.5h-1.5zM518.1 265.0h1.5v1.5h-1.5zM518.5 263.1h1.5v1.5h-1.5zM519.0 261.5h1.5v1.5h-1.5zM519.4 259.9h1.5v1.5h-1.5zM519.9 258.5h1.5v1.5h-1.5zM520.3 257.2h1.5v1.5h-1.5zM520.8 255.8h1.5v1.5h-1.5zM521.2 254.4h1.5v1.5h-1.5zM521.7 253.2h1.5v1.5h-1.5zM522.1 252.1h1.5v1.5h-1.5zM522.6 251.5h1.5v1.5h-1.5zM523.0 251.4h1.5v1.5h-1.5zM523.5 251.6h1.5v1.5h-1.5zM523.9 252.1h1.5v1.5h-1.5zM524.4 252.9h1.5v1.5h-1.5zM524.8 254.1h1.5v1.5h-1.5zM525.3 257.4h1.5v1.5h-1.5zM525.7 262.2h1.5v1.5h-1.5zM526.2 267.9h1.5v1.5h-1.5zM526.6 286.7h1.5v1.5h-1.5zM527.1 300.9h1.5v1.5h-1.5zM527.5 316.1h1.5v1.5h-1.5zM528.0 332.0h1.5v1.5h-1.5zM528.4 348.6h1.5v1.5h-1.5zM528.9 365.7h1.5v1.5h-1.5zM529.3 384.8h1.5v1.5h-1.5zM529.8 404.5h1.5v1.5h-1.5zM530.2 422.7h1.5v1.5h-1.5zM530.7 438.5h1.5v1.5h-1.5zM531.1 454.9h1.5v1.5h-1.5zM531.6 471.4h1.5v1.5h-1.5zM532.0 487.0h1.5v1.5h-1.5zM532.5 500.8h1.5v1.5h-1.5zM532.9 511.5h1.5v1.5h-1.5zM533.4 518.1h1.5v1.5h-1.5zM533.8 519.8h1.5v1.5h-1.5zM534.3 517.9h1.5v1.5h-1.5zM534.7 519.7h1.5v1.5h-1.5zM535.2 519.1h1.5v1.5h-1.5zM535.6 515.8h1.5v1.5h-1.5zM536.1 510.4h1.5v1.5h-1.5zM536.5 503.0h1.5v1.5h-1.5zM537.0 493.9h1.5v1.5h-1.5zM537.4 483.5h1.5v1.5h-1.5zM537.9 471.8h1.5v1.5h-1.5zM538.3 459.4h1.5v1.5h-1.5zM538.8 446.3h1.5v1.5h-1.5zM539.2 432.8h1.5v1.5h-1.5zM539.7 417.3h1.5v1.5h-1.5zM540.1 396.7h1.5v1.5h-1.5zM540.6 373.2h1.5v1.5h-1.5zM541.0 348.0h1.5v1.5h-1.5zM541.5 317.8h1.5v1.5h-1.5zM541.9 296.4h1.5v1.5h-1.5zM542.4 288.8h1.5v1.5h-1.5zM542.8 287.3h1.5v1.5h-1.5zM543.3 286.3h1.5v1.5h-1.5zM543.7 285.5h1.5v1.5h-1.5zM544.2 284.9h1.5v1.5h-1.5zM544.6 284.4h1.5v1.5h-1.5zM545.1 284.1h1.5v1.5h-1.5zM545.5 284.4h1.5v1.5h-1.5zM546.0 286.2h1.5v1.5h-1.5zM546.4 289.2h1.5v1.5h-1.5zM546.9 292.7h1.5v1.5h-1.5zM547.3 305.8h1.5v1.5h-1.5zM547.8 314.2h1.5v1.5h-1.5zM548.2 322.0h1.5v1.5h-1.5zM548.7 329.1h1.5v1.5h-1.5zM549.1 335.9h1.5v1.5h-1.5zM549.6 343.0h1.5v1.5h-1.5zM550.0 350.3h1.5v1.5h-1.5zM550.5 357.6h1.5v1.5h-1.5zM550.9 364.8h1.5v1.5h-1.5zM551.4 371.8h1.5v1.5h-1.5zM551.8 378.4h1.5v1.5h-1.5zM552.3 384.6h1.5v1.5h-1.5zM552.7 390.3h1.5v1.5h-1.5zM553.2 395.2h1.5v1.5h-1.5zM553.6 399.2h1.5v1.5h-1.5zM554.1 402.3h1.5v1.5h-1.5zM554.5 404.3h1.5v1.5h-1.5zM555.0 405.1h1.5v1.5h-1.5zM555.4 403.9h1.5v1.5h-1.5zM555.9 404.9h1.5v1.5h-1.5zM556.3 404.8h1.5v1.5h-1.5zM556.8 401.9h1.5v1.5h-1.5zM557.2 396.4h1.5v1.5h-1.5zM557.7 388.8h1.5v1.5h-1.5zM558.1 379.7h1.5v1.5h-1.5zM558.6 369.5h1.5v1.5h-1.5zM559.0 358.8h1.5v1.5h-1.5zM559.5 348.2h1.5v1.5h-1.5zM559.9 338.0h1.5v1.5h-1.5zM560.4 328.9h1.5v1.5h-1.5zM560.8 320.1h1.5v1.5h-1.5zM561.3 311.1h1.5v1.5h-1.5zM561.7 301.9h1.5v1.5h-1.5zM562.2 292.2h1.5v1.5h-1.5zM562.6 261.2h1.5v1.5h-1.5zM563.1 260.2h1.5v1.5h-1.5zM563.5 259.4h1.5v1.5h-1.5zM564.0 258.8h1.5v1.5h-1.5zM564.4 258.4h1.5v1.5h-1.5zM564.9 258.3h1.5v1.5h-1.5zM565.3 258.5h1.5v1.5h-1.5zM565.8 259.8h1.5v1.5h-1.5zM566.2 261.8h1.5v1.5h-1.5zM566.7 264.0h1.5v1.5h-1.5zM567.1 265.9h1.5v1.5h-1.5zM567.6 266.8h1.5v1.5h-1.5zM568.0 266.3h1.5v1.5h-1.5zM568.5 264.3h1.5v1.5h-1.5zM568.9 261.5h1.5v1.5h-1.5zM569.4 258.4h1.5v1.5h-1.5zM569.8 255.9h1.5v1.5h-1.5zM570.3 254.5h1.5v1.5h-1.5zM570.7 253.6h1.5v1.5h-1.5zM571.2 252.9h1.5v1.5h-1.5zM571.6 252.4h1.5v1.5h-1.5zM572.1 257.4h1.5v1.5h-1.5zM572.5 264.1h1.5v1.5h-1.5zM573.0 271.7h1.5v1.5h-1.5zM573.4 282.6h1.5v1.5h-1.5zM573.9 295.7h1.5v1.5h-1.5zM574.3 307.8h1.5v1.5h-1.5zM574.8 319.8h1.5v1.5h-1.5zM575.2 331.8h1.5v1.5h-1.5zM575.7 344.1h1.5v1.5h-1.5zM576.1 356.9h1.5v1.5h-1.5zM576.6 370.4h1.5v1.5h-1.5zM577.0 384.6h1.5v1.5h-1.5zM577.5 399.3h1.5v1.5h-1.5zM577.9 413.9h1.5v1.5h-1.5zM578.4 428.3h1.5v1.5h-1.5zM578.8 444.0h1.5v1.5h-1.5zM579.3 462.0h1.5v1.5h-1.5zM579.7 479.3h1.5v1.5h-1.5zM580.2 492.9h1.5v1.5h-1.5zM580.6 499.6h1.5v1.5h-1.5zM581.1 497.2h1.5v1.5h-1.5zM581.5 497.6h1.5v1.5h-1.5zM582.0 499.4h1.5v1.5h-1.5zM582.4 492.6h1.5v1.5h-1.5zM582.9 479.8h1.5v1.5h-1.5zM583.3 463.5h1.5v1.5h-1.5zM583.8 446.0h1.5v1.5h-1.5zM584.2 429.8h1.5v1.5h-1.5zM584.7 414.6h1.5v1.5h-1.5zM585.1 398.4h1.5v1.5h-1.5zM585.6 381.5h1.5v1.5h-1.5zM586.0 363.8h1.5v1.5h-1.5zM586.5 344.4h1.5v1.5h-1.5zM586.9 323.4h1.5v1.5h-1.5zM587.4 306.3h1.5v1.5h-1.5zM587.8 292.8h1.5v1.5h-1.5zM588.3 281.2h1.5v1.5h-1.5zM588.7 272.3h1.5v1.5h-1.5zM589.2 266.1h1.5v1.5h-1.5zM589.6 260.6h1.5v1.5h-1.5zM590.1 255.7h1.5v1.5h-1.5zM590.5 251.8h1.5v1.5h-1.5zM591.0 248.7h1.5v1.5h-1.5zM591.4 256.7h1.5v1.5h-1.5zM591.9 254.9h1.5v1.5h-1.5zM592.3 253.4h1.5v1.5h-1.5zM592.8 253.3h1.5v1.5h-1.5zM593.2 254.7h1.5v1.5h-1.5zM593.7 256.5h1.5v1.5h-1.5zM594.1 248.7h1.5v1.5h-1.5zM594.6 252.3h1.5v1.5h-1.5zM595.0 256.8h1.5v1.5h-1.5zM595.5 261.7h1.5v1.5h-1.5zM595.9 267.1h1.5v1.5h-1.5zM596.4 273.7h1.5v1.5h-1.5zM596.8 281.0h1.5v1.5h-1.5zM597.3 289.0h1.5v1.5h-1.5zM597.7 297.8h1.5v1.5h-1.5zM598.2 307.6h1.5v1.5h-1.5zM598.6 318.4h1.5v1.5h-1.5zM599.1 329.8h1.5v1.5h-1.5z" fill="#000" stroke="none"/></g><rect x="59.0" y="2.35" width="539.4" height="200.65" fill="none" stroke="#000" stroke-width="1.5"/><rect x="59.0" y="227.15" width="539.4" height="205.65" fill="none" stroke="#000" stroke-width="1.5"/><path d="M112.7 203.0v-3M112.7 2.35v2M166.6 203.0v-6M166.6 2.35v4M220.5 203.0v-3M220.5 2.35v2M274.5 203.0v-3M274.5 2.35v2M328.4 203.0v-3M328.4 2.35v2M382.4 203.0v-3M382.4 2.35v2M436.3 203.0v-6M436.3 2.35v4M490.2 203.0v-3M490.2 2.35v2M544.2 203.0v-3M544.2 2.35v2M112.7 432.8v-3M112.7 227.15v2M166.6 432.8v-3M166.6 227.15v2M220.5 432.8v-6M220.5 227.15v4M274.5 432.8v-3M274.5 227.15v2M328.4 432.8v-3M328.4 227.15v2M382.4 432.8v-3M382.4 227.15v2M436.3 432.8v-3M436.3 227.15v2M490.2 432.8v-6M490.2 227.15v4M544.2 432.8v-3M544.2 227.15v2M59.0 5.0h6.5M598.4 5.0h-4.2M59.0 33.3h3M598.4 33.3h-2.0M59.0 61.6h6.5M598.4 61.6h-4.2M59.0 89.9h3M598.4 89.9h-2.0M59.0 118.2h6.5M598.4 118.2h-4.2M59.0 146.4h3M598.4 146.4h-2.0M59.0 174.7h6.5M598.4 174.7h-4.2M59.0 236.7h6.5M598.4 236.7h-4.2M59.0 285.7h3M598.4 285.7h-2.0M59.0 334.6h6.5M598.4 334.6h-4.2M59.0 383.6h3M598.4 383.6h-2.0" stroke="#000" stroke-width="1.1" fill="none"/><g fill="#000"><text x="32.0" y="10.0" font-family="Liberation Serif" stroke="#000" stroke-width="0.45" font-size="14" textLength="19" lengthAdjust="spacingAndGlyphs">1.0</text><text x="30.8" y="66.6" font-family="Liberation Serif" stroke="#000" stroke-width="0.45" font-size="14" textLength="20.2" lengthAdjust="spacingAndGlyphs">0.8</text><text x="30.8" y="123.2" font-family="Liberation Serif" stroke="#000" stroke-width="0.45" font-size="14" textLength="20.2" lengthAdjust="spacingAndGlyphs">0.6</text><text x="30.8" y="179.7" font-family="Liberation Serif" stroke="#000" stroke-width="0.45" font-size="14" textLength="20.2" lengthAdjust="spacingAndGlyphs">0.4</text><text x="32.0" y="241.7" font-family="Liberation Serif" stroke="#000" stroke-width="0.45" font-size="14" textLength="19" lengthAdjust="spacingAndGlyphs">1.0</text><text x="30.8" y="339.6" font-family="Liberation Serif" stroke="#000" stroke-width="0.45" font-size="14" textLength="20.2" lengthAdjust="spacingAndGlyphs">0.9</text><text x="30.8" y="437.5" font-family="Liberation Serif" stroke="#000" stroke-width="0.45" font-size="14" textLength="20.2" lengthAdjust="spacingAndGlyphs">0.8</text><text x="149.9" y="218.1" font-family="Liberation Serif" stroke="#000" stroke-width="0.45" font-size="14" textLength="33.4" lengthAdjust="spacingAndGlyphs">5160</text><text x="419.6" y="218.1" font-family="Liberation Serif" stroke="#000" stroke-width="0.45" font-size="14" textLength="33.4" lengthAdjust="spacingAndGlyphs">5165</text><text x="203.8" y="448.1" font-family="Liberation Serif" stroke="#000" stroke-width="0.45" font-size="14" textLength="33.4" lengthAdjust="spacingAndGlyphs">5630</text><text x="473.5" y="448.1" font-family="Liberation Serif" stroke="#000" stroke-width="0.45" font-size="14" textLength="33.4" lengthAdjust="spacingAndGlyphs">5635</text><text x="276.2" y="461.6" font-family="Liberation Mono" font-weight="bold" stroke="#000" stroke-width="0.2" font-size="14.2" textLength="104.4" lengthAdjust="spacingAndGlyphs">Wavelength (Å)</text><text transform="translate(11.6 268.6) rotate(-90)" x="0" y="0" font-family="Liberation Mono" font-weight="bold" stroke="#000" stroke-width="0.2" font-size="13.2" textLength="99.6" lengthAdjust="spacingAndGlyphs">Relative Flux</text><text transform="translate(563.8 125.5) rotate(-90)" x="0" y="0" font-family="Liberation Mono" font-weight="bold" stroke="#000" stroke-width="0.2" font-size="13.2" textLength="72.4" lengthAdjust="spacingAndGlyphs">Mg I + Fe I</text><text x="217.2" y="408.4" font-family="Liberation Mono" font-weight="bold" stroke="#000" stroke-width="0.2" font-size="13.2" textLength="61.4" lengthAdjust="spacingAndGlyphs">Arcturus</text><text x="69.6" y="190" font-family="Liberation Sans" font-size="13" textLength="16" lengthAdjust="spacingAndGlyphs">(a)</text><text x="69.6" y="418.8" font-family="Liberation Sans" font-size="13" textLength="15.6" lengthAdjust="spacingAndGlyphs">(b)</text><text x="379.8" y="170.20000000000002" font-family="Liberation Serif" font-weight="bold" stroke="#000" stroke-width="0.35" font-size="5.8" textLength="6.9" lengthAdjust="spacingAndGlyphs">12</text><text x="386.5" y="175.9" font-family="Liberation Sans" stroke="#000" stroke-width="0.32" font-size="13" textLength="7.6" lengthAdjust="spacingAndGlyphs">C</text><text x="394.7" y="178.5" font-family="Liberation Serif" font-weight="bold" stroke="#000" stroke-width="0.35" font-size="6.9" textLength="5.0" lengthAdjust="spacingAndGlyphs">2</text><text x="405.8" y="175.9" font-family="Liberation Sans" stroke="#000" stroke-width="0.32" font-size="13.6" textLength="34.4" lengthAdjust="spacingAndGlyphs">(0–0)</text><text x="373.5" y="187.3" font-family="Liberation Serif" font-weight="bold" stroke="#000" stroke-width="0.35" font-size="5.8" textLength="6.7" lengthAdjust="spacingAndGlyphs">12</text><text x="380.2" y="193.0" font-family="Liberation Sans" stroke="#000" stroke-width="0.32" font-size="13" textLength="7.8" lengthAdjust="spacingAndGlyphs">C</text><text x="387.8" y="187.3" font-family="Liberation Serif" font-weight="bold" stroke="#000" stroke-width="0.35" font-size="5.8" textLength="6.8" lengthAdjust="spacingAndGlyphs">13</text><text x="394.8" y="193.0" font-family="Liberation Sans" stroke="#000" stroke-width="0.32" font-size="13" textLength="9.4" lengthAdjust="spacingAndGlyphs">C</text><text x="411.9" y="193.0" font-family="Liberation Sans" stroke="#000" stroke-width="0.32" font-size="13.6" textLength="34.6" lengthAdjust="spacingAndGlyphs">(0–0)</text><text x="460.2" y="313.7" font-family="Liberation Serif" font-weight="bold" stroke="#000" stroke-width="0.35" font-size="6.9" textLength="6.6" lengthAdjust="spacingAndGlyphs">12</text><text x="466.6" y="318.4" font-family="Liberation Serif" font-weight="bold" stroke="#000" stroke-width="0.3" font-size="13" textLength="7.4" lengthAdjust="spacingAndGlyphs">C</text><text x="475.9" y="321.79999999999995" font-family="Liberation Serif" font-weight="bold" stroke="#000" stroke-width="0.35" font-size="7.6" textLength="4.8" lengthAdjust="spacingAndGlyphs">2</text><text x="487.3" y="318.4" font-family="Liberation Serif" font-weight="bold" font-size="13.4" textLength="33.4" lengthAdjust="spacingAndGlyphs">(0–1)</text></g></svg></body></html>
